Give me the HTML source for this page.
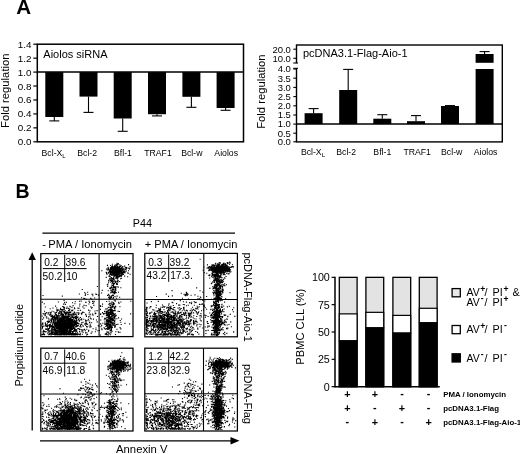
<!DOCTYPE html>
<html><head><meta charset="utf-8"><title>Figure</title>
<style>
html,body{margin:0;padding:0;background:#fff;}
body{width:520px;height:454px;overflow:hidden;}
svg{display:block;font-family:'Liberation Sans', Arial, Helvetica, sans-serif;fill:#000;}
</style></head><body>
<svg width="520" height="454" viewBox="0 0 520 454">
<rect x="0" y="0" width="520" height="454" fill="#fff"/>
<text transform="translate(16.2 13.9) scale(0.98 1)" font-size="21" font-weight="bold">A</text>
<text transform="translate(15.5 197.6) scale(0.93 1)" font-size="21" font-weight="bold">B</text>
<rect x="37.30" y="44.20" width="206.20" height="97.60" fill="none" stroke="#000" stroke-width="1.5"/>
<line x1="33.3" y1="141.8" x2="37.3" y2="141.8" stroke="#000" stroke-width="1.2"/>
<text x="31.6" y="145.3" font-size="9.9" text-anchor="end">0.0</text>
<line x1="33.3" y1="127.86" x2="37.3" y2="127.86" stroke="#000" stroke-width="1.2"/>
<text x="31.6" y="131.36" font-size="9.9" text-anchor="end">0.2</text>
<line x1="33.3" y1="113.91" x2="37.3" y2="113.91" stroke="#000" stroke-width="1.2"/>
<text x="31.6" y="117.41" font-size="9.9" text-anchor="end">0.4</text>
<line x1="33.3" y1="99.97" x2="37.3" y2="99.97" stroke="#000" stroke-width="1.2"/>
<text x="31.6" y="103.47" font-size="9.9" text-anchor="end">0.6</text>
<line x1="33.3" y1="86.03" x2="37.3" y2="86.03" stroke="#000" stroke-width="1.2"/>
<text x="31.6" y="89.53" font-size="9.9" text-anchor="end">0.8</text>
<line x1="33.3" y1="72.09" x2="37.3" y2="72.09" stroke="#000" stroke-width="1.2"/>
<text x="31.6" y="75.59" font-size="9.9" text-anchor="end">1.0</text>
<line x1="33.3" y1="58.14" x2="37.3" y2="58.14" stroke="#000" stroke-width="1.2"/>
<text x="31.6" y="61.64" font-size="9.9" text-anchor="end">1.2</text>
<line x1="33.3" y1="44.2" x2="37.3" y2="44.2" stroke="#000" stroke-width="1.2"/>
<text x="31.6" y="47.7" font-size="9.9" text-anchor="end">1.4</text>
<line x1="37.3" y1="72.09" x2="243.5" y2="72.09" stroke="#000" stroke-width="1.5"/>
<text x="43.3" y="57.5" font-size="11">Aiolos siRNA</text>
<text x="8.8" y="90.7" font-size="11.25" text-anchor="middle" transform="rotate(-90 8.8 90.7)">Fold regulation</text>
<rect x="45.30" y="72.09" width="18.00" height="44.91" fill="#000"/>
<line x1="54.3" y1="117.0" x2="54.3" y2="120.9" stroke="#000" stroke-width="1.1"/>
<line x1="49.3" y1="120.9" x2="59.3" y2="120.9" stroke="#000" stroke-width="1.1"/>
<text x="53.7" y="155.7" font-size="8.7" text-anchor="middle">Bcl-X<tspan font-size="6.2" dy="1.8">L</tspan></text>
<rect x="79.50" y="72.09" width="18.00" height="24.51" fill="#000"/>
<line x1="88.5" y1="96.6" x2="88.5" y2="112.4" stroke="#000" stroke-width="1.1"/>
<line x1="83.5" y1="112.4" x2="93.5" y2="112.4" stroke="#000" stroke-width="1.1"/>
<text x="87.2" y="155.7" font-size="8.7" text-anchor="middle">Bcl-2</text>
<rect x="113.70" y="72.09" width="18.00" height="46.41" fill="#000"/>
<line x1="122.7" y1="118.5" x2="122.7" y2="131.3" stroke="#000" stroke-width="1.1"/>
<line x1="117.7" y1="131.3" x2="127.7" y2="131.3" stroke="#000" stroke-width="1.1"/>
<text x="123.0" y="155.7" font-size="8.7" text-anchor="middle">Bfl-1</text>
<rect x="148.00" y="72.09" width="18.00" height="42.11" fill="#000"/>
<line x1="157.0" y1="114.2" x2="157.0" y2="115.9" stroke="#000" stroke-width="1.1"/>
<line x1="152.0" y1="115.9" x2="162.0" y2="115.9" stroke="#000" stroke-width="1.1"/>
<text x="158.0" y="155.7" font-size="8.7" text-anchor="middle">TRAF1</text>
<rect x="182.40" y="72.09" width="18.00" height="24.71" fill="#000"/>
<line x1="191.4" y1="96.8" x2="191.4" y2="107.3" stroke="#000" stroke-width="1.1"/>
<line x1="186.4" y1="107.3" x2="196.4" y2="107.3" stroke="#000" stroke-width="1.1"/>
<text x="191.8" y="155.7" font-size="8.7" text-anchor="middle">Bcl-w</text>
<rect x="216.60" y="72.09" width="18.00" height="35.91" fill="#000"/>
<line x1="225.6" y1="108.0" x2="225.6" y2="110.3" stroke="#000" stroke-width="1.1"/>
<line x1="220.6" y1="110.3" x2="230.6" y2="110.3" stroke="#000" stroke-width="1.1"/>
<text x="226.2" y="155.7" font-size="8.7" text-anchor="middle">Aiolos</text>
<rect x="296.50" y="45.00" width="205.80" height="96.90" fill="none" stroke="#000" stroke-width="1.4"/>
<rect x="295.00" y="63.20" width="3.00" height="4.80" fill="#fff"/>
<line x1="293.3" y1="141.8" x2="296.5" y2="141.8" stroke="#000" stroke-width="1.1"/>
<text x="290.9" y="145.1" font-size="9.5" text-anchor="end">0.0</text>
<line x1="293.3" y1="133.2" x2="296.5" y2="133.2" stroke="#000" stroke-width="1.1"/>
<text x="290.9" y="136.5" font-size="9.5" text-anchor="end">0.5</text>
<line x1="293.3" y1="124.1" x2="296.5" y2="124.1" stroke="#000" stroke-width="1.1"/>
<text x="290.9" y="127.4" font-size="9.5" text-anchor="end">1.0</text>
<line x1="293.3" y1="115.0" x2="296.5" y2="115.0" stroke="#000" stroke-width="1.1"/>
<text x="290.9" y="118.3" font-size="9.5" text-anchor="end">1.5</text>
<line x1="293.3" y1="105.8" x2="296.5" y2="105.8" stroke="#000" stroke-width="1.1"/>
<text x="290.9" y="109.1" font-size="9.5" text-anchor="end">2.0</text>
<line x1="293.3" y1="96.6" x2="296.5" y2="96.6" stroke="#000" stroke-width="1.1"/>
<text x="290.9" y="99.9" font-size="9.5" text-anchor="end">2.5</text>
<line x1="293.3" y1="87.4" x2="296.5" y2="87.4" stroke="#000" stroke-width="1.1"/>
<text x="290.9" y="90.7" font-size="9.5" text-anchor="end">3.0</text>
<line x1="293.3" y1="78.2" x2="296.5" y2="78.2" stroke="#000" stroke-width="1.1"/>
<text x="290.9" y="81.5" font-size="9.5" text-anchor="end">3.5</text>
<line x1="293.3" y1="69.0" x2="296.5" y2="69.0" stroke="#000" stroke-width="1.1"/>
<text x="290.9" y="72.3" font-size="9.5" text-anchor="end">4.0</text>
<line x1="293.3" y1="49.2" x2="296.5" y2="49.2" stroke="#000" stroke-width="1.1"/>
<text x="290.9" y="52.5" font-size="9.5" text-anchor="end">20.0</text>
<line x1="293.3" y1="58.3" x2="296.5" y2="58.3" stroke="#000" stroke-width="1.1"/>
<text x="290.9" y="61.6" font-size="9.5" text-anchor="end">10.0</text>
<line x1="293.3" y1="63.0" x2="298.0" y2="63.0" stroke="#000" stroke-width="1.1"/>
<line x1="293.3" y1="68.3" x2="298.0" y2="68.3" stroke="#000" stroke-width="1.1"/>
<line x1="296.5" y1="124.0" x2="502.3" y2="124.0" stroke="#000" stroke-width="1.5"/>
<text x="303.0" y="57.0" font-size="11">pcDNA3.1-Flag-Aio-1</text>
<text x="264.9" y="91.6" font-size="11.25" text-anchor="middle" transform="rotate(-90 264.9 91.6)">Fold regulation</text>
<rect x="304.60" y="113.20" width="18.00" height="10.80" fill="#000"/>
<line x1="313.6" y1="113.2" x2="313.6" y2="108.6" stroke="#000" stroke-width="1.1"/>
<line x1="308.6" y1="108.6" x2="318.6" y2="108.6" stroke="#000" stroke-width="1.1"/>
<text x="313.0" y="155.3" font-size="8.7" text-anchor="middle">Bcl-X<tspan font-size="6.2" dy="1.8">L</tspan></text>
<rect x="339.20" y="90.00" width="18.00" height="34.00" fill="#000"/>
<line x1="348.2" y1="90.0" x2="348.2" y2="69.4" stroke="#000" stroke-width="1.1"/>
<line x1="343.2" y1="69.4" x2="353.2" y2="69.4" stroke="#000" stroke-width="1.1"/>
<text x="346.2" y="155.3" font-size="8.7" text-anchor="middle">Bcl-2</text>
<rect x="373.30" y="118.70" width="18.00" height="5.30" fill="#000"/>
<line x1="382.3" y1="118.7" x2="382.3" y2="114.7" stroke="#000" stroke-width="1.1"/>
<line x1="377.3" y1="114.7" x2="387.3" y2="114.7" stroke="#000" stroke-width="1.1"/>
<text x="382.3" y="155.3" font-size="8.7" text-anchor="middle">Bfl-1</text>
<rect x="407.00" y="121.20" width="18.00" height="2.80" fill="#000"/>
<line x1="416.0" y1="121.2" x2="416.0" y2="115.6" stroke="#000" stroke-width="1.1"/>
<line x1="411.0" y1="115.6" x2="421.0" y2="115.6" stroke="#000" stroke-width="1.1"/>
<text x="417.2" y="155.3" font-size="8.7" text-anchor="middle">TRAF1</text>
<rect x="441.00" y="106.00" width="18.00" height="18.00" fill="#000"/>
<line x1="450.0" y1="106.0" x2="450.0" y2="105.6" stroke="#000" stroke-width="1.1"/>
<line x1="445.0" y1="105.6" x2="455.0" y2="105.6" stroke="#000" stroke-width="1.1"/>
<text x="451.7" y="155.3" font-size="8.7" text-anchor="middle">Bcl-w</text>
<rect x="475.60" y="69.00" width="18.00" height="55.00" fill="#000"/>
<text x="485.5" y="155.3" font-size="8.7" text-anchor="middle">Aiolos</text>
<rect x="475.60" y="54.00" width="18.00" height="8.80" fill="#000"/>
<line x1="484.6" y1="54" x2="484.6" y2="51.6" stroke="#000" stroke-width="1.1"/>
<line x1="479.6" y1="51.6" x2="489.6" y2="51.6" stroke="#000" stroke-width="1.1"/>
<text transform="translate(142.3 226.8) scale(1.04 1)" font-size="10.4" text-anchor="middle">P44</text>
<line x1="42.4" y1="233.2" x2="235" y2="233.2" stroke="#000" stroke-width="1.3"/>
<text transform="translate(42.2 248.0) scale(1.04 1)" font-size="10.6">-</text>
<text transform="translate(48.3 248.0) scale(1.055 1)" font-size="10.6">PMA / Ionomycin</text>
<text transform="translate(144.8 247.8) scale(1.045 1)" font-size="10.6">+ PMA / Ionomycin</text>
<line x1="32.2" y1="430.5" x2="32.2" y2="258" stroke="#000" stroke-width="1.3"/>
<polygon points="32.2,252.3 28.5,260 35.9,260" fill="#000"/>
<line x1="40" y1="440.8" x2="232" y2="440.8" stroke="#000" stroke-width="1.2"/>
<polygon points="239.5,440.8 230.5,437 230.5,444.6" fill="#000"/>
<text x="23" y="345.2" font-size="11" text-anchor="middle" transform="rotate(-90 23 345.2)">Propidium Iodide</text>
<text x="141.8" y="452.7" font-size="11.3" text-anchor="middle">Annexin V</text>
<text x="243.5" y="252.5" font-size="11" transform="rotate(90 243.5 252.5)">pcDNA-Flag-Aio-1</text>
<text x="243.5" y="364.0" font-size="11" transform="rotate(90 243.5 364.0)">pcDNA-Flag</text>
<path d="M66.8 323.7h1.1M60.6 323.9h1.1M61.3 319.0h1.1M66.2 333.3h1.1M64.8 332.8h1.1M64.4 328.3h1.1M69.4 313.8h1.1M66.7 329.0h1.1M49.7 313.7h1.1M59.4 319.3h1.1M62.6 327.6h1.1M58.1 329.1h1.1M65.9 327.7h1.1M76.0 320.9h1.1M72.0 329.4h1.1M57.3 321.2h1.1M62.1 323.1h1.1M64.8 329.9h1.1M55.7 322.4h1.1M72.2 321.9h1.1M64.8 319.8h1.1M51.6 328.5h1.1M72.9 325.8h1.1M60.5 311.4h1.1M56.7 324.8h1.1M62.5 329.0h1.1M69.2 315.2h1.1M70.1 330.2h1.1M65.7 334.1h1.1M56.1 312.7h1.1M73.7 321.3h1.1M57.4 317.9h1.1M66.9 312.6h1.1M60.0 333.0h1.1M60.6 324.2h1.1M52.5 322.5h1.1M62.3 334.7h1.1M70.4 317.7h1.1M64.1 333.2h1.1M66.3 327.2h1.1M67.7 334.8h1.1M70.5 325.6h1.1M60.7 327.5h1.1M66.0 317.1h1.1M53.5 334.0h1.1M70.7 324.2h1.1M75.2 316.3h1.1M61.8 329.4h1.1M67.9 327.8h1.1M71.7 326.3h1.1M59.8 320.9h1.1M63.2 332.8h1.1M70.1 319.3h1.1M59.6 334.4h1.1M55.3 317.7h1.1M68.4 334.1h1.1M53.3 334.3h1.1M67.7 320.0h1.1M69.5 333.4h1.1M64.0 327.9h1.1M67.3 326.6h1.1M65.1 324.3h1.1M63.0 329.5h1.1M67.3 330.8h1.1M65.4 334.3h1.1M67.6 328.7h1.1M68.9 321.7h1.1M73.3 333.8h1.1M64.8 317.6h1.1M64.8 328.3h1.1M67.9 322.5h1.1M59.0 327.5h1.1M65.6 334.4h1.1M70.5 330.8h1.1M64.5 334.0h1.1M60.9 334.2h1.1M70.2 325.0h1.1M74.3 331.5h1.1M60.3 313.6h1.1M67.7 323.1h1.1M42.6 333.1h1.1M51.9 333.1h1.1M51.6 330.3h1.1M72.0 326.7h1.1M64.4 324.5h1.1M64.0 331.1h1.1M74.6 324.9h1.1M60.7 332.8h1.1M54.2 333.9h1.1M67.0 322.2h1.1M67.9 326.2h1.1M73.1 328.3h1.1M54.4 334.4h1.1M51.8 318.3h1.1M68.6 334.4h1.1M55.8 334.1h1.1M63.6 321.2h1.1M56.3 327.0h1.1M43.7 331.4h1.1M67.6 319.9h1.1M58.9 334.8h1.1M66.1 328.3h1.1M55.2 334.8h1.1M44.1 334.6h1.1M57.1 321.9h1.1M61.7 322.0h1.1M64.8 334.2h1.1M60.0 309.4h1.1M69.2 312.5h1.1M58.3 327.7h1.1M69.3 325.4h1.1M73.0 326.1h1.1M70.9 325.1h1.1M75.2 334.6h1.1M65.6 316.6h1.1M58.5 331.5h1.1M58.5 332.7h1.1M61.1 317.1h1.1M63.9 333.0h1.1M63.6 325.8h1.1M58.5 326.8h1.1M65.0 314.4h1.1M60.6 319.7h1.1M61.8 316.6h1.1M59.4 326.2h1.1M60.8 320.6h1.1M75.8 323.5h1.1M62.5 316.5h1.1M46.2 326.5h1.1M66.6 316.5h1.1M62.6 317.1h1.1M55.1 322.8h1.1M61.2 317.7h1.1M58.7 333.9h1.1M60.9 330.6h1.1M56.3 309.9h1.1M59.5 327.5h1.1M68.6 331.0h1.1M65.4 330.2h1.1M68.0 334.8h1.1M47.1 328.7h1.1M72.9 331.8h1.1M59.4 323.4h1.1M49.6 334.7h1.1M60.7 332.2h1.1M64.8 304.4h1.1M59.0 327.6h1.1M66.8 317.8h1.1M67.2 323.0h1.1M74.0 320.8h1.1M64.1 334.3h1.1M63.5 324.3h1.1M72.2 320.7h1.1M62.7 323.0h1.1M61.7 333.8h1.1M66.6 329.9h1.1M66.2 334.7h1.1M68.7 330.5h1.1M55.5 334.7h1.1M76.7 334.8h1.1M57.9 315.7h1.1M64.3 327.5h1.1M55.5 322.7h1.1M70.8 334.2h1.1M59.9 326.4h1.1M60.7 327.1h1.1M56.6 330.5h1.1M71.1 320.8h1.1M60.3 330.5h1.1M69.7 331.4h1.1M66.6 325.7h1.1M65.0 326.7h1.1M69.2 327.3h1.1M75.0 321.5h1.1M71.6 323.5h1.1M69.3 328.3h1.1M63.6 330.8h1.1M64.1 334.3h1.1M71.0 328.4h1.1M61.5 328.5h1.1M55.6 328.6h1.1M63.4 312.2h1.1M68.6 319.0h1.1M43.0 317.9h1.1M74.9 318.2h1.1M52.5 322.8h1.1M66.9 320.2h1.1M64.3 329.0h1.1M68.3 334.7h1.1M65.7 327.0h1.1M50.0 333.2h1.1M57.5 322.8h1.1M69.3 325.8h1.1M64.1 321.5h1.1M64.9 320.3h1.1M58.1 334.3h1.1M82.7 326.1h1.1M69.6 323.1h1.1M63.0 332.4h1.1M64.4 317.3h1.1M71.5 328.0h1.1M63.1 331.0h1.1M67.1 331.5h1.1M63.4 326.9h1.1M68.2 323.8h1.1M58.2 318.1h1.1M51.8 325.5h1.1M47.7 322.4h1.1M67.3 320.7h1.1M62.5 329.5h1.1M52.2 323.9h1.1M66.9 333.9h1.1M54.1 317.6h1.1M59.1 327.0h1.1M61.6 317.3h1.1M51.1 331.9h1.1M54.0 329.8h1.1M55.8 333.8h1.1M57.8 323.7h1.1M63.7 329.2h1.1M65.7 323.4h1.1M54.6 330.1h1.1M55.3 318.7h1.1M55.0 322.1h1.1M63.2 334.1h1.1M62.8 316.8h1.1M60.6 324.1h1.1M57.2 325.1h1.1M65.6 330.4h1.1M57.8 324.9h1.1M42.3 324.3h1.1M63.2 318.6h1.1M64.5 315.0h1.1M52.5 326.5h1.1M60.6 323.7h1.1M67.6 328.7h1.1M56.5 325.2h1.1M62.5 324.5h1.1M65.2 330.6h1.1M52.7 320.4h1.1M57.3 322.9h1.1M62.1 317.7h1.1M63.8 322.1h1.1M59.8 329.2h1.1M60.5 335.0h1.1M66.5 313.0h1.1M61.3 333.0h1.1M68.1 324.9h1.1M61.2 330.0h1.1M60.9 322.1h1.1M60.1 308.4h1.1M73.4 334.2h1.1M62.1 310.9h1.1M57.7 324.0h1.1M57.7 332.0h1.1M63.1 326.1h1.1M63.4 317.8h1.1M66.9 324.3h1.1M68.5 322.1h1.1M62.6 325.7h1.1M48.4 325.6h1.1M74.8 334.1h1.1M59.3 330.2h1.1M68.4 320.6h1.1M62.9 334.8h1.1M69.1 320.8h1.1M65.3 325.2h1.1M71.6 334.7h1.1M60.7 330.4h1.1M72.0 324.7h1.1M69.8 328.0h1.1M58.7 334.0h1.1M50.6 315.0h1.1M59.5 333.7h1.1M60.6 325.1h1.1M54.7 324.7h1.1M52.0 325.7h1.1M65.3 325.0h1.1M61.2 328.8h1.1M64.2 319.2h1.1M74.9 322.1h1.1M62.1 330.9h1.1M57.6 322.2h1.1M60.3 318.9h1.1M66.9 327.6h1.1M78.9 329.5h1.1M63.0 320.6h1.1M48.8 334.5h1.1M66.8 328.4h1.1M66.7 330.9h1.1M66.0 329.9h1.1M72.8 325.0h1.1M54.7 334.3h1.1M67.0 319.3h1.1M61.8 318.8h1.1M65.3 324.2h1.1M82.6 322.3h1.1M69.3 331.3h1.1M51.9 315.9h1.1M68.9 326.7h1.1M70.6 325.6h1.1M69.2 309.1h1.1M50.4 333.8h1.1M63.2 327.3h1.1M47.3 321.8h1.1M64.6 316.3h1.1M63.0 332.5h1.1M56.6 334.0h1.1M62.0 330.7h1.1M65.7 328.6h1.1M61.3 315.0h1.1M58.6 334.2h1.1M54.6 326.2h1.1M62.3 323.6h1.1M57.5 326.5h1.1M57.7 334.3h1.1M66.7 324.3h1.1M73.8 325.4h1.1M59.4 324.4h1.1M66.9 333.2h1.1M59.2 319.5h1.1M73.1 327.1h1.1M63.4 331.4h1.1M67.6 308.3h1.1M50.5 316.6h1.1M63.8 320.4h1.1M82.3 325.8h1.1M56.7 323.8h1.1M64.2 333.6h1.1M55.9 322.2h1.1M74.2 325.0h1.1M60.5 330.0h1.1M64.4 331.7h1.1M68.5 316.2h1.1M75.8 329.5h1.1M54.0 324.9h1.1M82.3 330.6h1.1M76.0 320.6h1.1M68.3 326.1h1.1M56.6 325.9h1.1M60.3 333.3h1.1M67.9 327.4h1.1M68.6 316.5h1.1M61.6 329.2h1.1M66.2 321.7h1.1M62.3 329.3h1.1M63.8 327.8h1.1M73.0 313.8h1.1M54.7 334.0h1.1M62.7 334.6h1.1M79.3 332.0h1.1M61.0 325.5h1.1M56.6 322.0h1.1M67.8 321.1h1.1M63.5 325.8h1.1M69.9 324.3h1.1M61.9 329.0h1.1M61.8 330.2h1.1M74.0 317.4h1.1M55.7 328.8h1.1M65.6 333.1h1.1M75.2 314.5h1.1M69.7 327.8h1.1M61.8 326.9h1.1M70.3 314.7h1.1M60.8 325.7h1.1M63.5 328.0h1.1M60.1 330.2h1.1M46.7 325.2h1.1M68.1 322.5h1.1M60.2 334.9h1.1M75.0 324.7h1.1M68.5 323.2h1.1M63.3 333.9h1.1M49.4 314.3h1.1M63.8 330.6h1.1M65.9 308.2h1.1M60.8 332.1h1.1M71.0 325.5h1.1M63.7 309.5h1.1M75.4 330.7h1.1M48.8 324.6h1.1M52.7 326.9h1.1M68.8 322.6h1.1M73.1 317.6h1.1M65.4 329.6h1.1M57.2 325.6h1.1M63.7 327.2h1.1M60.8 319.6h1.1M61.0 333.8h1.1M66.1 325.2h1.1M68.0 332.3h1.1M54.9 323.6h1.1M70.8 326.2h1.1M55.1 317.9h1.1M48.2 325.3h1.1M59.6 323.7h1.1M57.6 328.7h1.1M60.0 319.3h1.1M57.9 325.2h1.1M68.7 325.6h1.1M75.9 333.8h1.1M59.8 320.0h1.1M77.4 308.1h1.1M62.7 320.4h1.1M52.6 329.2h1.1M62.7 328.7h1.1M65.2 312.7h1.1M48.8 333.9h1.1M64.5 331.2h1.1M66.3 328.8h1.1M61.3 334.6h1.1M59.8 331.6h1.1M56.8 330.6h1.1M76.1 324.7h1.1M61.7 328.6h1.1M56.9 317.5h1.1M70.1 326.9h1.1M66.9 328.5h1.1M73.2 325.2h1.1M58.8 322.8h1.1M63.4 331.7h1.1M58.6 323.6h1.1M67.7 323.7h1.1M53.8 328.0h1.1M64.3 328.5h1.1M68.8 318.5h1.1M60.4 323.5h1.1M73.0 331.1h1.1M66.3 320.7h1.1M80.5 319.4h1.1M72.0 322.0h1.1M69.1 321.0h1.1M43.6 334.6h1.1M74.5 329.2h1.1M63.7 325.7h1.1M58.3 331.5h1.1M55.9 328.6h1.1M57.3 331.3h1.1M64.1 326.1h1.1M59.5 316.0h1.1M61.2 328.1h1.1M57.9 320.7h1.1M62.8 321.6h1.1M72.0 323.7h1.1M61.3 328.5h1.1M63.8 312.9h1.1M61.9 330.0h1.1M75.9 333.8h1.1M63.2 323.2h1.1M59.6 331.7h1.1M57.0 333.5h1.1M58.9 327.4h1.1M57.7 326.6h1.1M71.3 314.3h1.1M58.7 327.6h1.1M70.5 326.9h1.1M62.1 318.7h1.1M66.9 329.3h1.1M46.9 323.2h1.1M65.4 334.2h1.1M60.8 325.6h1.1M59.7 327.3h1.1M57.3 318.3h1.1M58.3 321.3h1.1M67.8 317.4h1.1M68.0 316.3h1.1M65.6 318.4h1.1M64.5 334.4h1.1M75.8 326.6h1.1M54.7 327.0h1.1M70.7 328.9h1.1M65.4 328.4h1.1M64.4 322.7h1.1M66.2 317.7h1.1M65.7 334.9h1.1M49.8 324.2h1.1M62.8 323.2h1.1M62.8 318.7h1.1M61.7 329.1h1.1M43.1 334.1h1.1M58.4 327.3h1.1M61.9 333.6h1.1M58.4 334.8h1.1M45.9 329.4h1.1M65.8 331.5h1.1M58.5 325.7h1.1M59.3 330.0h1.1M59.1 327.1h1.1M62.7 309.8h1.1M68.7 326.9h1.1M62.7 319.4h1.1M64.1 329.8h1.1M78.1 334.2h1.1M48.4 319.1h1.1M74.6 331.5h1.1M69.1 332.0h1.1M57.5 321.2h1.1M56.0 331.7h1.1M55.4 312.8h1.1M77.6 334.2h1.1M71.3 315.6h1.1M86.0 323.5h1.1M59.6 319.7h1.1M54.8 326.2h1.1M74.2 330.6h1.1M67.2 334.7h1.1M46.2 312.6h1.1M57.2 316.6h1.1M63.4 325.3h1.1M63.9 329.4h1.1M57.6 319.9h1.1M61.7 310.7h1.1M67.0 328.9h1.1M61.6 324.7h1.1M63.1 332.1h1.1M67.4 330.7h1.1M72.9 327.0h1.1M60.2 321.5h1.1M56.9 319.8h1.1M76.3 334.7h1.1M65.7 327.4h1.1M51.2 316.3h1.1M55.4 326.9h1.1M64.1 325.4h1.1M55.2 320.0h1.1M71.8 319.6h1.1M69.1 310.1h1.1M57.2 325.0h1.1M61.7 327.2h1.1M61.4 318.5h1.1M65.6 325.7h1.1M61.8 325.7h1.1M57.3 309.7h1.1M66.9 328.4h1.1M57.3 319.0h1.1M52.1 317.4h1.1M68.8 328.2h1.1M65.2 324.8h1.1M54.4 334.9h1.1M62.1 325.3h1.1M52.5 332.0h1.1M65.7 314.3h1.1M64.5 320.7h1.1M66.3 329.5h1.1M64.6 331.6h1.1M51.2 325.5h1.1M53.1 331.7h1.1M72.6 324.6h1.1M68.2 314.1h1.1M62.1 320.1h1.1M47.6 314.1h1.1M78.3 328.5h1.1M63.5 330.9h1.1M75.4 326.5h1.1M58.7 334.6h1.1M58.3 330.1h1.1M79.5 326.5h1.1M54.4 318.2h1.1M44.7 315.6h1.1M65.7 312.4h1.1M48.8 321.0h1.1M67.6 315.1h1.1M60.2 320.1h1.1M73.3 327.8h1.1M70.8 334.8h1.1M63.6 328.8h1.1M59.9 331.3h1.1M64.4 326.6h1.1M66.0 334.2h1.1M51.2 321.8h1.1M67.0 334.1h1.1M73.6 317.1h1.1M48.4 331.7h1.1M69.1 333.9h1.1M61.7 328.6h1.1M66.5 326.4h1.1M66.1 334.0h1.1M52.4 316.8h1.1M58.3 321.6h1.1M65.0 328.1h1.1M57.8 325.7h1.1M70.2 322.4h1.1M63.7 330.8h1.1M74.8 323.2h1.1M67.9 321.3h1.1M60.9 333.6h1.1M54.5 331.3h1.1M64.5 332.6h1.1M68.0 314.4h1.1M72.7 319.3h1.1M61.7 320.7h1.1M60.4 327.5h1.1M58.7 327.3h1.1M63.0 330.2h1.1M42.0 327.0h1.1M63.2 333.6h1.1M63.7 313.0h1.1M71.1 328.8h1.1M74.7 317.9h1.1M81.2 324.4h1.1M68.1 324.5h1.1M54.5 322.9h1.1M69.8 333.2h1.1M69.5 334.2h1.1M52.5 327.8h1.1M69.0 321.1h1.1M72.8 313.9h1.1M71.2 335.0h1.1M68.7 327.0h1.1M57.7 332.2h1.1M73.8 315.0h1.1M71.4 326.3h1.1M60.4 314.0h1.1M52.0 325.7h1.1M68.5 321.9h1.1M75.1 333.0h1.1M52.3 319.5h1.1M70.1 329.1h1.1M53.1 326.9h1.1M69.0 331.0h1.1M59.2 329.4h1.1M69.0 327.6h1.1M48.9 321.6h1.1M66.6 327.8h1.1M69.7 325.6h1.1M62.3 321.4h1.1M67.3 323.4h1.1M61.0 334.9h1.1M62.1 328.7h1.1M77.5 310.5h1.1M51.1 328.7h1.1M64.9 321.3h1.1M60.2 323.3h1.1M70.2 327.4h1.1M64.6 332.4h1.1M51.6 328.2h1.1M62.9 315.6h1.1M63.9 321.7h1.1M58.3 319.8h1.1M46.4 324.6h1.1M67.2 317.2h1.1M55.0 325.5h1.1M75.0 327.0h1.1M54.0 334.3h1.1M48.8 321.3h1.1M53.1 321.2h1.1M64.8 319.7h1.1M60.5 323.3h1.1M69.4 314.8h1.1M52.5 323.2h1.1M70.9 325.5h1.1M65.9 316.1h1.1M69.1 316.7h1.1M60.9 329.5h1.1M52.1 318.6h1.1M68.6 319.3h1.1M62.6 327.4h1.1M61.7 321.5h1.1M45.2 328.8h1.1M62.5 322.3h1.1M58.7 317.7h1.1M54.0 323.8h1.1M52.0 317.1h1.1M61.9 318.4h1.1M61.3 330.1h1.1M56.0 322.7h1.1M59.1 325.8h1.1M62.3 332.0h1.1M65.1 330.8h1.1M63.7 324.6h1.1M66.8 319.1h1.1M56.2 323.4h1.1M68.3 325.0h1.1M45.0 324.6h1.1M62.0 320.7h1.1M55.8 327.7h1.1M66.8 326.4h1.1M49.3 327.6h1.1M56.6 320.3h1.1M60.9 320.9h1.1M61.4 331.9h1.1M52.2 317.2h1.1M55.1 328.7h1.1M72.2 323.1h1.1M73.1 334.9h1.1M74.7 317.2h1.1M70.3 324.8h1.1M71.0 325.3h1.1M63.5 325.7h1.1M56.9 324.5h1.1M69.4 325.7h1.1M64.0 318.2h1.1M54.5 318.8h1.1M76.2 315.1h1.1M60.9 327.0h1.1M48.4 332.7h1.1M58.9 326.3h1.1M53.6 330.3h1.1M63.1 326.6h1.1M59.6 334.7h1.1M65.5 328.6h1.1M76.0 326.7h1.1M66.5 323.2h1.1M55.3 334.8h1.1M56.4 332.9h1.1M51.9 327.5h1.1M54.7 334.0h1.1M74.0 329.0h1.1M60.5 314.2h1.1M68.9 312.1h1.1M60.9 320.3h1.1M67.1 325.9h1.1M63.1 323.1h1.1M63.8 321.7h1.1M63.4 317.3h1.1M59.2 312.0h1.1M63.6 334.4h1.1M58.6 315.9h1.1M56.7 329.2h1.1M72.4 310.0h1.1M67.9 334.4h1.1M61.6 324.4h1.1M55.6 317.3h1.1M60.1 331.2h1.1M61.9 333.8h1.1M64.5 310.6h1.1M65.5 334.2h1.1M75.8 318.1h1.1M69.4 320.2h1.1M60.9 313.6h1.1M70.8 327.3h1.1M67.5 317.6h1.1M57.3 328.2h1.1M56.1 328.8h1.1M62.8 319.9h1.1M62.1 306.5h1.1M51.8 318.5h1.1M68.7 322.5h1.1M72.6 322.7h1.1M53.0 317.4h1.1M66.0 333.9h1.1M62.3 323.4h1.1M63.8 325.3h1.1M78.9 331.3h1.1M55.9 317.5h1.1M46.8 329.2h1.1M56.2 318.1h1.1M54.6 317.9h1.1M56.4 316.8h1.1M73.9 327.9h1.1M66.3 314.0h1.1M65.8 329.1h1.1M66.0 333.9h1.1M56.9 321.8h1.1M51.0 330.9h1.1M60.7 320.5h1.1M70.5 323.1h1.1M70.3 322.4h1.1M49.2 315.2h1.1M66.3 334.0h1.1M63.9 328.9h1.1M53.7 328.9h1.1M58.9 332.1h1.1M63.6 332.4h1.1M53.2 311.7h1.1M61.9 333.4h1.1M64.8 322.7h1.1M58.8 322.5h1.1M64.0 326.2h1.1M63.3 334.9h1.1M62.3 328.4h1.1M60.0 328.0h1.1M64.3 334.7h1.1M58.1 325.0h1.1M67.0 334.1h1.1M53.3 332.5h1.1M68.4 334.0h1.1M54.8 323.5h1.1M60.6 330.4h1.1M60.3 335.0h1.1M64.0 334.0h1.1M66.1 330.8h1.1M58.4 325.0h1.1M56.2 330.7h1.1M65.6 331.7h1.1M59.2 318.8h1.1M59.1 323.8h1.1M56.0 327.5h1.1M54.5 319.4h1.1M66.6 319.5h1.1M45.1 329.3h1.1M53.4 327.5h1.1M65.5 324.8h1.1M61.0 334.0h1.1M72.0 320.8h1.1M60.9 334.3h1.1M70.5 322.8h1.1M58.2 330.7h1.1M53.5 321.7h1.1M54.6 334.7h1.1M63.0 331.0h1.1M67.7 317.3h1.1M48.4 331.4h1.1M66.7 334.0h1.1M55.6 331.6h1.1M77.6 323.5h1.1M52.1 329.2h1.1M59.3 331.0h1.1M67.9 333.2h1.1M58.1 326.9h1.1M45.3 325.5h1.1M73.3 326.5h1.1M55.3 322.1h1.1M68.6 326.9h1.1M49.5 325.6h1.1M63.8 322.6h1.1M50.7 329.7h1.1M72.9 326.5h1.1M53.4 334.4h1.1M64.4 316.3h1.1M67.6 327.2h1.1M73.7 330.1h1.1M70.4 319.6h1.1M68.2 318.6h1.1M64.8 326.8h1.1M62.8 332.3h1.1M69.6 333.3h1.1M58.6 326.4h1.1M58.9 320.2h1.1M62.8 324.1h1.1M67.8 334.0h1.1M63.8 316.5h1.1M76.1 324.6h1.1M71.2 310.4h1.1M49.0 326.9h1.1M61.6 330.7h1.1M64.2 330.1h1.1M65.8 326.7h1.1M66.0 334.0h1.1M56.8 330.8h1.1M57.5 334.9h1.1M58.5 319.8h1.1M76.1 334.7h1.1M58.7 316.3h1.1M59.9 334.5h1.1M64.4 321.6h1.1M57.9 334.7h1.1M64.4 330.7h1.1M76.1 316.5h1.1M54.8 334.9h1.1M51.3 328.0h1.1M45.3 313.2h1.1M64.4 329.2h1.1M45.0 326.0h1.1M57.2 322.9h1.1M56.0 315.6h1.1M67.1 330.4h1.1M66.9 325.3h1.1M63.5 321.3h1.1M67.2 325.8h1.1M61.9 325.0h1.1M58.0 324.6h1.1M66.9 334.7h1.1M56.8 333.9h1.1M69.3 330.4h1.1M72.9 334.0h1.1M56.9 320.2h1.1M74.9 318.5h1.1M64.5 315.8h1.1M67.2 328.6h1.1M67.1 334.3h1.1M75.1 334.2h1.1M70.7 324.8h1.1M68.0 328.6h1.1M57.1 328.9h1.1M70.6 329.5h1.1M77.9 319.2h1.1M76.8 334.9h1.1M56.0 333.7h1.1M71.4 327.4h1.1M68.7 324.3h1.1M69.9 327.5h1.1M61.4 333.9h1.1M66.6 330.2h1.1M61.4 327.4h1.1M56.7 324.6h1.1M62.8 326.7h1.1M56.5 327.7h1.1M63.3 325.8h1.1M54.9 329.7h1.1M70.4 328.4h1.1M60.1 329.7h1.1M61.2 322.1h1.1M74.8 330.6h1.1M58.1 324.4h1.1M64.5 328.1h1.1M57.3 319.1h1.1M68.1 324.8h1.1M55.2 317.1h1.1M53.6 329.0h1.1M65.6 326.3h1.1M55.2 324.7h1.1M60.4 325.1h1.1M56.6 327.9h1.1M50.2 333.1h1.1M63.0 324.3h1.1M58.3 332.2h1.1M58.6 329.3h1.1M76.2 330.7h1.1M66.3 322.7h1.1M70.3 319.0h1.1M63.2 334.0h1.1M66.0 317.6h1.1M71.2 333.5h1.1M49.0 331.2h1.1M73.8 320.7h1.1M71.5 316.9h1.1M68.7 333.9h1.1M63.2 317.1h1.1M61.2 317.0h1.1M65.5 334.7h1.1M66.2 326.8h1.1M77.0 325.5h1.1M63.6 328.6h1.1M58.2 324.0h1.1M64.1 334.9h1.1M58.7 317.9h1.1M59.6 324.5h1.1M54.1 333.1h1.1M64.0 328.9h1.1M63.3 317.3h1.1M66.8 324.8h1.1M65.3 322.3h1.1M54.7 313.8h1.1M70.9 331.0h1.1M58.4 325.4h1.1M47.1 333.1h1.1M68.1 319.9h1.1M55.1 330.1h1.1M74.0 312.3h1.1M56.1 326.6h1.1M69.8 325.9h1.1M71.4 307.4h1.1M47.1 330.7h1.1M49.4 330.9h1.1M66.0 333.5h1.1M58.3 334.7h1.1M68.0 316.8h1.1M70.0 319.8h1.1M66.4 332.3h1.1M62.9 324.1h1.1M78.4 334.1h1.1M58.8 334.6h1.1M48.2 330.8h1.1M61.6 326.9h1.1M58.3 322.0h1.1M57.5 323.1h1.1M58.4 310.1h1.1M59.0 321.7h1.1M61.9 318.1h1.1M61.0 331.0h1.1M73.3 322.1h1.1M70.0 332.3h1.1M60.5 333.6h1.1M71.4 324.6h1.1M62.0 321.6h1.1M65.8 328.1h1.1M70.4 323.6h1.1M68.5 324.3h1.1M68.0 333.0h1.1M54.1 330.6h1.1M58.2 316.3h1.1M74.4 328.8h1.1M65.3 316.9h1.1M57.4 319.5h1.1M68.2 323.6h1.1M71.9 327.0h1.1M69.7 318.6h1.1M63.5 332.0h1.1M58.7 328.8h1.1M59.9 317.9h1.1M84.9 321.0h1.1M75.5 322.1h1.1M65.3 326.9h1.1M57.0 330.7h1.1M65.8 331.9h1.1M67.5 314.9h1.1M66.4 329.4h1.1M59.8 334.8h1.1M69.0 322.1h1.1M53.6 321.1h1.1M51.5 333.1h1.1M61.6 314.1h1.1M50.1 325.0h1.1M65.0 313.4h1.1M46.7 321.5h1.1M74.0 335.0h1.1M52.9 326.4h1.1M63.2 307.5h1.1M59.5 318.9h1.1M47.9 328.5h1.1M58.3 320.2h1.1M65.4 318.1h1.1M56.7 324.5h1.1M69.1 318.6h1.1M67.4 320.9h1.1M48.6 328.6h1.1M63.0 317.9h1.1M68.9 327.9h1.1M70.8 331.1h1.1M61.4 322.9h1.1M59.7 330.9h1.1M50.9 332.9h1.1M61.6 330.1h1.1M70.4 311.7h1.1M63.1 327.7h1.1M59.4 318.0h1.1M56.7 334.4h1.1M62.9 333.9h1.1M61.7 314.9h1.1M67.5 320.4h1.1M59.0 320.1h1.1M59.3 334.4h1.1M67.2 331.0h1.1M68.6 318.2h1.1M55.9 312.6h1.1M61.0 333.4h1.1M66.9 316.4h1.1M62.8 331.9h1.1M60.3 312.9h1.1M68.8 328.4h1.1M61.0 334.4h1.1M73.3 334.2h1.1M42.1 334.6h1.1M57.8 331.1h1.1M68.2 328.7h1.1M62.3 317.2h1.1M67.4 327.2h1.1M55.4 319.0h1.1M82.2 312.0h1.1M61.3 324.2h1.1M70.0 315.0h1.1M73.9 321.8h1.1M63.1 331.5h1.1M54.5 330.6h1.1M58.6 323.2h1.1M63.1 316.6h1.1M73.9 324.5h1.1M57.8 302.0h1.1M59.4 319.1h1.1M66.0 328.5h1.1M59.3 325.7h1.1M65.7 329.0h1.1M61.0 312.6h1.1M54.0 315.9h1.1M63.4 326.5h1.1M56.3 326.3h1.1M56.0 324.1h1.1M68.2 328.2h1.1M72.6 334.3h1.1M69.7 321.0h1.1M64.6 323.7h1.1M56.6 332.7h1.1M60.9 332.8h1.1M59.0 321.6h1.1M67.7 334.0h1.1M77.9 319.6h1.1M57.0 327.9h1.1M51.4 311.3h1.1M63.5 308.4h1.1M70.5 325.8h1.1M57.7 324.5h1.1M77.4 320.3h1.1M64.3 313.1h1.1M67.6 325.7h1.1M66.7 322.7h1.1M61.8 331.2h1.1M61.5 322.3h1.1M61.4 318.7h1.1M64.5 323.4h1.1M72.9 334.9h1.1M67.5 322.4h1.1M68.7 327.6h1.1M65.0 325.7h1.1M57.0 322.2h1.1M72.8 331.6h1.1M66.3 330.1h1.1M59.5 327.4h1.1M68.0 313.0h1.1M58.7 326.9h1.1M72.7 318.7h1.1M76.3 312.9h1.1M81.0 330.0h1.1M62.8 320.5h1.1M64.1 322.0h1.1M57.3 324.0h1.1M57.0 333.0h1.1M67.2 321.9h1.1M59.6 321.7h1.1M60.2 328.0h1.1M62.2 316.8h1.1M75.9 324.0h1.1M70.3 317.8h1.1M60.2 320.0h1.1M65.0 323.2h1.1M76.2 331.5h1.1M73.1 321.0h1.1M69.1 332.5h1.1M69.8 320.2h1.1M65.6 324.7h1.1M68.0 323.6h1.1M71.5 333.3h1.1M70.5 324.1h1.1M55.8 333.9h1.1M59.9 327.9h1.1M64.8 325.2h1.1M52.8 321.1h1.1M69.3 321.2h1.1M53.0 319.6h1.1M77.7 325.6h1.1M71.5 319.6h1.1M66.4 326.9h1.1M56.5 334.1h1.1M63.5 327.4h1.1M67.2 327.9h1.1M70.0 323.3h1.1M64.6 331.4h1.1M59.3 322.7h1.1M54.6 330.3h1.1M57.3 324.4h1.1M67.5 315.7h1.1M63.2 325.3h1.1M51.6 331.6h1.1M65.1 325.0h1.1M54.7 331.3h1.1M64.6 330.5h1.1M71.6 335.0h1.1M79.3 329.3h1.1M59.7 325.5h1.1M55.8 323.1h1.1M48.7 325.3h1.1M66.2 324.9h1.1M60.3 332.4h1.1M58.0 334.1h1.1M53.6 330.2h1.1M63.7 323.3h1.1M55.3 323.1h1.1M61.6 309.5h1.1M72.2 333.7h1.1M66.2 334.0h1.1M72.5 324.9h1.1M60.9 334.3h1.1M65.6 325.5h1.1M69.0 321.0h1.1M69.2 327.3h1.1M72.0 332.7h1.1M58.0 323.0h1.1M72.1 325.9h1.1M69.0 310.1h1.1M68.1 322.0h1.1M60.2 328.4h1.1M60.3 319.7h1.1M54.2 329.0h1.1M58.3 325.8h1.1M54.1 320.8h1.1M66.1 313.9h1.1M59.7 327.2h1.1M69.9 323.9h1.1M65.5 326.2h1.1M67.9 324.6h1.1M55.0 323.2h1.1M67.3 330.2h1.1M64.4 319.0h1.1M65.5 326.8h1.1M64.6 334.1h1.1M69.0 333.8h1.1M61.5 322.4h1.1M63.5 318.0h1.1M71.8 328.7h1.1M63.8 334.2h1.1M50.2 314.1h1.1M58.2 322.4h1.1M67.1 325.6h1.1M65.2 334.0h1.1M67.6 324.2h1.1M51.7 316.7h1.1M60.9 329.3h1.1M49.0 328.3h1.1M56.2 325.2h1.1M76.0 330.7h1.1M69.5 322.6h1.1M60.6 319.1h1.1M58.0 328.0h1.1M65.5 334.3h1.1M52.8 316.5h1.1M47.1 321.3h1.1M59.9 333.2h1.1M63.0 321.4h1.1M72.5 322.7h1.1M68.6 334.9h1.1M70.0 329.4h1.1M62.3 328.5h1.1M65.0 332.8h1.1M74.3 329.6h1.1M63.2 334.0h1.1M55.2 327.2h1.1M73.9 323.4h1.1M62.2 318.2h1.1M69.9 321.5h1.1M50.7 318.9h1.1M60.4 329.0h1.1M70.8 323.4h1.1M60.2 319.5h1.1M66.0 326.5h1.1M70.5 322.0h1.1M60.0 334.0h1.1M59.8 334.3h1.1M60.5 326.4h1.1M53.6 321.2h1.1M72.4 322.8h1.1M60.4 333.2h1.1M57.8 322.0h1.1M76.1 317.4h1.1M63.8 330.0h1.1M55.5 322.2h1.1M68.6 334.3h1.1M70.2 319.1h1.1M67.6 318.1h1.1M59.9 319.0h1.1M66.1 328.8h1.1M56.8 332.3h1.1M72.8 334.7h1.1M68.2 332.6h1.1M71.8 325.4h1.1M61.1 320.8h1.1M61.3 322.4h1.1M62.1 316.2h1.1M66.7 331.8h1.1M66.6 332.2h1.1M55.7 331.3h1.1M50.5 322.9h1.1M78.3 334.1h1.1M71.5 334.5h1.1M79.9 333.9h1.1M57.9 314.3h1.1M72.9 333.4h1.1M64.9 330.3h1.1M63.9 324.6h1.1M60.0 321.5h1.1M74.3 322.1h1.1M70.1 312.4h1.1M52.3 315.2h1.1M56.4 311.1h1.1M59.6 328.4h1.1M56.0 325.3h1.1M51.5 326.4h1.1M59.5 327.1h1.1M71.8 317.5h1.1M59.1 334.9h1.1M60.8 323.0h1.1M58.8 313.5h1.1M74.2 334.2h1.1M67.9 325.4h1.1M67.7 312.9h1.1M61.1 322.5h1.1M63.4 328.9h1.1M58.3 326.9h1.1M60.8 320.0h1.1M56.1 322.9h1.1M75.2 334.3h1.1M60.2 315.1h1.1M45.6 331.6h1.1M63.6 331.9h1.1M70.2 330.3h1.1M53.2 334.3h1.1M64.0 329.8h1.1M52.5 329.9h1.1M68.3 319.3h1.1M75.3 332.9h1.1M72.5 314.4h1.1M61.0 323.4h1.1M67.6 323.2h1.1M56.7 332.8h1.1M64.2 329.6h1.1M69.5 320.5h1.1M59.4 319.4h1.1M63.6 325.0h1.1M59.7 320.0h1.1M64.0 333.2h1.1M62.8 327.6h1.1M71.9 331.9h1.1M69.0 324.7h1.1M62.9 320.0h1.1M59.0 317.7h1.1M56.6 335.0h1.1M58.1 314.3h1.1M53.5 333.9h1.1M54.9 318.8h1.1M67.6 321.8h1.1M48.1 329.5h1.1M58.6 334.6h1.1M50.5 326.5h1.1M62.3 315.6h1.1M70.7 320.3h1.1M64.4 323.4h1.1M68.7 322.3h1.1M62.3 333.5h1.1M67.2 322.0h1.1M70.0 326.1h1.1M63.6 326.1h1.1M56.9 330.8h1.1M66.3 316.9h1.1M67.3 324.1h1.1M65.6 330.9h1.1M74.4 321.4h1.1M57.3 309.9h1.1M77.4 317.0h1.1M61.4 323.0h1.1M72.0 329.5h1.1M62.4 332.1h1.1M55.0 326.6h1.1M60.9 327.3h1.1M64.5 310.6h1.1M68.7 324.6h1.1M63.6 329.7h1.1M74.7 324.3h1.1M70.5 326.9h1.1M72.8 328.4h1.1M54.7 332.1h1.1M74.6 329.2h1.1M60.6 334.7h1.1M69.6 333.9h1.1M66.4 323.4h1.1M71.7 328.8h1.1M55.3 332.6h1.1M60.5 329.8h1.1M74.2 320.1h1.1M56.7 321.3h1.1M56.7 322.8h1.1M65.7 332.3h1.1M66.0 334.9h1.1M70.6 321.4h1.1M59.6 321.1h1.1M63.2 324.4h1.1M58.5 333.5h1.1M62.7 327.9h1.1M54.9 317.0h1.1M65.9 324.0h1.1M66.5 327.7h1.1M57.8 323.4h1.1M50.9 326.7h1.1M59.3 311.4h1.1M57.0 310.6h1.1M56.5 316.5h1.1M53.4 322.6h1.1M42.0 319.3h1.1M52.4 324.3h1.1M41.9 326.5h1.1M79.0 321.1h1.1M60.9 327.5h1.1M64.3 333.2h1.1M44.9 314.3h1.1M93.3 305.4h1.1M85.1 325.1h1.1M65.1 324.8h1.1M66.9 325.1h1.1M63.3 311.5h1.1M91.5 331.9h1.1M69.0 319.6h1.1M82.5 329.5h1.1M59.8 327.7h1.1M67.5 334.7h1.1M61.8 333.5h1.1M54.4 317.6h1.1M49.7 326.1h1.1M88.6 314.3h1.1M76.7 334.4h1.1M70.9 334.9h1.1M78.5 308.3h1.1M69.6 333.8h1.1M79.1 306.0h1.1M57.3 334.9h1.1M73.2 324.1h1.1M77.3 322.3h1.1M72.2 323.7h1.1M44.8 323.7h1.1M103.3 314.3h1.1M80.0 325.4h1.1M85.0 332.9h1.1M55.9 327.8h1.1M41.7 323.2h1.1M76.5 317.9h1.1M58.6 327.1h1.1M47.5 318.0h1.1M68.4 311.7h1.1M57.5 327.6h1.1M55.2 329.3h1.1M41.5 326.3h1.1M41.3 334.6h1.1M86.1 335.0h1.1M59.5 327.4h1.1M57.6 322.6h1.1M80.6 329.7h1.1M69.8 329.9h1.1M53.3 333.9h1.1M63.0 325.3h1.1M86.4 324.5h1.1M60.1 322.1h1.1M63.2 316.5h1.1M66.0 319.2h1.1M68.4 334.6h1.1M58.9 326.3h1.1M64.0 318.2h1.1M67.0 317.9h1.1M56.7 321.0h1.1M48.2 322.2h1.1M71.3 329.4h1.1M64.1 302.8h1.1M70.8 319.3h1.1M58.0 334.1h1.1M71.5 322.2h1.1M68.3 322.7h1.1M67.6 333.3h1.1M72.5 313.4h1.1M64.9 322.1h1.1M45.9 318.0h1.1M59.0 312.1h1.1M42.6 313.6h1.1M50.6 321.2h1.1M75.8 319.1h1.1M61.3 331.8h1.1M72.3 316.0h1.1M99.9 335.0h1.1M44.8 307.0h1.1M81.3 322.6h1.1M70.2 318.2h1.1M69.6 324.4h1.1M44.5 331.7h1.1M61.2 325.4h1.1M52.6 320.3h1.1M50.4 316.1h1.1M95.2 313.4h1.1M63.6 334.0h1.1M62.3 311.0h1.1M63.1 329.6h1.1M47.9 312.8h1.1M77.6 312.7h1.1M73.3 314.4h1.1M50.7 312.7h1.1M79.9 317.5h1.1M61.0 316.8h1.1M56.8 317.6h1.1M55.5 331.6h1.1M47.9 321.1h1.1M64.8 316.7h1.1M86.6 334.4h1.1M61.1 312.1h1.1M54.6 325.6h1.1M84.8 330.8h1.1M68.0 310.5h1.1M42.6 331.9h1.1M66.9 331.5h1.1M42.6 331.2h1.1M68.7 326.7h1.1M69.5 323.0h1.1M81.8 312.9h1.1M61.5 313.2h1.1M70.3 330.7h1.1M63.1 334.5h1.1M66.6 307.0h1.1M56.1 323.3h1.1M52.2 319.3h1.1M62.2 316.4h1.1M72.1 317.4h1.1M65.1 321.7h1.1M79.6 326.6h1.1M66.3 328.3h1.1M53.2 321.6h1.1M72.1 320.0h1.1M58.5 325.0h1.1M44.0 311.3h1.1M76.5 325.8h1.1M46.1 326.3h1.1M66.3 321.1h1.1M67.8 314.9h1.1M52.9 321.2h1.1M73.7 312.1h1.1M52.2 326.1h1.1M74.7 314.1h1.1M59.6 328.2h1.1M59.8 334.6h1.1M53.4 318.9h1.1M72.8 334.5h1.1M61.0 312.6h1.1M50.7 335.0h1.1M55.5 314.6h1.1M69.3 306.3h1.1M71.0 314.2h1.1M54.6 330.5h1.1M64.3 312.2h1.1M46.2 329.1h1.1M50.3 322.5h1.1M68.4 334.3h1.1M41.3 324.9h1.1M69.7 327.7h1.1M74.6 334.9h1.1M74.9 334.3h1.1M70.1 334.1h1.1M63.9 320.0h1.1M50.8 319.6h1.1M42.5 295.5h1.1M58.2 326.5h1.1M77.0 317.5h1.1M64.9 334.7h1.1M74.7 322.4h1.1M89.2 322.4h1.1M58.1 312.9h1.1M65.5 320.4h1.1M88.0 316.9h1.1M41.6 328.7h1.1M67.5 323.9h1.1M60.6 314.5h1.1M66.8 312.8h1.1M57.2 315.6h1.1M55.2 324.9h1.1M55.4 333.0h1.1M67.0 330.4h1.1M60.7 314.0h1.1M58.9 315.7h1.1M86.4 320.6h1.1M83.2 319.3h1.1M47.0 326.9h1.1M72.0 302.8h1.1M72.5 305.6h1.1M68.4 332.0h1.1M60.3 321.2h1.1M59.6 325.3h1.1M58.8 318.3h1.1M55.6 333.2h1.1M49.0 326.3h1.1M46.1 316.8h1.1M72.0 321.3h1.1M57.2 325.7h1.1M59.1 328.3h1.1M66.9 326.2h1.1M41.9 327.7h1.1M55.0 319.2h1.1M52.4 334.4h1.1M67.1 324.7h1.1M59.9 322.1h1.1M54.2 326.9h1.1M80.5 324.3h1.1M78.6 318.2h1.1M87.0 334.3h1.1M85.7 315.2h1.1M82.5 332.3h1.1M61.8 331.9h1.1M66.1 331.6h1.1M56.3 318.9h1.1M61.8 319.2h1.1M68.1 308.8h1.1M71.8 310.7h1.1M79.5 334.9h1.1M43.4 333.9h1.1M61.7 315.6h1.1M81.1 314.3h1.1M64.1 302.3h1.1M71.7 331.6h1.1M50.2 331.0h1.1M62.0 319.3h1.1M71.4 327.6h1.1M47.8 334.7h1.1M61.9 325.1h1.1M43.7 303.8h1.1M89.4 310.9h1.1M60.0 321.4h1.1M75.8 318.1h1.1M84.9 323.2h1.1M84.1 329.8h1.1M68.2 322.0h1.1M61.3 319.2h1.1M56.2 308.0h1.1M55.3 314.7h1.1M66.7 333.6h1.1M74.2 333.6h1.1M76.0 331.0h1.1M73.5 317.7h1.1M56.8 320.2h1.1M90.6 333.4h1.1M85.2 314.5h1.1M52.8 330.2h1.1M68.1 325.4h1.1M59.0 326.3h1.1M63.8 311.9h1.1M73.3 330.5h1.1M77.3 328.7h1.1M62.9 314.4h1.1M76.0 326.0h1.1M69.9 324.4h1.1M89.7 324.2h1.1M63.1 304.1h1.1M66.4 334.4h1.1M47.1 326.0h1.1M54.7 320.6h1.1M55.9 323.0h1.1M66.7 322.8h1.1M73.2 314.5h1.1M89.8 318.1h1.1M72.1 333.2h1.1M80.8 324.2h1.1M43.4 326.0h1.1M67.2 329.3h1.1M41.8 302.1h1.1M68.1 334.2h1.1M52.5 326.3h1.1M50.0 326.7h1.1M62.5 324.2h1.1M58.5 331.6h1.1M66.5 319.8h1.1M84.6 323.5h1.1M56.7 320.8h1.1M69.4 320.2h1.1M72.1 325.0h1.1M94.4 311.0h1.1M63.1 334.4h1.1M63.8 307.4h1.1M51.6 334.2h1.1M80.7 327.0h1.1M44.6 332.0h1.1M74.8 335.0h1.1M69.7 319.9h1.1M59.3 334.1h1.1M81.8 334.2h1.1M52.6 334.1h1.1M43.1 331.0h1.1M56.0 314.9h1.1M43.2 330.2h1.1M55.5 328.2h1.1M59.6 333.8h1.1M61.3 327.2h1.1M58.9 334.7h1.1M55.4 326.4h1.1M77.1 326.2h1.1M78.5 323.9h1.1M52.7 334.5h1.1M50.9 320.8h1.1M42.3 326.4h1.1M54.7 334.5h1.1M73.3 334.2h1.1M53.3 327.2h1.1M49.6 308.8h1.1M62.3 323.2h1.1M63.6 321.4h1.1M78.7 334.5h1.1M54.7 315.1h1.1M71.2 319.8h1.1M83.4 312.5h1.1M56.1 317.5h1.1M68.9 329.1h1.1M50.1 320.1h1.1M43.5 314.3h1.1M77.0 332.9h1.1M69.7 334.8h1.1M95.9 320.0h1.1M70.5 318.8h1.1M52.1 332.5h1.1M55.4 330.1h1.1M63.5 300.5h1.1M61.8 296.1h1.1M86.2 329.3h1.1M77.0 328.8h1.1M63.5 328.6h1.1M58.6 332.3h1.1M54.3 325.5h1.1M68.2 320.5h1.1M55.0 306.1h1.1M62.4 314.3h1.1M51.5 334.2h1.1M71.8 334.2h1.1M74.7 301.7h1.1M78.0 314.4h1.1M54.1 317.1h1.1M60.7 309.6h1.1M55.0 331.8h1.1M90.3 306.9h1.1M72.1 334.2h1.1M58.4 313.8h1.1M42.3 323.1h1.1M60.0 323.0h1.1M69.7 320.8h1.1M55.5 334.8h1.1M54.5 312.9h1.1M67.2 331.6h1.1M44.8 322.8h1.1M85.1 320.1h1.1M79.2 320.1h1.1M80.6 301.1h1.1M44.5 313.3h1.1M52.1 319.1h1.1M58.7 334.2h1.1M71.1 322.1h1.1M52.4 308.0h1.1M51.9 325.3h1.1M75.5 329.9h1.1M58.1 326.8h1.1M55.5 322.6h1.1M67.4 321.9h1.1M75.7 320.4h1.1M56.6 334.8h1.1M92.5 315.1h1.1M74.3 325.6h1.1M65.8 319.0h1.1M76.4 322.4h1.1M85.5 305.6h1.1M72.2 322.4h1.1M55.7 331.3h1.1M47.6 329.7h1.1M52.3 324.4h1.1M81.3 331.7h1.1M66.5 311.7h1.1M44.4 315.8h1.1M75.6 321.6h1.1M55.5 332.6h1.1M81.3 320.0h1.1M85.7 322.1h1.1M69.7 334.3h1.1M88.0 310.1h1.1M73.1 322.3h1.1M70.4 333.3h1.1M70.9 320.4h1.1M93.0 303.0h1.1M89.4 327.2h1.1M65.9 302.3h1.1M74.2 308.7h1.1M75.5 321.7h1.1M92.0 314.0h1.1M76.6 323.5h1.1M101.2 328.8h1.1M82.3 306.9h1.1M67.5 308.5h1.1M90.5 326.7h1.1M88.2 330.4h1.1M84.2 298.5h1.1M74.2 312.9h1.1M91.1 308.2h1.1M101.6 316.8h1.1M67.8 325.0h1.1M95.4 329.6h1.1M73.8 320.3h1.1M67.8 319.1h1.1M69.6 306.6h1.1M94.8 331.7h1.1M72.6 315.7h1.1M87.8 319.4h1.1M74.3 303.7h1.1M90.6 318.9h1.1M88.4 320.8h1.1M62.6 306.6h1.1M76.4 323.3h1.1M81.1 318.7h1.1M77.7 325.2h1.1M90.0 325.7h1.1M88.0 331.1h1.1M78.9 301.2h1.1M88.6 326.0h1.1M78.5 313.1h1.1M94.6 313.0h1.1M100.1 323.9h1.1M101.1 325.4h1.1M74.0 324.9h1.1M86.3 332.8h1.1M85.9 316.5h1.1M73.9 307.9h1.1M79.8 310.4h1.1M83.5 305.4h1.1M102.3 323.3h1.1M82.5 329.5h1.1M84.2 324.2h1.1M85.1 314.2h1.1M88.3 304.0h1.1M74.9 316.9h1.1M89.3 316.1h1.1M88.7 312.7h1.1M98.2 326.2h1.1M83.5 308.2h1.1M97.7 325.5h1.1M91.1 322.8h1.1M79.3 304.1h1.1M70.3 317.0h1.1M86.8 326.9h1.1M72.0 317.3h1.1M92.9 319.1h1.1M95.4 328.0h1.1M84.0 329.4h1.1M86.0 326.6h1.1M99.7 305.5h1.1M75.1 324.1h1.1M87.0 324.2h1.1M97.3 330.8h1.1M117.8 263.6h1.1M112.8 274.0h1.1M116.9 266.3h1.1M117.1 271.3h1.1M114.4 268.0h1.1M118.5 270.9h1.1M116.9 275.5h1.1M108.0 269.1h1.1M115.5 272.9h1.1M112.6 270.3h1.1M109.9 272.2h1.1M116.4 270.7h1.1M120.3 271.2h1.1M116.3 270.3h1.1M110.7 272.5h1.1M116.2 269.8h1.1M113.3 272.7h1.1M117.2 272.3h1.1M111.0 267.1h1.1M116.4 267.2h1.1M118.4 271.0h1.1M114.1 272.4h1.1M118.7 272.9h1.1M117.6 271.6h1.1M117.2 267.6h1.1M111.9 268.1h1.1M116.4 269.7h1.1M114.8 270.4h1.1M116.6 268.2h1.1M111.2 268.8h1.1M120.9 270.7h1.1M112.4 269.6h1.1M121.7 273.7h1.1M115.2 269.8h1.1M125.9 271.0h1.1M119.3 270.8h1.1M109.8 271.5h1.1M111.8 268.0h1.1M116.3 271.5h1.1M115.0 274.6h1.1M116.2 271.2h1.1M123.8 270.8h1.1M120.9 271.2h1.1M113.9 273.5h1.1M114.7 272.1h1.1M116.5 270.8h1.1M114.4 270.5h1.1M115.1 274.1h1.1M121.6 272.1h1.1M119.4 271.9h1.1M119.6 273.7h1.1M111.1 274.4h1.1M116.0 275.0h1.1M113.8 266.5h1.1M115.9 267.3h1.1M112.5 267.1h1.1M116.5 271.2h1.1M115.2 268.7h1.1M116.2 270.3h1.1M115.2 270.5h1.1M110.5 272.5h1.1M116.4 269.4h1.1M114.1 269.6h1.1M116.7 269.5h1.1M115.3 273.4h1.1M117.2 269.9h1.1M109.4 269.9h1.1M114.7 271.1h1.1M118.1 269.2h1.1M114.0 270.6h1.1M110.1 265.5h1.1M115.6 270.5h1.1M116.7 271.5h1.1M111.7 269.4h1.1M115.5 268.0h1.1M118.5 267.9h1.1M109.9 267.5h1.1M109.9 270.1h1.1M112.6 274.2h1.1M115.1 270.4h1.1M109.9 268.6h1.1M118.9 266.2h1.1M123.3 272.8h1.1M117.9 267.1h1.1M118.8 270.5h1.1M118.4 269.3h1.1M118.0 272.6h1.1M115.4 273.8h1.1M113.6 274.1h1.1M106.6 274.3h1.1M113.2 270.5h1.1M119.5 270.5h1.1M116.3 272.2h1.1M110.9 274.4h1.1M121.1 268.6h1.1M108.9 271.3h1.1M111.9 271.3h1.1M119.8 273.9h1.1M120.3 269.2h1.1M119.1 268.6h1.1M115.5 271.8h1.1M115.0 267.2h1.1M114.0 265.2h1.1M120.1 266.2h1.1M107.7 268.3h1.1M117.2 271.8h1.1M123.1 269.3h1.1M116.2 272.3h1.1M105.9 269.0h1.1M119.2 271.6h1.1M111.1 269.1h1.1M110.3 270.4h1.1M118.6 270.5h1.1M116.9 274.0h1.1M118.5 271.0h1.1M114.9 273.7h1.1M113.3 267.7h1.1M112.9 267.6h1.1M117.1 270.2h1.1M116.2 270.9h1.1M117.4 269.7h1.1M118.5 272.5h1.1M115.0 273.9h1.1M121.7 269.9h1.1M117.4 271.0h1.1M119.2 269.7h1.1M112.5 269.6h1.1M114.4 270.4h1.1M114.7 272.4h1.1M115.2 270.8h1.1M113.8 271.3h1.1M111.1 273.0h1.1M113.5 269.6h1.1M116.1 272.0h1.1M114.8 271.6h1.1M112.1 268.8h1.1M114.1 269.7h1.1M117.2 271.1h1.1M115.6 272.7h1.1M112.3 268.8h1.1M117.2 270.6h1.1M116.6 275.0h1.1M122.3 274.5h1.1M120.1 268.1h1.1M120.5 273.1h1.1M119.2 270.5h1.1M115.7 269.4h1.1M122.0 270.5h1.1M119.2 270.0h1.1M113.5 270.7h1.1M118.2 271.1h1.1M118.1 268.9h1.1M113.0 268.9h1.1M115.1 271.0h1.1M110.4 268.2h1.1M116.8 270.6h1.1M116.6 269.4h1.1M117.3 267.0h1.1M116.9 271.5h1.1M116.2 269.1h1.1M119.6 270.8h1.1M116.8 271.1h1.1M118.9 268.8h1.1M114.3 273.2h1.1M117.0 272.0h1.1M111.6 270.4h1.1M109.6 274.5h1.1M114.7 271.2h1.1M114.5 273.1h1.1M118.0 270.6h1.1M114.2 271.5h1.1M117.3 272.1h1.1M114.2 272.8h1.1M114.6 270.4h1.1M116.8 268.6h1.1M120.8 271.4h1.1M117.3 269.8h1.1M115.6 273.1h1.1M116.4 270.6h1.1M112.6 268.9h1.1M116.5 273.1h1.1M111.7 270.3h1.1M119.9 270.8h1.1M112.9 267.9h1.1M120.8 273.0h1.1M114.1 274.1h1.1M113.4 271.9h1.1M114.7 271.7h1.1M120.5 270.9h1.1M115.1 271.3h1.1M116.8 270.6h1.1M116.6 269.3h1.1M121.2 271.9h1.1M111.9 265.8h1.1M118.9 267.7h1.1M116.6 276.1h1.1M119.8 270.8h1.1M115.3 264.9h1.1M116.5 263.4h1.1M114.3 269.3h1.1M114.0 271.3h1.1M115.9 273.0h1.1M124.5 271.4h1.1M119.1 269.5h1.1M120.2 268.6h1.1M116.4 272.7h1.1M121.4 272.8h1.1M116.0 273.6h1.1M119.7 270.4h1.1M113.9 267.1h1.1M117.9 271.6h1.1M121.9 274.7h1.1M117.4 271.2h1.1M115.3 267.5h1.1M115.2 271.1h1.1M118.0 270.6h1.1M114.0 268.3h1.1M119.8 266.5h1.1M110.2 268.1h1.1M115.2 272.3h1.1M114.7 272.7h1.1M118.4 275.3h1.1M116.3 270.8h1.1M118.7 270.0h1.1M114.5 275.0h1.1M118.0 268.0h1.1M110.9 272.9h1.1M112.6 268.9h1.1M117.6 271.8h1.1M112.2 268.8h1.1M109.0 272.1h1.1M115.4 272.0h1.1M119.3 274.9h1.1M115.0 269.2h1.1M113.5 269.9h1.1M119.2 270.7h1.1M115.2 267.1h1.1M118.4 273.9h1.1M113.2 268.7h1.1M110.6 268.6h1.1M116.2 273.1h1.1M111.1 268.9h1.1M114.2 269.6h1.1M114.4 274.4h1.1M119.5 270.8h1.1M115.3 272.0h1.1M120.6 265.6h1.1M114.5 271.9h1.1M112.8 270.3h1.1M111.0 268.5h1.1M117.7 271.6h1.1M118.6 270.9h1.1M116.4 271.7h1.1M117.9 268.5h1.1M118.1 273.2h1.1M114.4 273.3h1.1M120.1 268.3h1.1M116.8 269.2h1.1M116.0 270.1h1.1M114.1 269.9h1.1M122.3 266.5h1.1M109.5 271.0h1.1M112.2 268.5h1.1M107.4 268.8h1.1M121.4 271.8h1.1M118.4 269.9h1.1M111.8 271.9h1.1M110.3 273.2h1.1M114.8 269.2h1.1M116.3 273.3h1.1M113.3 270.2h1.1M116.1 270.7h1.1M120.6 272.1h1.1M116.0 272.2h1.1M121.3 270.2h1.1M115.9 271.0h1.1M121.2 274.5h1.1M115.6 271.8h1.1M119.5 269.1h1.1M119.1 269.5h1.1M116.3 268.7h1.1M116.4 271.4h1.1M117.2 271.0h1.1M112.3 268.0h1.1M122.0 270.2h1.1M112.9 270.2h1.1M116.1 269.0h1.1M114.1 273.2h1.1M116.6 271.8h1.1M112.8 269.7h1.1M113.5 270.2h1.1M110.1 271.7h1.1M118.5 273.0h1.1M120.9 271.8h1.1M110.3 271.9h1.1M117.4 270.6h1.1M112.2 269.0h1.1M117.6 271.5h1.1M115.1 269.5h1.1M114.1 269.4h1.1M119.5 270.4h1.1M114.8 266.9h1.1M117.0 274.1h1.1M118.7 270.8h1.1M111.9 268.2h1.1M111.1 266.8h1.1M118.8 271.1h1.1M113.7 269.6h1.1M118.0 271.4h1.1M109.6 271.1h1.1M107.6 269.3h1.1M113.1 271.0h1.1M120.9 269.0h1.1M117.5 273.5h1.1M116.5 271.1h1.1M115.8 269.2h1.1M113.1 274.8h1.1M116.5 269.0h1.1M118.7 272.5h1.1M115.5 268.3h1.1M111.9 269.9h1.1M114.4 270.7h1.1M117.4 272.6h1.1M116.2 268.8h1.1M113.9 269.7h1.1M119.5 269.4h1.1M110.3 269.6h1.1M118.6 268.8h1.1M112.5 275.3h1.1M114.9 269.7h1.1M117.3 267.4h1.1M116.9 270.4h1.1M115.1 275.5h1.1M118.7 272.3h1.1M114.0 269.1h1.1M118.3 274.0h1.1M112.3 270.8h1.1M117.7 272.5h1.1M120.8 275.4h1.1M116.8 272.3h1.1M114.1 270.6h1.1M116.8 271.2h1.1M119.5 272.0h1.1M114.2 271.2h1.1M121.1 272.3h1.1M117.3 268.6h1.1M117.7 271.7h1.1M115.7 271.6h1.1M121.5 270.3h1.1M111.3 274.4h1.1M117.4 264.8h1.1M114.2 269.0h1.1M117.1 266.9h1.1M114.2 270.4h1.1M124.0 272.5h1.1M119.8 273.8h1.1M118.1 269.6h1.1M119.8 270.4h1.1M115.8 271.8h1.1M113.6 271.7h1.1M120.9 272.3h1.1M117.8 269.7h1.1M119.0 266.8h1.1M112.6 272.5h1.1M116.3 274.4h1.1M111.4 266.6h1.1M115.1 272.5h1.1M110.8 273.0h1.1M119.2 270.3h1.1M118.2 269.0h1.1M117.1 269.7h1.1M123.3 271.2h1.1M118.5 267.7h1.1M112.2 273.4h1.1M123.6 270.7h1.1M106.2 272.8h1.1M110.3 270.0h1.1M113.6 271.2h1.1M113.2 269.2h1.1M114.4 271.2h1.1M115.2 268.5h1.1M113.1 271.4h1.1M110.5 273.0h1.1M114.7 271.4h1.1M113.8 274.0h1.1M111.5 269.0h1.1M118.0 274.9h1.1M114.8 268.1h1.1M121.0 268.4h1.1M109.2 271.4h1.1M119.0 271.0h1.1M117.5 270.5h1.1M116.6 270.3h1.1M113.6 271.0h1.1M116.5 271.3h1.1M113.7 270.4h1.1M116.8 268.2h1.1M108.0 272.3h1.1M120.4 269.3h1.1M113.6 272.5h1.1M112.7 273.5h1.1M122.4 268.7h1.1M115.2 269.5h1.1M112.6 266.8h1.1M115.5 267.9h1.1M119.5 266.4h1.1M113.9 269.7h1.1M118.4 269.1h1.1M114.6 273.9h1.1M121.3 274.1h1.1M116.9 273.5h1.1M118.2 267.2h1.1M116.6 269.6h1.1M115.0 266.3h1.1M112.9 271.0h1.1M121.5 271.2h1.1M113.7 271.0h1.1M108.8 275.8h1.1M117.3 268.4h1.1M108.4 269.2h1.1M118.7 271.1h1.1M120.8 268.7h1.1M119.9 271.6h1.1M115.9 267.1h1.1M122.6 274.1h1.1M115.9 273.5h1.1M113.9 270.9h1.1M113.6 273.0h1.1M109.1 270.8h1.1M121.8 267.1h1.1M116.7 270.6h1.1M115.8 265.6h1.1M111.0 275.1h1.1M115.4 265.2h1.1M115.3 269.3h1.1M111.5 267.7h1.1M118.1 267.7h1.1M118.7 270.4h1.1M117.9 268.1h1.1M116.2 269.5h1.1M116.1 272.6h1.1M110.4 269.7h1.1M118.6 270.6h1.1M115.7 269.1h1.1M111.5 266.5h1.1M120.3 271.4h1.1M110.4 269.8h1.1M110.7 269.6h1.1M122.4 269.9h1.1M115.4 271.2h1.1M114.7 272.8h1.1M116.6 271.2h1.1M111.1 271.5h1.1M118.9 272.1h1.1M106.9 265.4h1.1M120.9 268.5h1.1M118.2 270.5h1.1M118.9 271.8h1.1M114.0 269.1h1.1M118.0 271.3h1.1M117.1 271.8h1.1M119.6 269.4h1.1M119.5 271.6h1.1M119.3 264.8h1.1M116.7 265.0h1.1M116.4 269.0h1.1M114.9 269.4h1.1M117.1 270.9h1.1M107.5 268.7h1.1M117.8 268.7h1.1M117.4 268.6h1.1M112.8 269.7h1.1M121.5 273.1h1.1M115.8 270.3h1.1M111.5 272.7h1.1M119.7 268.5h1.1M114.3 272.5h1.1M117.1 268.7h1.1M114.3 267.3h1.1M107.7 270.0h1.1M124.6 272.8h1.1M112.6 274.2h1.1M116.0 267.2h1.1M118.7 268.1h1.1M122.9 271.6h1.1M114.5 275.3h1.1M121.3 273.6h1.1M121.3 267.5h1.1M129.3 266.8h1.1M125.9 268.8h1.1M117.1 274.9h1.1M121.2 268.3h1.1M125.4 267.9h1.1M116.3 271.5h1.1M124.4 269.0h1.1M129.7 266.7h1.1M119.4 268.7h1.1M129.3 268.2h1.1M127.6 273.5h1.1M120.9 272.9h1.1M124.1 276.1h1.1M123.6 272.3h1.1M122.0 273.2h1.1M111.7 270.5h1.1M113.3 277.1h1.1M116.5 264.6h1.1M127.1 276.8h1.1M121.9 269.2h1.1M109.6 270.9h1.1M122.0 270.0h1.1M113.9 274.5h1.1M111.8 264.3h1.1M120.9 272.0h1.1M121.3 271.4h1.1M113.0 269.9h1.1M122.6 272.4h1.1M127.3 272.7h1.1M107.6 267.3h1.1M122.6 268.3h1.1M124.5 271.0h1.1M117.6 280.6h1.1M117.2 270.5h1.1M123.3 271.7h1.1M127.7 268.1h1.1M122.9 274.4h1.1M119.1 270.7h1.1M124.1 266.1h1.1M117.7 268.1h1.1M115.4 274.0h1.1M125.2 269.4h1.1M116.7 276.6h1.1M116.9 274.3h1.1M123.1 272.2h1.1M126.1 267.6h1.1M120.7 276.4h1.1M114.0 271.8h1.1M120.8 276.4h1.1M124.7 267.2h1.1M116.7 266.6h1.1M128.0 264.6h1.1M117.0 277.6h1.1M117.3 269.0h1.1M123.5 269.3h1.1M114.9 275.4h1.1M110.5 272.3h1.1M120.0 275.6h1.1M128.9 268.9h1.1M128.0 270.7h1.1M129.6 274.2h1.1M120.8 268.6h1.1M116.5 296.1h1.1M115.4 290.3h1.1M114.1 273.9h1.1M108.7 295.6h1.1M106.7 284.8h1.1M117.4 272.9h1.1M113.9 291.0h1.1M115.5 273.3h1.1M108.2 294.3h1.1M115.5 276.0h1.1M111.7 289.4h1.1M111.9 282.1h1.1M113.3 289.1h1.1M118.2 276.5h1.1M120.0 278.7h1.1M108.9 298.9h1.1M108.1 280.2h1.1M110.2 290.3h1.1M115.2 281.0h1.1M109.9 297.1h1.1M116.8 281.5h1.1M117.6 273.8h1.1M120.3 287.7h1.1M115.8 283.4h1.1M114.9 289.7h1.1M116.7 278.9h1.1M113.9 275.9h1.1M112.4 281.6h1.1M118.2 272.9h1.1M108.0 272.2h1.1M108.3 281.2h1.1M113.2 289.3h1.1M115.3 278.0h1.1M112.9 273.7h1.1M113.3 292.3h1.1M114.4 282.2h1.1M117.3 277.9h1.1M119.1 281.5h1.1M112.2 291.3h1.1M121.0 275.3h1.1M107.0 295.5h1.1M107.7 290.8h1.1M107.2 286.2h1.1M111.9 280.7h1.1M119.2 273.0h1.1M109.9 287.8h1.1M112.7 289.9h1.1M114.9 292.6h1.1M112.9 297.6h1.1M111.8 287.9h1.1M111.4 283.8h1.1M115.0 273.7h1.1M110.7 281.4h1.1M113.5 278.7h1.1M113.2 283.8h1.1M109.2 274.1h1.1M107.7 294.8h1.1M115.9 298.3h1.1M106.0 273.7h1.1M109.2 279.1h1.1M112.6 283.6h1.1M114.4 274.9h1.1M112.8 273.5h1.1M116.9 284.1h1.1M110.8 297.1h1.1M109.7 297.1h1.1M107.2 286.3h1.1M111.1 287.4h1.1M111.2 278.5h1.1M110.4 297.8h1.1M114.8 275.8h1.1M113.7 272.0h1.1M113.9 283.8h1.1M117.8 273.4h1.1M110.2 293.0h1.1M108.6 296.3h1.1M110.0 298.7h1.1M109.0 272.0h1.1M105.7 272.4h1.1M117.3 277.3h1.1M115.9 284.2h1.1M112.0 295.4h1.1M113.0 284.9h1.1M113.2 274.9h1.1M114.5 274.4h1.1M110.8 296.5h1.1M116.5 276.3h1.1M110.8 277.6h1.1M108.7 297.7h1.1M116.9 272.6h1.1M113.3 292.8h1.1M112.2 289.9h1.1M115.4 276.3h1.1M114.7 287.1h1.1M119.1 297.3h1.1M112.4 285.9h1.1M115.0 286.9h1.1M116.9 283.7h1.1M115.4 278.4h1.1M112.3 273.8h1.1M116.4 274.0h1.1M114.9 291.8h1.1M109.3 274.1h1.1M112.8 284.0h1.1M112.7 279.8h1.1M113.7 272.5h1.1M113.7 280.1h1.1M119.2 275.7h1.1M112.2 292.6h1.1M114.4 281.6h1.1M110.5 279.2h1.1M118.5 275.3h1.1M114.1 287.4h1.1M110.2 282.3h1.1M110.6 296.2h1.1M112.6 272.6h1.1M113.1 272.8h1.1M113.7 286.7h1.1M111.9 280.1h1.1M114.4 296.6h1.1M115.2 275.8h1.1M115.7 277.6h1.1M111.1 295.7h1.1M110.3 274.2h1.1M118.8 272.4h1.1M116.4 286.7h1.1M112.9 274.0h1.1M112.3 282.4h1.1M117.7 277.8h1.1M115.1 288.9h1.1M115.2 282.5h1.1M117.2 280.4h1.1M117.7 287.1h1.1M118.1 272.0h1.1M111.9 275.3h1.1M115.2 272.9h1.1M115.0 288.0h1.1M113.5 276.2h1.1M113.0 287.4h1.1M115.3 288.0h1.1M113.9 280.3h1.1M113.9 283.5h1.1M112.5 298.6h1.1M112.4 282.3h1.1M114.6 281.9h1.1M117.3 282.1h1.1M110.6 292.1h1.1M117.9 292.3h1.1M115.3 281.5h1.1M116.9 273.5h1.1M111.3 287.9h1.1M108.8 298.1h1.1M112.6 272.4h1.1M107.8 273.3h1.1M117.5 277.5h1.1M113.6 289.1h1.1M112.4 278.2h1.1M110.0 288.8h1.1M117.0 276.5h1.1M113.4 272.0h1.1M112.8 272.9h1.1M107.1 286.4h1.1M117.5 274.0h1.1M109.9 273.3h1.1M113.2 279.0h1.1M113.7 272.3h1.1M121.0 278.3h1.1M105.7 277.4h1.1M112.9 295.6h1.1M107.1 284.8h1.1M108.2 297.8h1.1M107.2 284.2h1.1M109.9 274.8h1.1M113.0 277.9h1.1M109.1 278.8h1.1M113.4 275.3h1.1M109.6 276.5h1.1M113.2 280.0h1.1M113.9 287.2h1.1M117.3 276.4h1.1M110.9 290.7h1.1M108.0 282.7h1.1M117.1 275.9h1.1M111.6 278.8h1.1M109.3 276.8h1.1M114.4 292.4h1.1M112.8 281.7h1.1M111.0 280.9h1.1M112.3 278.4h1.1M114.7 290.2h1.1M112.9 289.5h1.1M114.1 291.2h1.1M110.8 286.9h1.1M109.0 288.2h1.1M116.4 276.4h1.1M115.2 272.2h1.1M108.2 297.6h1.1M111.1 297.7h1.1M112.5 291.9h1.1M116.9 273.2h1.1M111.9 291.6h1.1M109.7 278.7h1.1M108.4 276.3h1.1M112.2 295.1h1.1M113.8 293.5h1.1M110.7 280.0h1.1M115.5 277.3h1.1M113.4 274.0h1.1M119.2 276.6h1.1M110.5 277.8h1.1M114.1 293.6h1.1M111.4 274.7h1.1M111.3 290.8h1.1M112.7 295.4h1.1M109.8 280.5h1.1M116.3 276.0h1.1M111.3 272.1h1.1M116.1 272.0h1.1M113.5 278.8h1.1M110.0 287.7h1.1M112.9 286.0h1.1M113.1 287.6h1.1M112.2 285.5h1.1M113.6 293.7h1.1M112.2 295.6h1.1M116.7 284.4h1.1M116.3 277.5h1.1M113.2 286.6h1.1M111.3 285.3h1.1M113.6 275.1h1.1M112.4 315.5h1.1M115.2 306.3h1.1M114.4 320.1h1.1M112.8 319.5h1.1M110.2 317.2h1.1M104.3 323.7h1.1M114.1 317.1h1.1M113.6 292.7h1.1M109.3 327.3h1.1M112.8 320.8h1.1M104.2 322.0h1.1M109.7 310.5h1.1M108.1 320.3h1.1M113.9 318.1h1.1M115.6 292.6h1.1M110.0 327.4h1.1M109.6 319.1h1.1M109.7 322.3h1.1M112.3 312.5h1.1M110.2 311.6h1.1M106.8 315.8h1.1M108.6 324.4h1.1M110.5 308.5h1.1M114.7 306.6h1.1M114.1 323.6h1.1M111.9 313.9h1.1M108.3 310.3h1.1M110.6 318.2h1.1M107.8 327.3h1.1M110.8 328.9h1.1M109.9 311.1h1.1M114.9 310.8h1.1M112.3 314.1h1.1M107.8 327.2h1.1M110.9 314.6h1.1M107.0 312.0h1.1M111.4 310.3h1.1M113.8 320.7h1.1M112.7 302.6h1.1M113.7 308.7h1.1M109.0 325.2h1.1M106.9 332.2h1.1M107.3 314.3h1.1M110.5 313.1h1.1M112.0 325.0h1.1M107.9 316.6h1.1M108.7 316.0h1.1M108.9 314.8h1.1M110.3 311.2h1.1M109.6 314.4h1.1M111.3 306.6h1.1M110.5 324.1h1.1M107.1 314.1h1.1M107.8 307.4h1.1M109.3 313.3h1.1M113.1 303.1h1.1M109.3 305.2h1.1M112.4 312.6h1.1M108.7 316.6h1.1M109.2 317.2h1.1M107.5 318.0h1.1M107.7 322.2h1.1M106.1 324.1h1.1M113.1 303.2h1.1M107.0 314.8h1.1M107.6 322.9h1.1M107.3 325.6h1.1M108.9 327.0h1.1M109.5 322.2h1.1M108.9 315.8h1.1M110.8 323.0h1.1M115.6 315.4h1.1M104.7 334.1h1.1M108.1 328.7h1.1M107.2 321.1h1.1M105.6 333.7h1.1M107.7 318.3h1.1M109.7 307.3h1.1M108.0 322.2h1.1M107.1 315.9h1.1M106.4 321.2h1.1M114.7 326.4h1.1M114.0 316.1h1.1M107.3 322.3h1.1M107.4 315.9h1.1M111.1 320.0h1.1M107.7 327.3h1.1M110.5 308.4h1.1M108.4 333.9h1.1M104.2 318.4h1.1M111.3 315.2h1.1M113.9 310.6h1.1M107.8 314.0h1.1M109.8 313.9h1.1M106.9 327.9h1.1M111.2 303.2h1.1M112.8 323.6h1.1M114.4 309.0h1.1M109.9 325.0h1.1M108.0 312.2h1.1M112.9 310.5h1.1M111.9 320.9h1.1M107.6 335.1h1.1M114.4 318.6h1.1M109.7 307.4h1.1M108.9 315.7h1.1M107.2 320.3h1.1M104.7 329.3h1.1M106.0 311.8h1.1M112.4 306.6h1.1M108.3 324.6h1.1M110.1 326.5h1.1M110.0 313.9h1.1M114.2 322.3h1.1M110.9 315.1h1.1M112.0 323.8h1.1M111.7 322.8h1.1M109.9 309.6h1.1M111.4 301.9h1.1M110.0 319.8h1.1M105.9 320.3h1.1M109.8 312.9h1.1M107.1 320.5h1.1M107.7 318.1h1.1M109.2 307.3h1.1M112.5 311.9h1.1M109.5 330.9h1.1M108.3 317.1h1.1M109.8 305.1h1.1M110.7 332.8h1.1M108.6 321.0h1.1M110.5 319.0h1.1M110.6 318.9h1.1M110.4 312.2h1.1M112.6 315.9h1.1M114.1 308.0h1.1M108.3 318.2h1.1M109.8 319.2h1.1M110.8 316.9h1.1M105.8 313.9h1.1M108.7 325.2h1.1M108.7 333.7h1.1M114.7 301.3h1.1M111.6 312.9h1.1M110.4 309.3h1.1M112.9 304.8h1.1M106.3 324.0h1.1M111.4 323.0h1.1M106.9 326.1h1.1M107.4 312.9h1.1M111.6 307.6h1.1M112.7 319.4h1.1M108.4 321.4h1.1M114.9 306.4h1.1M109.2 320.5h1.1M107.9 310.1h1.1M106.3 324.6h1.1M110.4 324.2h1.1M105.8 315.6h1.1M112.6 322.6h1.1M107.2 311.7h1.1M108.7 328.6h1.1M113.2 313.5h1.1M110.9 316.6h1.1M108.0 315.4h1.1M107.1 320.9h1.1M110.0 303.3h1.1M110.9 329.9h1.1M108.4 333.3h1.1M111.1 315.2h1.1M112.3 310.6h1.1M110.6 315.0h1.1M110.0 311.5h1.1M107.9 327.7h1.1M110.9 313.1h1.1M108.1 326.8h1.1M106.8 308.7h1.1M113.6 307.2h1.1M110.8 318.2h1.1M109.1 328.5h1.1M107.7 323.3h1.1M112.8 304.8h1.1M111.0 318.2h1.1M110.2 309.6h1.1M112.7 319.9h1.1M110.0 317.0h1.1M113.7 300.2h1.1M113.2 315.1h1.1M108.6 318.2h1.1M108.4 322.8h1.1M113.9 314.5h1.1M108.7 327.7h1.1M110.7 326.1h1.1M109.0 324.1h1.1M110.4 319.6h1.1M109.8 324.0h1.1M109.9 314.1h1.1M106.5 323.0h1.1M111.4 318.9h1.1M108.6 320.5h1.1M108.3 318.8h1.1M107.5 327.7h1.1M108.2 304.3h1.1M109.7 321.6h1.1M106.7 314.8h1.1M107.5 317.7h1.1M110.2 313.2h1.1M111.1 312.2h1.1M109.1 312.5h1.1M113.4 317.0h1.1M110.2 332.9h1.1M110.3 312.5h1.1M110.5 327.1h1.1M111.1 304.7h1.1M112.1 312.5h1.1M107.5 324.6h1.1M114.3 318.3h1.1M108.9 314.4h1.1M107.8 332.0h1.1M105.9 323.2h1.1M110.0 334.8h1.1M110.9 322.1h1.1M108.8 314.6h1.1M112.1 305.2h1.1M110.3 329.9h1.1M110.3 327.1h1.1M107.2 310.9h1.1M109.2 324.6h1.1M107.8 327.7h1.1M111.5 311.2h1.1M106.0 314.1h1.1M108.0 313.6h1.1M109.3 309.2h1.1M114.3 327.4h1.1M106.6 334.2h1.1M108.1 329.1h1.1M107.4 322.5h1.1M105.4 318.3h1.1M105.7 334.8h1.1M107.4 324.2h1.1M106.3 321.4h1.1M112.1 315.7h1.1M104.1 324.2h1.1M105.3 326.5h1.1M110.5 321.5h1.1M109.4 313.3h1.1M110.7 316.8h1.1M111.9 327.1h1.1M114.1 321.9h1.1M114.9 310.7h1.1M111.7 316.7h1.1M109.8 317.9h1.1M111.4 310.9h1.1M109.5 318.8h1.1M108.2 325.3h1.1M110.0 319.0h1.1M110.5 330.5h1.1M109.0 309.7h1.1M111.6 319.2h1.1M108.0 327.5h1.1M111.5 331.4h1.1M108.3 333.1h1.1M105.1 324.1h1.1M109.9 303.3h1.1M111.4 325.3h1.1M112.2 318.1h1.1M112.6 324.1h1.1M109.1 305.0h1.1M107.9 310.6h1.1M105.5 333.5h1.1M109.4 311.7h1.1M107.4 326.8h1.1M110.1 325.5h1.1M104.3 313.4h1.1M107.4 310.9h1.1M106.0 333.4h1.1M111.6 309.6h1.1M107.1 319.5h1.1M110.6 328.7h1.1M107.3 321.5h1.1M105.4 311.3h1.1M110.1 322.4h1.1M110.5 310.9h1.1M112.8 303.9h1.1M108.7 315.2h1.1M108.5 324.5h1.1M109.7 327.8h1.1M108.6 329.2h1.1M115.1 300.0h1.1M113.9 304.0h1.1M105.8 321.2h1.1M111.6 319.6h1.1M110.7 310.0h1.1M107.8 312.5h1.1M113.3 313.6h1.1M108.7 325.1h1.1M109.9 318.3h1.1M109.6 321.5h1.1M113.6 303.8h1.1M104.0 311.4h1.1M105.8 325.2h1.1M109.4 317.7h1.1M111.4 313.8h1.1M109.1 316.6h1.1M109.8 310.6h1.1M110.7 309.8h1.1M110.6 330.7h1.1M105.7 322.8h1.1M110.7 328.1h1.1M108.6 319.1h1.1M105.6 328.6h1.1M115.6 315.6h1.1M103.5 327.8h1.1M112.8 319.2h1.1M111.6 313.5h1.1M105.8 319.9h1.1M112.9 313.5h1.1M106.7 329.5h1.1M106.5 329.0h1.1M109.2 321.2h1.1M112.3 304.5h1.1M94.8 313.8h1.1M105.7 309.0h1.1M104.9 309.0h1.1M96.5 310.6h1.1M110.9 327.6h1.1M109.0 320.8h1.1M109.0 318.7h1.1M101.8 306.2h1.1M116.3 318.8h1.1M119.7 320.5h1.1M109.0 303.2h1.1M117.5 311.3h1.1M109.1 325.9h1.1M109.9 307.2h1.1M119.4 306.7h1.1M117.3 324.4h1.1M96.6 321.9h1.1M111.0 326.7h1.1M111.1 292.2h1.1M120.3 328.9h1.1M115.0 306.9h1.1M109.5 321.6h1.1M113.5 314.9h1.1M114.3 324.2h1.1M102.9 313.6h1.1M117.9 332.3h1.1M110.3 311.9h1.1M100.4 326.7h1.1M124.4 323.4h1.1M106.4 320.9h1.1M108.0 320.3h1.1M100.2 320.0h1.1M102.0 304.1h1.1M109.9 327.8h1.1M98.8 330.5h1.1M118.8 311.5h1.1M99.8 309.4h1.1M108.5 309.9h1.1M118.0 317.9h1.1M119.4 332.4h1.1M107.6 324.3h1.1M102.0 312.6h1.1M117.7 331.8h1.1M105.3 319.0h1.1M113.3 325.3h1.1M103.8 319.7h1.1M107.2 320.6h1.1M113.9 326.0h1.1M108.0 322.8h1.1M114.9 334.5h1.1M115.3 331.7h1.1M112.7 325.2h1.1M100.0 306.4h1.1M114.0 307.9h1.1M111.5 327.8h1.1M121.0 319.0h1.1M100.2 313.7h1.1M108.6 301.3h1.1M114.7 325.6h1.1M115.2 315.6h1.1M106.3 317.5h1.1M114.8 313.9h1.1M104.0 328.3h1.1M111.2 307.3h1.1M112.9 304.5h1.1M106.9 323.5h1.1M113.2 317.7h1.1M110.3 299.2h1.1M115.8 324.5h1.1M110.0 330.6h1.1M118.2 302.4h1.1M106.8 326.3h1.1M116.4 329.2h1.1M96.9 316.5h1.1M106.1 312.9h1.1M110.0 309.0h1.1M112.7 306.3h1.1M107.4 329.2h1.1M109.7 323.9h1.1M106.4 331.8h1.1M106.0 325.9h1.1M110.4 320.5h1.1M101.4 329.7h1.1M118.5 303.5h1.1M120.2 322.2h1.1M111.7 306.9h1.1M120.6 324.5h1.1M107.9 317.4h1.1M109.9 325.7h1.1M95.3 294.1h1.1M81.7 289.5h1.1M85.6 302.3h1.1M92.3 295.7h1.1M93.5 301.4h1.1M85.1 293.2h1.1M88.5 301.1h1.1M96.2 294.5h1.1M106.1 301.5h1.1M84.0 292.8h1.1M92.2 294.3h1.1M98.0 295.1h1.1M96.8 286.5h1.1M87.3 294.5h1.1M91.0 299.2h1.1M101.0 293.0h1.1M85.7 299.3h1.1M81.0 297.8h1.1M87.1 292.2h1.1M90.2 298.4h1.1M78.8 294.0h1.1M101.7 290.4h1.1M83.3 298.4h1.1M93.6 301.6h1.1M84.7 295.4h1.1M92.0 301.4h1.1M92.2 303.4h1.1M84.9 294.7h1.1M91.4 294.3h1.1M94.1 298.0h1.1M114.7 316.4h1.1M105.6 312.8h1.1M113.9 321.3h1.1M100.0 314.4h1.1M91.6 307.5h1.1M129.1 323.9h1.1M88.9 322.7h1.1M49.6 312.4h1.1M61.4 329.7h1.1M41.6 316.1h1.1M119.5 327.6h1.1M105.9 311.3h1.1M61.6 324.9h1.1M67.6 325.6h1.1M72.3 326.9h1.1M92.6 328.7h1.1M130.1 313.9h1.1M130.2 301.3h1.1M120.3 302.0h1.1M90.1 314.2h1.1M110.5 311.7h1.1M59.4 327.7h1.1M90.5 326.7h1.1M85.0 302.2h1.1M110.6 308.4h1.1M64.0 307.9h1.1M110.0 305.6h1.1M80.8 313.4h1.1M101.3 270.7h1.1M89.1 302.4h1.1M106.8 270.0h1.1" stroke="#000" stroke-width="1.1" fill="none"/>
<rect x="40.80" y="253.60" width="92.20" height="83.00" fill="none" stroke="#000" stroke-width="1.25"/>
<line x1="99.1" y1="253.6" x2="99.1" y2="336.6" stroke="#000" stroke-width="1.1"/>
<line x1="40.8" y1="299.3" x2="133.0" y2="299.3" stroke="#000" stroke-width="1.1"/>
<text x="44.2" y="265.7" font-size="10.2">0.2</text>
<text x="65.5" y="265.7" font-size="10.2">39.6</text>
<text x="42.6" y="279.5" font-size="10.2">50.2</text>
<text x="66.2" y="279.5" font-size="10.2">10</text>
<line x1="42.8" y1="268.6" x2="86.6" y2="268.6" stroke="#000" stroke-width="1.0"/>
<line x1="64.7" y1="254.8" x2="64.7" y2="282.0" stroke="#000" stroke-width="1.0"/>
<path d="M171.2 328.5h1.1M151.1 322.4h1.1M181.2 328.4h1.1M177.7 331.6h1.1M169.4 325.3h1.1M178.7 323.4h1.1M188.1 321.8h1.1M162.1 328.4h1.1M148.5 323.5h1.1M162.3 318.9h1.1M156.9 335.2h1.1M173.9 320.7h1.1M176.5 325.7h1.1M164.0 324.6h1.1M157.3 326.4h1.1M167.5 334.9h1.1M170.8 324.3h1.1M169.6 321.3h1.1M173.0 325.6h1.1M159.8 317.3h1.1M178.1 320.8h1.1M148.0 325.1h1.1M185.9 315.4h1.1M151.8 325.6h1.1M167.0 317.8h1.1M182.5 332.5h1.1M162.3 321.2h1.1M155.1 335.2h1.1M157.7 322.0h1.1M160.8 311.5h1.1M175.9 319.0h1.1M159.3 321.3h1.1M157.2 318.7h1.1M164.7 327.7h1.1M162.4 323.0h1.1M170.9 323.0h1.1M176.3 328.2h1.1M182.9 328.8h1.1M174.2 331.0h1.1M161.1 325.7h1.1M183.8 325.7h1.1M170.2 308.7h1.1M174.9 320.1h1.1M162.8 329.3h1.1M160.6 335.0h1.1M158.0 308.7h1.1M179.8 332.9h1.1M147.4 325.1h1.1M162.5 321.1h1.1M164.1 326.4h1.1M148.2 325.7h1.1M180.7 319.4h1.1M175.2 314.3h1.1M172.3 334.7h1.1M153.7 325.9h1.1M156.8 325.6h1.1M164.8 322.1h1.1M165.8 320.9h1.1M152.7 329.7h1.1M179.0 307.8h1.1M156.4 335.1h1.1M148.4 320.5h1.1M164.2 322.6h1.1M160.0 329.7h1.1M154.1 313.6h1.1M168.1 323.3h1.1M161.4 328.1h1.1M167.0 326.9h1.1M164.9 334.2h1.1M171.4 324.4h1.1M155.7 331.2h1.1M162.5 320.5h1.1M179.2 310.0h1.1M165.7 330.3h1.1M178.9 335.1h1.1M159.4 334.3h1.1M169.9 333.2h1.1M166.0 316.0h1.1M175.9 328.3h1.1M159.9 324.6h1.1M157.4 328.3h1.1M173.5 323.0h1.1M169.4 314.4h1.1M155.6 311.1h1.1M164.5 315.7h1.1M164.9 328.0h1.1M166.5 329.3h1.1M170.7 322.2h1.1M166.9 322.0h1.1M159.4 330.1h1.1M153.7 330.8h1.1M147.1 322.1h1.1M182.3 320.2h1.1M178.9 325.8h1.1M154.7 314.2h1.1M174.2 326.4h1.1M147.7 328.8h1.1M164.7 326.7h1.1M170.5 324.3h1.1M147.5 321.7h1.1M150.1 316.7h1.1M164.0 315.2h1.1M157.9 331.8h1.1M153.3 318.7h1.1M166.2 312.6h1.1M162.9 320.4h1.1M170.6 317.4h1.1M171.3 315.9h1.1M173.8 319.3h1.1M170.2 317.9h1.1M164.6 326.3h1.1M167.3 333.8h1.1M172.8 317.9h1.1M159.7 318.3h1.1M167.4 323.6h1.1M146.9 334.3h1.1M177.4 321.9h1.1M168.9 322.5h1.1M152.4 333.2h1.1M173.9 323.8h1.1M146.8 319.8h1.1M167.5 317.2h1.1M185.0 324.7h1.1M149.0 331.9h1.1M175.2 330.1h1.1M163.8 333.8h1.1M167.0 320.0h1.1M172.1 333.3h1.1M173.8 334.2h1.1M154.7 319.8h1.1M149.4 334.5h1.1M174.0 330.5h1.1M169.4 319.2h1.1M157.7 333.0h1.1M170.9 326.9h1.1M177.4 318.8h1.1M176.0 320.3h1.1M159.0 325.1h1.1M155.8 322.4h1.1M156.2 334.8h1.1M162.2 321.0h1.1M173.7 315.8h1.1M157.8 319.7h1.1M166.6 326.8h1.1M163.0 319.8h1.1M179.8 320.4h1.1M157.7 329.8h1.1M180.1 323.2h1.1M184.4 321.7h1.1M172.6 326.3h1.1M174.5 310.3h1.1M171.6 325.7h1.1M171.1 326.6h1.1M175.0 320.3h1.1M154.3 323.9h1.1M167.2 317.0h1.1M145.9 325.6h1.1M161.5 327.8h1.1M163.6 331.4h1.1M155.6 320.9h1.1M171.3 323.0h1.1M158.6 328.1h1.1M153.9 321.2h1.1M164.2 319.1h1.1M174.4 326.1h1.1M152.9 320.1h1.1M165.7 333.7h1.1M167.1 321.3h1.1M173.0 323.2h1.1M153.0 327.1h1.1M172.8 321.2h1.1M174.1 322.2h1.1M181.4 317.0h1.1M148.9 325.9h1.1M154.8 330.6h1.1M167.6 325.0h1.1M172.7 326.1h1.1M161.8 311.6h1.1M159.5 317.6h1.1M196.5 324.4h1.1M155.4 323.6h1.1M174.3 334.9h1.1M161.0 325.4h1.1M157.0 320.0h1.1M159.5 327.7h1.1M169.8 327.0h1.1M146.2 329.7h1.1M157.3 321.3h1.1M170.1 323.1h1.1M165.1 325.4h1.1M158.8 318.9h1.1M176.3 326.2h1.1M162.0 327.9h1.1M178.8 328.2h1.1M154.5 319.2h1.1M185.7 329.2h1.1M169.8 326.6h1.1M178.6 323.9h1.1M167.5 315.3h1.1M146.0 321.5h1.1M170.9 335.2h1.1M171.0 322.0h1.1M153.9 314.4h1.1M172.1 327.2h1.1M151.9 329.4h1.1M176.0 331.2h1.1M154.6 325.3h1.1M178.8 328.8h1.1M170.8 322.0h1.1M175.0 326.9h1.1M173.2 328.0h1.1M161.0 315.7h1.1M176.7 313.9h1.1M170.6 328.5h1.1M156.5 334.1h1.1M151.9 324.3h1.1M151.5 325.5h1.1M171.1 327.2h1.1M178.3 334.4h1.1M175.6 320.6h1.1M164.2 320.6h1.1M146.6 320.3h1.1M145.7 327.3h1.1M180.2 330.2h1.1M155.5 321.3h1.1M170.7 321.4h1.1M154.8 327.1h1.1M156.2 325.8h1.1M177.4 320.1h1.1M145.8 323.1h1.1M155.0 321.2h1.1M151.2 330.6h1.1M161.9 317.7h1.1M188.1 321.5h1.1M156.5 325.2h1.1M169.1 327.2h1.1M164.8 325.3h1.1M152.9 326.4h1.1M160.9 315.9h1.1M173.0 316.5h1.1M178.7 335.1h1.1M178.0 329.7h1.1M150.0 316.0h1.1M145.3 318.2h1.1M166.0 328.3h1.1M159.2 324.2h1.1M161.8 312.6h1.1M176.6 327.9h1.1M154.8 332.3h1.1M173.0 317.6h1.1M193.0 320.6h1.1M149.2 325.5h1.1M182.3 320.0h1.1M167.1 311.9h1.1M182.6 314.7h1.1M154.4 320.7h1.1M157.8 312.7h1.1M160.4 307.3h1.1M166.5 334.3h1.1M166.9 310.9h1.1M173.5 327.0h1.1M145.5 320.8h1.1M190.7 309.0h1.1M162.8 322.3h1.1M168.5 325.4h1.1M161.3 318.3h1.1M177.4 323.0h1.1M176.8 334.2h1.1M161.2 316.9h1.1M179.4 320.3h1.1M190.0 313.4h1.1M160.6 333.6h1.1M161.6 324.7h1.1M172.6 327.8h1.1M173.7 328.3h1.1M163.6 334.0h1.1M173.1 324.3h1.1M166.7 328.6h1.1M170.1 331.0h1.1M181.1 320.5h1.1M159.9 315.4h1.1M182.5 320.2h1.1M149.3 319.7h1.1M167.7 316.4h1.1M168.5 323.1h1.1M168.7 314.7h1.1M185.5 328.5h1.1M150.6 332.7h1.1M153.8 326.5h1.1M173.3 325.8h1.1M145.4 322.0h1.1M165.9 329.6h1.1M177.5 318.4h1.1M179.2 333.0h1.1M185.9 316.0h1.1M173.7 320.8h1.1M191.0 331.1h1.1M154.5 313.2h1.1M170.8 331.0h1.1M146.7 321.5h1.1M171.9 328.5h1.1M165.3 331.5h1.1M163.2 328.3h1.1M169.7 334.9h1.1M161.6 317.8h1.1M153.4 310.1h1.1M158.1 334.9h1.1M163.5 324.0h1.1M178.7 310.0h1.1M176.0 323.3h1.1M161.5 319.3h1.1M150.0 321.1h1.1M179.4 335.1h1.1M155.8 321.5h1.1M168.9 325.1h1.1M165.2 335.2h1.1M170.5 312.3h1.1M160.7 334.6h1.1M178.6 322.3h1.1M163.4 333.9h1.1M146.9 317.5h1.1M173.1 316.5h1.1M159.5 326.0h1.1M163.5 324.4h1.1M162.1 315.2h1.1M185.2 332.4h1.1M168.1 319.6h1.1M173.2 316.1h1.1M165.8 323.1h1.1M175.0 332.1h1.1M171.7 326.9h1.1M146.6 328.1h1.1M166.4 323.8h1.1M150.6 323.7h1.1M167.0 322.7h1.1M168.8 319.2h1.1M149.2 308.0h1.1M169.7 324.1h1.1M160.5 322.4h1.1M177.1 324.7h1.1M164.6 329.2h1.1M176.9 320.5h1.1M175.0 327.0h1.1M156.2 321.7h1.1M158.7 324.7h1.1M174.7 330.8h1.1M172.6 309.6h1.1M176.6 332.0h1.1M156.2 320.5h1.1M176.4 329.7h1.1M153.0 323.9h1.1M168.3 313.8h1.1M158.1 318.2h1.1M176.8 326.3h1.1M158.2 310.3h1.1M165.0 331.8h1.1M172.3 321.3h1.1M152.3 316.2h1.1M182.3 323.6h1.1M165.4 330.0h1.1M161.0 330.0h1.1M147.4 316.0h1.1M175.1 325.2h1.1M165.0 325.9h1.1M177.2 320.9h1.1M149.9 323.2h1.1M158.5 332.2h1.1M165.5 326.0h1.1M168.1 330.2h1.1M167.7 331.3h1.1M160.0 320.6h1.1M156.5 327.7h1.1M162.9 329.4h1.1M156.0 317.6h1.1M184.5 322.6h1.1M165.7 328.4h1.1M186.0 317.7h1.1M165.4 321.7h1.1M179.8 320.8h1.1M160.5 324.6h1.1M154.7 324.7h1.1M163.7 316.8h1.1M178.1 305.1h1.1M153.5 334.3h1.1M159.7 322.4h1.1M170.0 334.4h1.1M158.5 319.7h1.1M190.1 321.9h1.1M165.0 322.2h1.1M174.0 320.3h1.1M178.0 334.1h1.1M164.5 323.7h1.1M168.1 320.8h1.1M145.7 321.7h1.1M146.6 326.3h1.1M166.7 324.3h1.1M177.1 333.9h1.1M153.8 327.2h1.1M187.0 324.7h1.1M172.1 327.7h1.1M165.8 334.7h1.1M145.8 325.0h1.1M149.7 306.8h1.1M146.7 325.8h1.1M174.5 332.9h1.1M175.1 324.4h1.1M193.0 312.9h1.1M169.8 330.0h1.1M192.8 334.6h1.1M152.7 321.2h1.1M155.5 324.1h1.1M174.9 314.3h1.1M145.7 319.5h1.1M150.8 329.7h1.1M160.4 317.5h1.1M163.7 321.1h1.1M170.9 328.1h1.1M167.9 325.0h1.1M148.0 321.3h1.1M160.5 320.2h1.1M146.2 321.4h1.1M179.5 324.7h1.1M170.8 319.4h1.1M183.1 331.2h1.1M146.6 313.3h1.1M173.1 325.9h1.1M165.2 321.2h1.1M178.4 320.9h1.1M168.2 309.3h1.1M158.1 315.3h1.1M155.6 313.7h1.1M165.7 323.3h1.1M163.1 334.9h1.1M169.3 325.7h1.1M181.3 325.2h1.1M167.1 324.4h1.1M165.5 322.8h1.1M176.2 323.1h1.1M166.2 323.6h1.1M173.7 323.2h1.1M175.6 320.5h1.1M173.0 319.8h1.1M168.0 334.3h1.1M165.5 323.0h1.1M189.0 325.0h1.1M167.4 319.3h1.1M145.4 329.3h1.1M165.4 315.2h1.1M171.9 327.7h1.1M154.3 316.3h1.1M154.4 317.2h1.1M168.3 321.7h1.1M167.6 334.2h1.1M163.0 325.6h1.1M158.7 324.0h1.1M171.5 321.0h1.1M149.8 331.2h1.1M156.1 326.7h1.1M162.1 328.1h1.1M158.1 314.8h1.1M176.2 324.2h1.1M177.0 332.9h1.1M170.9 324.9h1.1M180.9 321.9h1.1M155.3 318.3h1.1M150.8 330.1h1.1M178.6 325.5h1.1M172.6 325.8h1.1M169.0 325.1h1.1M184.0 315.5h1.1M161.5 322.0h1.1M179.9 325.2h1.1M165.0 322.0h1.1M173.4 330.5h1.1M162.8 321.4h1.1M157.4 324.2h1.1M158.3 316.7h1.1M187.9 315.1h1.1M172.5 318.1h1.1M160.2 311.5h1.1M164.0 334.6h1.1M161.2 313.5h1.1M146.7 312.9h1.1M157.8 323.8h1.1M160.5 317.1h1.1M184.5 324.8h1.1M182.5 325.3h1.1M166.2 316.7h1.1M148.4 320.7h1.1M162.8 334.2h1.1M181.7 322.7h1.1M166.2 308.1h1.1M168.8 317.7h1.1M167.5 330.7h1.1M163.5 318.0h1.1M173.2 329.4h1.1M168.3 327.1h1.1M169.0 317.9h1.1M165.4 315.5h1.1M169.2 320.8h1.1M167.1 331.8h1.1M163.8 328.7h1.1M173.2 320.1h1.1M152.6 323.1h1.1M164.4 323.7h1.1M171.0 326.5h1.1M173.6 319.0h1.1M184.3 310.8h1.1M170.8 315.6h1.1M161.9 332.6h1.1M153.9 313.4h1.1M168.0 322.6h1.1M161.9 331.3h1.1M163.4 321.4h1.1M154.8 323.3h1.1M158.4 320.2h1.1M160.3 328.9h1.1M188.4 321.3h1.1M174.1 324.4h1.1M168.0 305.3h1.1M170.5 326.8h1.1M161.3 324.2h1.1M175.3 313.7h1.1M146.5 320.8h1.1M181.0 333.6h1.1M181.2 316.1h1.1M169.6 310.0h1.1M166.6 318.5h1.1M175.9 327.9h1.1M167.5 327.2h1.1M155.3 329.5h1.1M160.7 325.9h1.1M167.0 316.2h1.1M170.8 327.5h1.1M157.1 332.7h1.1M164.6 314.6h1.1M146.1 333.8h1.1M172.4 335.0h1.1M171.4 323.7h1.1M164.3 314.9h1.1M168.5 316.4h1.1M179.0 330.0h1.1M163.2 318.1h1.1M146.6 331.2h1.1M165.1 325.9h1.1M173.2 318.1h1.1M183.6 323.1h1.1M162.1 326.4h1.1M164.3 306.5h1.1M157.7 328.9h1.1M172.9 329.2h1.1M163.3 312.2h1.1M173.6 325.6h1.1M165.3 324.5h1.1M162.3 321.3h1.1M153.9 323.5h1.1M161.9 327.6h1.1M159.9 326.9h1.1M166.8 326.1h1.1M170.5 329.2h1.1M163.6 329.5h1.1M162.6 323.1h1.1M164.1 315.4h1.1M173.8 330.5h1.1M168.7 318.0h1.1M150.7 328.3h1.1M169.0 325.7h1.1M168.2 328.3h1.1M146.7 312.3h1.1M161.2 325.7h1.1M147.4 326.4h1.1M171.6 302.4h1.1M162.2 320.8h1.1M171.1 324.2h1.1M155.6 316.5h1.1M164.2 324.1h1.1M167.3 334.9h1.1M187.4 322.3h1.1M178.0 332.3h1.1M156.9 330.2h1.1M164.7 323.0h1.1M156.0 316.5h1.1M152.3 324.5h1.1M170.6 327.0h1.1M161.8 322.0h1.1M170.7 327.4h1.1M152.2 325.8h1.1M187.6 313.1h1.1M161.5 319.3h1.1M156.8 311.8h1.1M174.1 318.8h1.1M150.3 306.5h1.1M160.1 320.9h1.1M160.7 318.5h1.1M168.3 313.4h1.1M167.1 331.2h1.1M179.1 320.1h1.1M154.3 326.6h1.1M158.8 319.8h1.1M178.6 323.2h1.1M163.9 319.0h1.1M152.6 324.2h1.1M172.1 320.4h1.1M146.7 330.8h1.1M169.7 323.5h1.1M163.6 322.5h1.1M152.4 329.6h1.1M175.6 319.9h1.1M159.5 321.9h1.1M180.0 315.9h1.1M152.2 319.9h1.1M170.1 327.1h1.1M168.2 323.4h1.1M154.4 318.1h1.1M159.0 330.8h1.1M159.4 329.9h1.1M164.5 318.2h1.1M171.2 308.6h1.1M165.5 323.1h1.1M171.3 320.9h1.1M156.3 318.0h1.1M169.3 308.8h1.1M160.8 323.7h1.1M168.7 333.4h1.1M156.3 315.7h1.1M165.4 321.7h1.1M171.7 311.7h1.1M163.5 321.9h1.1M182.3 333.5h1.1M163.6 319.8h1.1M146.5 319.5h1.1M149.7 316.3h1.1M171.9 329.7h1.1M156.1 325.7h1.1M182.8 331.6h1.1M164.2 323.3h1.1M170.9 331.1h1.1M161.1 332.1h1.1M161.8 325.7h1.1M162.2 319.8h1.1M170.9 321.7h1.1M166.2 321.6h1.1M152.2 318.3h1.1M154.9 332.7h1.1M175.6 335.2h1.1M158.6 308.8h1.1M165.7 320.8h1.1M158.9 322.4h1.1M164.1 331.6h1.1M158.1 329.7h1.1M179.8 319.1h1.1M153.6 321.7h1.1M176.8 322.4h1.1M157.7 322.5h1.1M176.0 327.6h1.1M162.0 322.2h1.1M194.5 321.2h1.1M184.3 322.3h1.1M169.8 322.6h1.1M167.4 310.4h1.1M162.0 323.8h1.1M150.8 320.9h1.1M167.3 313.9h1.1M164.5 319.4h1.1M160.0 322.4h1.1M185.4 318.8h1.1M160.0 316.4h1.1M153.0 321.6h1.1M174.7 317.4h1.1M166.9 329.5h1.1M174.4 334.1h1.1M160.1 321.3h1.1M158.4 326.8h1.1M150.4 326.7h1.1M154.4 315.1h1.1M186.2 322.2h1.1M160.6 313.0h1.1M158.3 326.2h1.1M171.0 318.3h1.1M175.9 334.4h1.1M166.3 315.4h1.1M162.6 325.3h1.1M178.5 317.3h1.1M162.7 316.1h1.1M173.3 323.2h1.1M156.6 320.6h1.1M156.4 334.0h1.1M178.5 322.2h1.1M171.8 328.4h1.1M171.3 330.3h1.1M160.5 334.1h1.1M172.1 320.1h1.1M163.9 325.4h1.1M147.5 330.7h1.1M176.8 334.4h1.1M172.9 318.3h1.1M157.0 317.3h1.1M148.2 332.8h1.1M166.7 323.1h1.1M149.8 325.2h1.1M161.9 322.1h1.1M176.2 334.8h1.1M170.5 306.3h1.1M180.1 326.6h1.1M170.8 331.2h1.1M159.0 323.2h1.1M146.5 324.5h1.1M146.3 327.5h1.1M159.4 311.9h1.1M150.9 326.7h1.1M159.4 321.5h1.1M173.7 320.5h1.1M150.6 330.7h1.1M199.4 318.3h1.1M166.9 325.7h1.1M169.3 322.3h1.1M162.2 329.3h1.1M179.4 313.7h1.1M162.3 314.5h1.1M170.0 316.8h1.1M163.1 328.5h1.1M163.5 316.2h1.1M170.2 325.8h1.1M164.6 311.9h1.1M167.0 321.4h1.1M163.1 326.7h1.1M163.2 325.0h1.1M160.5 321.3h1.1M176.9 323.1h1.1M153.7 323.7h1.1M170.9 317.8h1.1M164.3 318.3h1.1M163.4 327.5h1.1M175.7 329.0h1.1M179.6 317.3h1.1M169.5 333.0h1.1M184.4 313.7h1.1M176.6 321.4h1.1M177.8 320.2h1.1M181.5 321.6h1.1M174.6 314.8h1.1M177.2 321.6h1.1M159.3 313.8h1.1M155.9 319.5h1.1M168.2 326.2h1.1M171.0 326.0h1.1M180.3 327.4h1.1M185.7 315.8h1.1M173.7 324.0h1.1M171.1 325.0h1.1M152.3 320.0h1.1M185.5 323.4h1.1M155.1 320.4h1.1M155.4 316.1h1.1M167.2 320.8h1.1M185.4 313.1h1.1M176.7 317.0h1.1M175.5 333.0h1.1M157.4 327.6h1.1M175.0 318.1h1.1M173.0 323.4h1.1M177.6 330.3h1.1M163.8 307.3h1.1M160.2 334.1h1.1M163.4 324.3h1.1M187.3 334.2h1.1M155.3 316.8h1.1M170.0 317.2h1.1M176.4 328.5h1.1M171.0 323.0h1.1M155.0 329.3h1.1M159.0 327.4h1.1M161.3 318.9h1.1M158.9 325.7h1.1M154.2 318.5h1.1M169.4 322.3h1.1M166.6 315.6h1.1M158.7 325.3h1.1M174.1 325.7h1.1M157.9 325.0h1.1M163.4 322.4h1.1M174.0 332.4h1.1M165.6 320.3h1.1M169.9 308.3h1.1M174.3 317.1h1.1M171.7 316.7h1.1M171.6 334.5h1.1M172.8 320.5h1.1M189.1 329.3h1.1M156.4 326.9h1.1M157.0 316.9h1.1M168.2 324.0h1.1M158.9 323.1h1.1M164.6 322.4h1.1M166.4 327.4h1.1M153.0 318.4h1.1M164.5 333.0h1.1M165.2 322.5h1.1M162.1 330.8h1.1M162.9 324.7h1.1M152.9 326.9h1.1M190.4 323.8h1.1M182.8 332.0h1.1M200.4 324.6h1.1M197.2 328.0h1.1M151.3 312.1h1.1M166.6 328.8h1.1M154.0 318.5h1.1M149.5 334.5h1.1M145.8 323.0h1.1M212.8 320.7h1.1M162.4 334.8h1.1M145.7 327.6h1.1M145.9 330.2h1.1M192.2 310.0h1.1M151.9 316.0h1.1M168.0 323.5h1.1M173.2 331.5h1.1M192.4 335.1h1.1M162.3 326.5h1.1M195.2 331.5h1.1M153.9 318.2h1.1M157.7 313.1h1.1M164.3 331.6h1.1M166.2 312.8h1.1M186.8 310.9h1.1M190.3 332.0h1.1M157.5 335.0h1.1M166.7 314.3h1.1M176.3 325.1h1.1M161.9 305.0h1.1M162.4 325.6h1.1M146.0 321.9h1.1M162.0 325.4h1.1M191.1 316.8h1.1M150.9 320.6h1.1M207.6 316.5h1.1M183.9 315.1h1.1M193.0 323.6h1.1M154.1 319.8h1.1M152.6 316.8h1.1M175.1 334.9h1.1M157.8 301.4h1.1M178.1 322.8h1.1M182.0 323.4h1.1M153.0 328.1h1.1M175.4 328.5h1.1M170.6 316.8h1.1M210.1 315.6h1.1M176.2 316.2h1.1M166.1 318.6h1.1M168.0 309.8h1.1M184.1 331.1h1.1M200.7 316.9h1.1M146.2 308.1h1.1M182.6 324.2h1.1M145.3 317.6h1.1M179.2 316.0h1.1M179.3 305.1h1.1M160.0 308.9h1.1M156.2 322.6h1.1M158.9 315.9h1.1M175.2 311.7h1.1M161.4 319.4h1.1M161.9 324.7h1.1M205.5 315.6h1.1M169.8 330.1h1.1M169.9 324.2h1.1M167.9 327.5h1.1M178.5 335.0h1.1M169.2 322.0h1.1M184.0 327.7h1.1M182.3 330.3h1.1M197.1 314.1h1.1M173.6 300.0h1.1M161.8 324.9h1.1M151.4 334.5h1.1M169.5 316.9h1.1M183.5 319.4h1.1M196.2 325.9h1.1M200.4 315.5h1.1M155.6 307.7h1.1M190.7 334.6h1.1M161.1 317.8h1.1M153.2 319.1h1.1M146.7 320.0h1.1M183.8 326.6h1.1M168.0 322.0h1.1M153.9 314.8h1.1M154.9 320.3h1.1M174.6 312.4h1.1M164.1 322.0h1.1M170.5 315.4h1.1M163.6 316.4h1.1M184.7 323.7h1.1M160.4 328.4h1.1M150.3 332.1h1.1M195.4 320.7h1.1M173.9 334.4h1.1M186.4 329.8h1.1M172.3 309.3h1.1M211.9 317.4h1.1M166.3 319.6h1.1M145.7 329.4h1.1M146.6 317.9h1.1M186.9 334.9h1.1M145.9 326.1h1.1M151.6 334.5h1.1M169.7 334.5h1.1M145.9 320.8h1.1M171.6 311.9h1.1M185.9 323.4h1.1M146.3 331.2h1.1M150.4 318.2h1.1M159.0 310.7h1.1M172.4 331.2h1.1M169.0 327.7h1.1M173.0 318.7h1.1M206.9 321.5h1.1M178.4 334.2h1.1M160.7 326.4h1.1M163.8 329.4h1.1M185.8 302.1h1.1M163.5 309.7h1.1M172.6 322.6h1.1M180.4 321.6h1.1M158.6 324.9h1.1M163.9 334.4h1.1M199.4 326.8h1.1M192.6 317.7h1.1M187.9 334.3h1.1M157.3 310.6h1.1M179.8 319.6h1.1M199.2 315.7h1.1M167.5 317.8h1.1M193.0 322.6h1.1M172.0 324.6h1.1M174.6 317.7h1.1M165.0 325.4h1.1M145.7 321.9h1.1M156.0 296.5h1.1M158.8 315.8h1.1M169.2 328.5h1.1M166.9 329.0h1.1M179.3 315.5h1.1M146.3 311.8h1.1M224.1 332.7h1.1M149.2 320.3h1.1M164.1 324.4h1.1M152.2 309.8h1.1M145.3 324.1h1.1M173.5 315.3h1.1M159.5 315.3h1.1M177.9 311.8h1.1M150.4 306.8h1.1M186.4 320.6h1.1M180.0 323.7h1.1M145.4 333.2h1.1M203.1 310.2h1.1M145.7 334.0h1.1M177.3 327.9h1.1M171.4 320.5h1.1M192.9 321.8h1.1M161.4 319.9h1.1M183.3 327.4h1.1M176.7 325.7h1.1M192.0 334.2h1.1M167.6 323.8h1.1M146.2 327.5h1.1M204.9 317.2h1.1M174.3 324.3h1.1M167.7 327.8h1.1M155.3 334.3h1.1M173.9 325.6h1.1M163.0 319.1h1.1M146.9 315.6h1.1M192.9 323.1h1.1M208.8 326.1h1.1M150.1 313.1h1.1M166.8 319.8h1.1M149.8 333.2h1.1M169.1 310.7h1.1M173.0 307.8h1.1M168.3 315.3h1.1M170.1 316.1h1.1M172.2 332.3h1.1M149.4 331.3h1.1M193.3 324.6h1.1M158.9 312.3h1.1M177.1 312.2h1.1M146.0 315.4h1.1M145.4 324.7h1.1M187.9 321.6h1.1M189.0 316.0h1.1M153.2 321.2h1.1M145.5 316.0h1.1M145.8 307.2h1.1M147.6 333.0h1.1M181.1 320.0h1.1M153.0 325.1h1.1M188.6 316.4h1.1M146.6 319.5h1.1M159.7 322.5h1.1M173.1 321.3h1.1M188.0 324.4h1.1M190.8 326.3h1.1M191.8 330.4h1.1M179.0 316.6h1.1M155.9 319.0h1.1M176.9 334.3h1.1M160.5 327.1h1.1M200.7 320.9h1.1M210.9 334.4h1.1M169.6 319.4h1.1M191.0 320.1h1.1M170.2 326.7h1.1M167.3 319.1h1.1M165.8 334.2h1.1M159.5 322.0h1.1M176.8 322.1h1.1M169.0 318.7h1.1M182.3 324.0h1.1M155.3 335.2h1.1M220.7 317.0h1.1M180.3 324.5h1.1M194.8 310.7h1.1M190.9 334.2h1.1M162.2 307.4h1.1M176.2 320.7h1.1M189.2 333.1h1.1M170.0 307.6h1.1M186.0 324.2h1.1M207.4 326.0h1.1M160.9 320.6h1.1M166.2 321.6h1.1M174.5 315.6h1.1M146.3 323.2h1.1M176.8 322.8h1.1M148.9 313.7h1.1M173.6 334.1h1.1M189.0 315.4h1.1M146.2 310.7h1.1M168.3 307.5h1.1M171.8 319.8h1.1M165.7 313.6h1.1M187.8 317.7h1.1M187.6 323.3h1.1M145.9 321.7h1.1M163.3 324.5h1.1M168.3 308.0h1.1M153.0 323.6h1.1M213.5 332.7h1.1M153.9 312.4h1.1M179.1 319.6h1.1M163.2 314.2h1.1M153.6 331.7h1.1M146.8 322.4h1.1M161.3 322.1h1.1M170.9 333.2h1.1M164.4 317.5h1.1M187.5 333.2h1.1M145.6 320.1h1.1M174.1 307.5h1.1M145.4 310.2h1.1M168.4 322.2h1.1M154.8 314.6h1.1M180.3 329.9h1.1M145.4 313.6h1.1M169.4 306.9h1.1M198.3 334.1h1.1M182.3 318.8h1.1M182.0 325.7h1.1M186.0 310.4h1.1M162.1 332.0h1.1M165.6 330.6h1.1M171.2 321.9h1.1M173.4 320.4h1.1M197.0 332.4h1.1M182.0 327.4h1.1M167.7 311.8h1.1M173.2 326.0h1.1M154.1 318.1h1.1M183.3 330.1h1.1M225.0 298.8h1.1M175.0 327.1h1.1M182.3 331.6h1.1M163.4 335.1h1.1M167.0 314.2h1.1M167.2 335.2h1.1M162.5 316.8h1.1M180.5 312.4h1.1M188.4 314.1h1.1M182.1 329.5h1.1M169.9 330.6h1.1M170.3 307.8h1.1M145.8 327.3h1.1M159.1 320.7h1.1M169.2 320.9h1.1M182.5 323.9h1.1M196.4 313.7h1.1M176.5 335.1h1.1M157.2 334.5h1.1M145.9 332.9h1.1M167.5 323.4h1.1M146.4 324.4h1.1M177.8 324.1h1.1M167.7 310.5h1.1M160.4 320.0h1.1M150.8 301.6h1.1M206.6 321.7h1.1M164.5 334.3h1.1M178.7 313.8h1.1M173.4 317.7h1.1M178.4 328.1h1.1M207.6 330.4h1.1M201.0 310.8h1.1M155.8 305.2h1.1M153.3 332.7h1.1M176.0 316.0h1.1M165.0 315.2h1.1M166.5 323.2h1.1M158.4 316.9h1.1M182.9 312.7h1.1M164.8 334.8h1.1M158.9 334.6h1.1M166.5 316.8h1.1M150.2 324.4h1.1M146.2 323.5h1.1M148.9 318.4h1.1M186.9 328.4h1.1M176.0 327.0h1.1M169.2 330.3h1.1M186.7 328.0h1.1M181.0 332.8h1.1M184.6 322.8h1.1M145.3 309.4h1.1M147.0 319.6h1.1M173.1 313.1h1.1M172.7 329.9h1.1M168.9 314.4h1.1M170.8 329.7h1.1M146.4 330.8h1.1M172.6 312.0h1.1M163.5 324.4h1.1M174.5 322.2h1.1M172.6 312.7h1.1M159.4 334.7h1.1M171.7 318.0h1.1M148.5 322.2h1.1M205.3 330.6h1.1M174.7 327.4h1.1M180.7 293.3h1.1M182.9 326.3h1.1M154.8 324.0h1.1M169.9 323.5h1.1M187.8 322.6h1.1M164.3 324.3h1.1M146.7 313.8h1.1M165.7 322.9h1.1M172.9 316.1h1.1M181.3 326.6h1.1M146.7 321.0h1.1M182.8 326.8h1.1M188.9 334.3h1.1M179.8 300.6h1.1M169.7 327.7h1.1M183.8 321.8h1.1M153.0 314.1h1.1M167.7 307.4h1.1M168.4 314.7h1.1M145.3 311.8h1.1M172.4 317.4h1.1M151.3 321.8h1.1M147.5 328.7h1.1M165.1 332.8h1.1M146.5 303.0h1.1M179.0 319.9h1.1M168.2 324.7h1.1M151.0 334.4h1.1M163.2 333.0h1.1M145.9 321.7h1.1M179.0 322.6h1.1M150.6 321.6h1.1M188.6 329.7h1.1M186.2 321.4h1.1M152.9 330.4h1.1M145.9 321.8h1.1M177.5 313.4h1.1M197.2 312.8h1.1M160.8 327.3h1.1M158.6 320.6h1.1M172.9 334.9h1.1M154.7 323.3h1.1M170.5 334.8h1.1M145.5 323.0h1.1M160.8 329.7h1.1M189.7 320.7h1.1M167.3 311.8h1.1M177.9 321.2h1.1M149.3 312.8h1.1M153.5 319.1h1.1M168.7 323.0h1.1M174.1 323.1h1.1M163.7 312.3h1.1M194.4 323.5h1.1M171.6 324.3h1.1M162.2 335.1h1.1M152.7 316.3h1.1M162.7 306.2h1.1M146.3 309.2h1.1M166.6 325.6h1.1M156.5 325.3h1.1M155.4 334.0h1.1M152.5 322.3h1.1M166.5 307.3h1.1M179.9 331.9h1.1M158.9 309.7h1.1M193.2 315.7h1.1M152.9 321.3h1.1M145.8 314.3h1.1M167.9 312.4h1.1M158.7 325.6h1.1M189.9 320.1h1.1M162.5 319.2h1.1M168.4 332.0h1.1M152.0 320.9h1.1M174.6 330.3h1.1M167.9 318.7h1.1M168.3 333.2h1.1M172.6 320.0h1.1M188.7 322.2h1.1M162.0 318.9h1.1M172.9 315.3h1.1M160.0 310.1h1.1M167.9 307.9h1.1M165.9 319.5h1.1M153.2 316.6h1.1M145.8 323.1h1.1M160.3 325.6h1.1M169.8 321.5h1.1M153.0 326.2h1.1M177.7 312.4h1.1M181.3 317.7h1.1M146.5 317.8h1.1M176.5 328.4h1.1M165.0 328.3h1.1M195.5 319.0h1.1M204.6 307.6h1.1M170.4 326.4h1.1M182.9 322.8h1.1M192.0 307.3h1.1M172.8 305.5h1.1M190.3 317.1h1.1M194.5 321.6h1.1M196.6 322.1h1.1M200.4 304.5h1.1M195.6 302.4h1.1M198.6 324.3h1.1M176.9 330.5h1.1M193.6 318.8h1.1M181.4 327.6h1.1M186.1 315.3h1.1M188.1 313.4h1.1M173.5 313.5h1.1M190.1 314.7h1.1M157.4 311.2h1.1M183.5 308.1h1.1M203.9 306.3h1.1M187.8 324.3h1.1M219.2 321.1h1.1M193.7 305.3h1.1M202.9 309.0h1.1M188.3 326.2h1.1M182.3 321.2h1.1M197.1 299.1h1.1M186.7 331.5h1.1M173.3 309.7h1.1M187.7 305.3h1.1M189.9 327.2h1.1M189.6 314.8h1.1M189.1 323.6h1.1M188.8 316.6h1.1M201.6 303.9h1.1M177.5 308.1h1.1M189.7 310.6h1.1M176.2 323.3h1.1M191.1 302.3h1.1M179.5 318.9h1.1M191.0 303.6h1.1M174.8 313.6h1.1M202.9 306.2h1.1M198.9 304.4h1.1M202.9 299.6h1.1M183.7 331.1h1.1M195.1 308.2h1.1M194.4 302.6h1.1M191.8 327.3h1.1M188.0 318.3h1.1M182.0 325.1h1.1M189.2 331.0h1.1M174.7 311.7h1.1M191.6 310.6h1.1M174.9 327.5h1.1M183.2 313.7h1.1M189.5 303.0h1.1M197.3 307.4h1.1M196.1 287.9h1.1M171.8 295.9h1.1M186.4 320.2h1.1M180.7 316.3h1.1M182.8 304.5h1.1M181.9 314.5h1.1M181.7 310.8h1.1M179.2 317.4h1.1M165.7 294.1h1.1M190.3 314.8h1.1M182.8 324.7h1.1M176.0 303.6h1.1M183.8 322.6h1.1M188.7 324.9h1.1M172.6 312.2h1.1M196.6 308.2h1.1M195.6 308.9h1.1M198.6 298.5h1.1M178.3 318.2h1.1M183.5 309.7h1.1M171.2 316.9h1.1M196.6 306.3h1.1M196.2 316.5h1.1M179.1 323.6h1.1M193.6 301.5h1.1M190.2 315.3h1.1M198.7 306.8h1.1M199.8 320.0h1.1M195.7 311.5h1.1M181.0 314.4h1.1M174.5 314.2h1.1M191.1 313.2h1.1M179.9 322.0h1.1M182.9 301.7h1.1M183.5 294.2h1.1M183.3 307.4h1.1M178.9 332.7h1.1M188.7 313.9h1.1M183.0 307.6h1.1M181.9 298.2h1.1M202.2 328.0h1.1M195.8 312.2h1.1M190.4 319.6h1.1M200.4 313.6h1.1M187.4 320.7h1.1M197.9 312.7h1.1M183.0 309.0h1.1M185.0 312.2h1.1M192.7 327.7h1.1M184.7 314.1h1.1M193.4 329.2h1.1M184.5 312.8h1.1M191.1 312.1h1.1M193.8 322.9h1.1M175.7 330.8h1.1M176.6 315.3h1.1M184.0 304.7h1.1M180.7 308.5h1.1M199.7 299.8h1.1M198.2 311.8h1.1M168.5 303.9h1.1M197.4 309.0h1.1M193.0 309.4h1.1M202.0 304.2h1.1M225.7 269.3h1.1M227.0 267.7h1.1M217.3 268.5h1.1M220.3 266.9h1.1M213.4 266.3h1.1M223.9 268.6h1.1M224.6 267.7h1.1M213.0 271.8h1.1M214.6 268.9h1.1M220.9 266.9h1.1M223.3 263.1h1.1M222.9 270.2h1.1M230.0 269.7h1.1M226.0 267.5h1.1M222.7 271.5h1.1M219.1 264.4h1.1M211.0 267.7h1.1M224.1 268.2h1.1M218.9 267.7h1.1M216.6 271.5h1.1M220.2 266.2h1.1M223.2 270.8h1.1M217.2 268.5h1.1M224.8 271.0h1.1M221.8 264.5h1.1M228.2 263.0h1.1M216.5 269.6h1.1M218.3 265.5h1.1M223.1 264.4h1.1M210.2 267.2h1.1M226.5 268.3h1.1M218.0 265.5h1.1M221.0 272.3h1.1M221.0 267.1h1.1M214.4 270.0h1.1M210.9 268.1h1.1M211.5 264.8h1.1M221.7 270.2h1.1M226.7 269.9h1.1M221.2 268.4h1.1M222.5 269.2h1.1M218.4 266.0h1.1M220.1 268.0h1.1M219.2 266.6h1.1M221.0 268.9h1.1M224.5 269.6h1.1M225.3 269.5h1.1M227.6 270.2h1.1M216.5 269.7h1.1M226.2 273.4h1.1M224.0 271.1h1.1M213.6 268.4h1.1M218.0 269.3h1.1M208.2 267.4h1.1M213.5 271.7h1.1M222.5 265.9h1.1M215.6 269.5h1.1M221.3 268.3h1.1M222.9 268.6h1.1M217.9 270.0h1.1M231.9 264.7h1.1M214.5 267.4h1.1M223.2 270.0h1.1M232.9 266.9h1.1M227.0 263.1h1.1M221.7 268.2h1.1M218.7 269.0h1.1M212.8 269.0h1.1M230.1 267.4h1.1M226.7 262.6h1.1M215.2 263.4h1.1M217.7 270.2h1.1M211.7 267.0h1.1M219.0 268.0h1.1M211.3 266.9h1.1M222.3 268.6h1.1M222.8 270.8h1.1M226.6 271.7h1.1M229.1 262.1h1.1M214.2 268.1h1.1M225.2 269.3h1.1M213.1 264.9h1.1M216.9 269.8h1.1M221.1 271.5h1.1M212.6 267.1h1.1M210.4 269.6h1.1M212.7 265.4h1.1M229.4 272.1h1.1M217.8 267.8h1.1M226.8 269.8h1.1M232.1 266.5h1.1M226.2 267.8h1.1M219.7 263.1h1.1M230.9 266.8h1.1M212.9 267.8h1.1M216.2 272.6h1.1M213.0 268.3h1.1M221.0 269.8h1.1M217.7 267.7h1.1M216.0 267.0h1.1M226.6 265.2h1.1M212.3 270.3h1.1M222.2 265.7h1.1M218.8 273.3h1.1M218.6 267.6h1.1M219.0 268.8h1.1M225.4 270.7h1.1M228.6 269.5h1.1M216.9 267.8h1.1M209.3 274.9h1.1M206.9 264.9h1.1M214.0 269.1h1.1M208.4 270.6h1.1M217.8 268.0h1.1M226.1 265.9h1.1M222.4 267.4h1.1M220.8 267.1h1.1M220.4 267.3h1.1M216.2 268.1h1.1M218.9 269.3h1.1M214.1 266.2h1.1M227.3 269.3h1.1M217.6 265.4h1.1M225.7 269.3h1.1M213.4 269.9h1.1M224.9 268.4h1.1M218.7 268.8h1.1M220.9 265.7h1.1M220.1 268.2h1.1M226.5 271.6h1.1M221.2 266.5h1.1M220.5 267.6h1.1M225.0 271.9h1.1M216.3 268.4h1.1M222.0 267.9h1.1M226.0 267.2h1.1M213.4 268.3h1.1M203.9 272.8h1.1M219.3 267.7h1.1M226.1 270.5h1.1M228.6 271.5h1.1M220.6 269.0h1.1M219.8 270.5h1.1M217.4 265.5h1.1M223.3 269.8h1.1M226.6 265.9h1.1M211.7 269.0h1.1M225.5 269.3h1.1M218.2 269.5h1.1M226.1 266.5h1.1M219.9 268.8h1.1M214.2 267.4h1.1M218.0 264.2h1.1M224.2 270.7h1.1M228.4 266.8h1.1M214.4 267.8h1.1M227.6 270.5h1.1M213.2 267.4h1.1M206.5 268.2h1.1M228.4 268.4h1.1M215.9 268.9h1.1M217.2 269.9h1.1M218.0 271.1h1.1M218.0 272.8h1.1M214.8 268.7h1.1M221.8 265.5h1.1M214.6 269.1h1.1M217.7 269.5h1.1M219.5 267.1h1.1M224.0 269.2h1.1M222.1 271.0h1.1M216.2 266.7h1.1M213.3 269.1h1.1M217.8 267.9h1.1M220.9 268.1h1.1M229.0 270.6h1.1M225.5 270.3h1.1M225.7 265.9h1.1M212.5 271.2h1.1M216.8 273.9h1.1M229.7 263.0h1.1M215.5 268.4h1.1M225.9 267.0h1.1M217.9 268.9h1.1M214.8 270.8h1.1M216.8 266.4h1.1M223.8 266.6h1.1M214.1 267.8h1.1M209.0 267.3h1.1M220.5 268.7h1.1M218.6 269.6h1.1M214.8 269.2h1.1M220.8 268.4h1.1M223.2 265.6h1.1M220.2 268.6h1.1M231.0 267.2h1.1M215.7 268.3h1.1M223.2 266.4h1.1M215.6 267.8h1.1M225.1 266.7h1.1M225.8 268.5h1.1M213.4 268.3h1.1M221.7 270.2h1.1M218.2 266.9h1.1M224.5 266.2h1.1M222.6 267.4h1.1M218.5 268.9h1.1M218.6 269.1h1.1M217.7 265.7h1.1M224.1 265.7h1.1M216.7 269.7h1.1M221.3 269.7h1.1M214.8 270.4h1.1M214.5 268.4h1.1M227.5 266.8h1.1M214.9 263.9h1.1M224.2 269.4h1.1M208.8 266.6h1.1M222.0 264.5h1.1M224.9 270.7h1.1M227.4 266.7h1.1M223.3 267.9h1.1M228.7 267.9h1.1M208.1 267.2h1.1M221.0 267.6h1.1M216.0 268.9h1.1M213.7 267.8h1.1M220.4 267.8h1.1M229.0 268.8h1.1M222.8 263.9h1.1M213.6 269.3h1.1M219.9 268.5h1.1M223.9 266.1h1.1M223.6 272.5h1.1M225.8 270.0h1.1M225.3 268.0h1.1M220.9 266.5h1.1M227.1 269.8h1.1M218.3 267.7h1.1M219.5 269.3h1.1M224.4 268.6h1.1M224.8 266.6h1.1M218.5 269.1h1.1M216.5 265.6h1.1M225.1 268.2h1.1M223.8 264.0h1.1M213.8 268.7h1.1M222.1 270.2h1.1M214.6 269.3h1.1M224.9 265.9h1.1M221.9 271.4h1.1M217.5 267.9h1.1M225.3 264.5h1.1M226.7 268.1h1.1M225.7 266.7h1.1M223.1 266.7h1.1M216.1 271.3h1.1M219.9 270.3h1.1M221.0 266.2h1.1M216.0 269.7h1.1M216.8 267.7h1.1M218.8 266.6h1.1M217.2 270.1h1.1M217.9 271.0h1.1M225.8 266.8h1.1M216.4 271.4h1.1M213.6 269.6h1.1M217.9 267.4h1.1M213.1 269.8h1.1M216.2 267.2h1.1M213.2 268.5h1.1M211.7 268.8h1.1M212.8 270.1h1.1M229.0 264.2h1.1M215.4 271.0h1.1M222.5 265.9h1.1M223.2 272.7h1.1M213.5 269.7h1.1M222.1 264.4h1.1M220.7 270.5h1.1M227.5 268.3h1.1M225.9 266.5h1.1M216.6 270.1h1.1M220.5 268.6h1.1M214.6 269.6h1.1M220.4 267.8h1.1M220.1 268.4h1.1M218.9 268.8h1.1M225.6 267.2h1.1M218.2 266.9h1.1M213.7 266.4h1.1M219.7 269.3h1.1M222.4 268.0h1.1M223.6 267.9h1.1M221.8 272.2h1.1M228.9 267.7h1.1M210.9 269.8h1.1M221.1 271.2h1.1M213.7 270.1h1.1M216.4 266.5h1.1M213.9 269.5h1.1M225.1 266.8h1.1M220.6 266.9h1.1M210.7 266.4h1.1M219.3 268.1h1.1M225.2 265.2h1.1M224.7 270.1h1.1M213.7 267.2h1.1M220.8 268.1h1.1M216.8 267.9h1.1M216.0 266.1h1.1M217.3 268.1h1.1M218.5 271.9h1.1M217.4 269.3h1.1M214.7 267.9h1.1M211.8 267.3h1.1M227.2 263.8h1.1M222.3 266.0h1.1M216.9 268.0h1.1M216.9 269.9h1.1M218.0 269.2h1.1M225.1 270.4h1.1M225.9 268.4h1.1M228.3 269.4h1.1M211.6 268.0h1.1M221.2 268.8h1.1M218.8 267.5h1.1M213.2 267.7h1.1M215.8 272.0h1.1M211.4 266.0h1.1M219.7 266.5h1.1M223.2 271.5h1.1M213.2 266.7h1.1M219.5 265.9h1.1M217.4 270.2h1.1M230.4 271.8h1.1M208.3 268.6h1.1M219.4 270.6h1.1M225.3 269.7h1.1M220.3 266.1h1.1M215.9 268.7h1.1M219.2 269.8h1.1M230.1 267.4h1.1M228.7 268.7h1.1M225.5 268.0h1.1M220.7 266.7h1.1M208.2 270.6h1.1M218.5 269.5h1.1M220.9 270.6h1.1M213.0 268.1h1.1M216.0 274.6h1.1M216.0 267.6h1.1M221.1 267.6h1.1M225.6 265.4h1.1M223.2 267.7h1.1M217.1 263.8h1.1M217.8 267.7h1.1M221.6 266.9h1.1M214.7 269.2h1.1M223.9 264.1h1.1M225.7 267.6h1.1M219.4 270.2h1.1M218.0 265.2h1.1M226.6 266.7h1.1M224.9 264.6h1.1M216.9 265.0h1.1M216.2 265.3h1.1M221.9 267.3h1.1M223.6 267.0h1.1M220.8 272.1h1.1M219.0 265.8h1.1M218.0 268.1h1.1M226.2 270.8h1.1M222.8 272.6h1.1M219.2 262.6h1.1M215.6 269.7h1.1M224.8 267.0h1.1M213.9 268.6h1.1M203.3 267.0h1.1M213.3 268.3h1.1M213.5 268.2h1.1M217.2 266.3h1.1M213.5 274.3h1.1M217.0 265.7h1.1M224.2 270.6h1.1M218.2 269.8h1.1M215.8 268.6h1.1M215.6 267.9h1.1M214.6 265.2h1.1M222.1 272.4h1.1M219.3 266.7h1.1M226.5 267.3h1.1M216.5 268.2h1.1M221.7 269.7h1.1M215.8 266.8h1.1M211.1 268.6h1.1M225.4 266.3h1.1M225.9 270.1h1.1M216.7 267.3h1.1M217.3 267.7h1.1M218.7 271.0h1.1M216.1 271.2h1.1M228.7 269.1h1.1M216.4 266.7h1.1M211.2 267.0h1.1M216.5 267.6h1.1M217.4 273.0h1.1M225.0 263.7h1.1M219.7 270.3h1.1M223.8 268.9h1.1M220.1 267.1h1.1M228.8 268.6h1.1M220.8 271.3h1.1M224.7 265.4h1.1M226.2 268.2h1.1M220.9 268.4h1.1M216.0 269.7h1.1M232.3 266.9h1.1M225.0 266.4h1.1M224.3 269.7h1.1M212.7 271.2h1.1M208.8 270.3h1.1M221.7 268.4h1.1M225.8 270.5h1.1M218.5 266.3h1.1M216.2 267.9h1.1M216.4 266.5h1.1M227.3 270.7h1.1M229.0 269.9h1.1M214.1 268.5h1.1M221.0 266.9h1.1M226.5 270.5h1.1M225.1 266.4h1.1M223.1 267.1h1.1M227.9 270.2h1.1M221.2 267.1h1.1M217.7 269.2h1.1M223.1 268.5h1.1M216.5 264.7h1.1M222.4 273.2h1.1M210.0 267.1h1.1M222.7 266.2h1.1M222.3 269.7h1.1M216.7 269.5h1.1M213.9 271.7h1.1M218.5 269.4h1.1M224.8 264.6h1.1M223.8 267.7h1.1M220.8 271.0h1.1M218.8 266.9h1.1M227.7 268.1h1.1M228.5 270.1h1.1M215.8 269.9h1.1M225.2 270.3h1.1M222.4 268.0h1.1M213.1 267.6h1.1M224.1 268.1h1.1M207.9 267.5h1.1M225.8 266.6h1.1M226.0 268.8h1.1M217.7 266.7h1.1M215.7 266.1h1.1M220.7 269.4h1.1M221.5 267.2h1.1M217.8 265.5h1.1M211.8 265.1h1.1M214.0 265.4h1.1M227.4 271.6h1.1M216.8 271.0h1.1M213.8 269.6h1.1M221.3 267.1h1.1M221.0 264.8h1.1M208.8 269.6h1.1M218.4 263.0h1.1M220.7 268.0h1.1M223.0 265.8h1.1M216.0 268.5h1.1M221.3 271.8h1.1M230.0 269.9h1.1M218.8 267.2h1.1M217.8 280.2h1.1M216.2 298.0h1.1M221.2 267.6h1.1M220.6 286.1h1.1M219.4 283.2h1.1M216.0 267.4h1.1M215.4 280.8h1.1M220.6 276.0h1.1M216.7 294.7h1.1M222.4 281.9h1.1M220.2 272.7h1.1M215.8 273.1h1.1M215.4 270.3h1.1M211.6 275.1h1.1M214.0 268.6h1.1M215.7 281.3h1.1M218.4 285.3h1.1M217.5 291.9h1.1M218.8 294.1h1.1M218.9 277.0h1.1M215.4 292.5h1.1M228.3 268.1h1.1M220.0 295.7h1.1M218.3 298.7h1.1M219.6 287.9h1.1M216.6 297.9h1.1M216.9 295.6h1.1M220.8 296.3h1.1M211.6 270.8h1.1M221.0 282.2h1.1M215.5 296.3h1.1M219.4 269.7h1.1M219.8 272.4h1.1M216.3 295.3h1.1M215.6 291.3h1.1M215.7 267.0h1.1M222.9 268.7h1.1M213.5 298.3h1.1M221.6 272.6h1.1M215.8 275.1h1.1M218.7 295.9h1.1M211.7 272.7h1.1M218.9 268.4h1.1M220.6 270.3h1.1M216.5 282.1h1.1M218.8 294.5h1.1M218.0 275.2h1.1M217.5 281.3h1.1M216.4 267.2h1.1M217.2 278.4h1.1M215.3 283.9h1.1M217.1 292.8h1.1M219.0 298.7h1.1M213.8 298.7h1.1M213.5 275.1h1.1M216.8 290.6h1.1M218.2 269.7h1.1M221.1 281.1h1.1M217.4 299.6h1.1M217.7 275.8h1.1M219.6 294.5h1.1M219.6 283.1h1.1M216.0 292.8h1.1M219.6 297.8h1.1M216.0 298.7h1.1M216.4 285.1h1.1M215.7 288.3h1.1M212.1 275.7h1.1M216.2 287.7h1.1M220.2 268.3h1.1M218.8 281.4h1.1M220.4 273.0h1.1M208.2 275.3h1.1M222.2 280.4h1.1M214.0 281.3h1.1M219.2 291.7h1.1M214.2 280.3h1.1M217.1 270.1h1.1M220.5 270.8h1.1M219.5 267.4h1.1M215.8 276.7h1.1M216.9 289.3h1.1M214.6 277.8h1.1M215.6 290.9h1.1M220.1 286.2h1.1M221.2 272.1h1.1M216.1 288.9h1.1M219.9 267.3h1.1M218.4 299.4h1.1M218.4 296.9h1.1M213.2 267.5h1.1M219.1 286.2h1.1M219.6 290.4h1.1M216.8 268.0h1.1M220.9 270.8h1.1M217.5 283.9h1.1M218.8 295.2h1.1M218.4 295.0h1.1M216.4 282.7h1.1M218.5 267.6h1.1M216.3 270.9h1.1M216.6 279.6h1.1M219.4 291.9h1.1M217.5 276.6h1.1M217.0 283.5h1.1M211.8 277.3h1.1M214.3 274.2h1.1M215.9 296.8h1.1M213.1 280.5h1.1M214.7 278.9h1.1M214.9 279.2h1.1M215.6 299.9h1.1M206.2 273.3h1.1M217.7 291.8h1.1M216.7 281.4h1.1M219.7 276.7h1.1M214.8 277.0h1.1M218.6 278.8h1.1M221.3 282.2h1.1M219.9 287.4h1.1M217.5 270.4h1.1M218.5 278.5h1.1M214.1 286.0h1.1M219.7 283.3h1.1M222.7 267.4h1.1M218.2 296.6h1.1M215.4 287.3h1.1M218.6 268.9h1.1M217.7 284.9h1.1M212.8 268.1h1.1M215.5 272.5h1.1M211.0 276.2h1.1M217.1 294.9h1.1M218.1 270.6h1.1M217.2 295.0h1.1M215.7 272.7h1.1M216.6 276.0h1.1M217.5 296.4h1.1M217.4 280.6h1.1M218.3 282.1h1.1M216.7 296.9h1.1M213.3 294.3h1.1M219.9 285.6h1.1M218.4 282.5h1.1M217.7 276.7h1.1M218.2 294.0h1.1M216.4 285.7h1.1M219.8 294.3h1.1M215.2 269.2h1.1M216.4 295.7h1.1M219.7 291.2h1.1M216.3 279.8h1.1M211.4 273.7h1.1M220.9 298.6h1.1M219.0 299.7h1.1M215.6 285.5h1.1M213.4 295.8h1.1M219.8 291.0h1.1M213.4 272.7h1.1M222.8 269.6h1.1M218.2 271.9h1.1M218.3 295.8h1.1M218.3 299.9h1.1M214.6 288.9h1.1M214.2 286.5h1.1M219.4 268.8h1.1M215.2 271.5h1.1M219.8 285.4h1.1M218.1 271.5h1.1M222.6 290.4h1.1M217.7 296.9h1.1M215.1 279.1h1.1M218.0 292.6h1.1M215.0 278.9h1.1M219.9 282.7h1.1M217.6 288.7h1.1M213.8 285.7h1.1M218.9 280.5h1.1M223.2 274.5h1.1M219.6 290.0h1.1M218.3 277.3h1.1M212.1 286.7h1.1M218.1 291.5h1.1M217.3 297.4h1.1M218.5 277.9h1.1M210.0 268.3h1.1M221.9 282.6h1.1M220.9 274.3h1.1M216.4 275.4h1.1M223.0 284.7h1.1M217.3 273.1h1.1M215.9 291.2h1.1M217.9 283.3h1.1M215.2 299.3h1.1M213.7 286.8h1.1M218.5 281.9h1.1M214.8 272.7h1.1M221.4 291.9h1.1M216.6 298.4h1.1M213.2 276.0h1.1M213.5 287.2h1.1M212.3 289.0h1.1M217.2 275.6h1.1M218.2 290.3h1.1M216.5 277.1h1.1M218.2 279.3h1.1M216.9 295.4h1.1M221.7 289.4h1.1M215.6 285.5h1.1M216.2 286.0h1.1M221.3 282.6h1.1M216.5 274.7h1.1M216.1 295.7h1.1M215.5 285.0h1.1M221.0 269.4h1.1M224.5 278.2h1.1M218.1 291.2h1.1M222.2 271.4h1.1M215.5 291.2h1.1M215.2 275.7h1.1M219.1 270.7h1.1M223.6 273.5h1.1M213.6 268.4h1.1M218.6 299.5h1.1M208.8 275.7h1.1M221.7 287.9h1.1M215.3 278.1h1.1M219.4 269.4h1.1M216.4 278.5h1.1M216.1 278.7h1.1M214.1 269.8h1.1M215.8 285.7h1.1M215.4 290.4h1.1M220.0 267.9h1.1M211.7 270.8h1.1M211.7 269.1h1.1M218.8 298.9h1.1M215.8 280.9h1.1M216.1 285.9h1.1M219.8 287.9h1.1M213.2 279.0h1.1M219.7 268.6h1.1M216.8 278.5h1.1M219.5 280.4h1.1M214.2 287.1h1.1M216.9 285.8h1.1M220.1 276.8h1.1M217.1 267.0h1.1M216.4 282.0h1.1M213.9 276.1h1.1M217.8 274.4h1.1M221.3 293.9h1.1M213.1 272.5h1.1M215.5 268.9h1.1M209.3 288.4h1.1M216.2 295.9h1.1M217.4 295.6h1.1M218.6 291.6h1.1M216.4 268.5h1.1M215.8 287.2h1.1M225.5 267.6h1.1M221.1 280.0h1.1M223.9 277.8h1.1M216.1 271.1h1.1M215.1 287.3h1.1M220.5 273.5h1.1M216.3 271.1h1.1M220.8 270.2h1.1M215.5 294.3h1.1M219.6 291.6h1.1M221.4 286.2h1.1M221.4 296.9h1.1M215.4 292.8h1.1M222.5 284.7h1.1M212.2 267.3h1.1M221.1 281.1h1.1M218.3 297.6h1.1M214.3 299.1h1.1M217.7 274.4h1.1M217.4 291.1h1.1M212.4 268.1h1.1M217.5 267.8h1.1M218.0 284.5h1.1M214.5 271.6h1.1M217.0 289.9h1.1M217.3 273.3h1.1M217.2 297.4h1.1M220.5 277.8h1.1M218.2 294.9h1.1M214.7 285.7h1.1M221.6 267.2h1.1M218.6 284.4h1.1M226.0 269.1h1.1M219.8 270.1h1.1M219.1 267.6h1.1M218.3 272.7h1.1M216.0 282.3h1.1M215.1 280.0h1.1M215.7 274.1h1.1M216.7 284.1h1.1M220.3 267.0h1.1M216.4 281.4h1.1M214.2 270.2h1.1M218.3 284.7h1.1M221.3 290.3h1.1M209.2 278.0h1.1M215.8 281.3h1.1M219.8 279.8h1.1M220.1 298.8h1.1M219.8 273.8h1.1M216.9 283.1h1.1M223.1 279.4h1.1M217.1 273.4h1.1M217.6 268.3h1.1M219.2 295.8h1.1M218.9 285.8h1.1M220.4 267.3h1.1M216.9 298.3h1.1M213.1 277.2h1.1M214.2 268.1h1.1M217.4 279.7h1.1M212.7 288.4h1.1M219.5 286.2h1.1M220.1 279.8h1.1M217.7 267.4h1.1M215.9 281.8h1.1M222.9 272.2h1.1M224.1 283.9h1.1M214.7 288.3h1.1M215.7 294.3h1.1M215.1 267.7h1.1M219.0 283.0h1.1M219.9 276.0h1.1M216.0 272.3h1.1M217.1 296.2h1.1M213.3 275.3h1.1M220.0 288.4h1.1M223.1 271.1h1.1M222.2 291.4h1.1M219.6 293.8h1.1M223.1 267.2h1.1M221.9 292.0h1.1M219.2 272.9h1.1M212.1 271.7h1.1M216.1 286.5h1.1M218.1 293.3h1.1M217.6 287.7h1.1M220.5 286.3h1.1M217.2 275.2h1.1M219.7 297.7h1.1M217.4 268.2h1.1M219.4 299.3h1.1M219.8 299.7h1.1M217.8 269.1h1.1M220.9 270.6h1.1M218.9 299.7h1.1M214.9 298.4h1.1M222.0 286.6h1.1M220.5 267.9h1.1M216.7 299.0h1.1M221.9 268.9h1.1M215.0 280.0h1.1M209.9 270.1h1.1M217.9 281.5h1.1M213.9 299.1h1.1M215.3 269.0h1.1M212.9 288.5h1.1M212.5 274.2h1.1M218.5 278.2h1.1M214.6 275.3h1.1M215.9 293.1h1.1M213.0 267.1h1.1M215.8 289.6h1.1M218.9 275.7h1.1M221.8 269.0h1.1M214.8 298.4h1.1M219.1 286.0h1.1M218.9 299.8h1.1M216.0 267.0h1.1M219.6 269.8h1.1M216.3 272.4h1.1M216.9 294.0h1.1M218.3 277.1h1.1M218.9 280.4h1.1M215.5 274.6h1.1M217.4 274.7h1.1M221.1 279.7h1.1M218.8 292.9h1.1M220.6 282.8h1.1M222.2 268.0h1.1M223.0 269.1h1.1M217.8 269.9h1.1M224.0 272.5h1.1M224.1 269.2h1.1M218.6 286.0h1.1M214.1 282.5h1.1M220.0 274.1h1.1M211.0 267.9h1.1M219.5 287.2h1.1M221.4 270.1h1.1M214.2 279.0h1.1M211.9 273.9h1.1M207.5 267.6h1.1M219.8 281.4h1.1M217.9 283.9h1.1M214.9 297.7h1.1M217.2 297.9h1.1M209.2 269.1h1.1M216.1 272.1h1.1M214.6 293.8h1.1M216.7 290.1h1.1M219.1 285.4h1.1M213.8 268.5h1.1M217.5 276.2h1.1M214.7 285.2h1.1M212.6 267.7h1.1M216.2 295.2h1.1M210.8 283.6h1.1M221.3 284.9h1.1M214.2 284.5h1.1M224.9 267.4h1.1M218.0 293.2h1.1M218.5 275.7h1.1M219.8 292.9h1.1M218.7 289.3h1.1M219.6 270.7h1.1M217.4 288.9h1.1M225.5 276.5h1.1M215.4 270.3h1.1M218.0 294.6h1.1M213.5 267.2h1.1M219.8 267.3h1.1M226.1 271.0h1.1M216.9 276.8h1.1M221.0 294.3h1.1M214.5 288.1h1.1M212.2 281.9h1.1M217.1 283.2h1.1M219.0 298.8h1.1M222.5 289.3h1.1M219.2 277.5h1.1M214.8 275.9h1.1M219.9 282.3h1.1M217.1 293.2h1.1M219.7 285.3h1.1M216.2 285.6h1.1M219.9 295.0h1.1M215.1 292.8h1.1M215.5 284.4h1.1M216.7 280.2h1.1M217.9 298.9h1.1M217.0 273.2h1.1M218.9 271.5h1.1M216.1 289.7h1.1M211.1 270.4h1.1M227.8 268.8h1.1M216.6 282.5h1.1M225.2 267.8h1.1M217.1 286.1h1.1M227.7 274.0h1.1M224.3 285.8h1.1M218.8 284.4h1.1M217.4 296.1h1.1M216.5 288.8h1.1M220.0 275.5h1.1M223.4 285.6h1.1M222.7 274.6h1.1M220.4 267.6h1.1M220.0 271.5h1.1M217.9 289.0h1.1M220.9 272.2h1.1M217.3 291.1h1.1M215.2 288.5h1.1M212.6 269.1h1.1M220.0 292.4h1.1M214.9 270.2h1.1M217.0 268.1h1.1M228.5 273.6h1.1M216.3 272.6h1.1M217.3 290.7h1.1M217.2 290.3h1.1M217.9 295.5h1.1M217.6 291.6h1.1M216.2 297.9h1.1M225.9 284.7h1.1M219.0 287.0h1.1M222.1 270.1h1.1M214.8 284.5h1.1M219.4 267.2h1.1M225.6 267.1h1.1M222.8 270.3h1.1M220.0 269.1h1.1M213.3 290.5h1.1M218.5 296.1h1.1M218.0 298.7h1.1M219.6 290.9h1.1M220.9 274.1h1.1M216.4 284.2h1.1M216.9 271.9h1.1M214.4 276.9h1.1M218.2 288.0h1.1M215.3 269.8h1.1M218.2 270.8h1.1M213.3 287.7h1.1M217.7 291.5h1.1M223.0 267.0h1.1M214.9 274.7h1.1M216.3 290.9h1.1M211.2 270.8h1.1M219.8 271.0h1.1M216.7 285.6h1.1M218.3 268.4h1.1M219.5 285.1h1.1M214.5 293.8h1.1M218.5 285.7h1.1M211.4 283.0h1.1M218.8 280.6h1.1M220.3 268.1h1.1M214.5 268.5h1.1M219.2 281.8h1.1M216.9 292.3h1.1M222.3 292.6h1.1M215.0 270.3h1.1M215.8 267.7h1.1M217.6 271.0h1.1M218.0 267.2h1.1M220.6 291.5h1.1M210.5 267.9h1.1M220.3 267.2h1.1M214.4 274.4h1.1M215.0 287.1h1.1M216.7 269.3h1.1M215.1 268.6h1.1M207.5 267.3h1.1M214.1 271.0h1.1M217.0 279.1h1.1M217.3 279.6h1.1M219.3 276.8h1.1M219.4 291.6h1.1M219.7 291.6h1.1M213.1 282.0h1.1M222.2 290.4h1.1M216.9 299.9h1.1M221.5 277.8h1.1M215.3 292.9h1.1M214.4 280.0h1.1M216.8 295.1h1.1M219.3 269.9h1.1M227.2 271.6h1.1M222.7 281.5h1.1M214.6 291.1h1.1M219.0 271.1h1.1M215.6 295.1h1.1M218.8 288.7h1.1M219.9 294.1h1.1M217.4 276.9h1.1M216.0 292.3h1.1M218.6 278.7h1.1M217.1 273.3h1.1M224.4 274.6h1.1M214.8 314.0h1.1M219.0 333.1h1.1M212.5 322.4h1.1M215.3 315.2h1.1M216.2 301.1h1.1M213.1 322.9h1.1M215.2 315.8h1.1M216.5 327.6h1.1M218.4 307.5h1.1M211.7 313.4h1.1M215.4 327.2h1.1M217.5 320.0h1.1M217.2 317.8h1.1M215.5 332.7h1.1M216.3 316.6h1.1M215.3 326.4h1.1M214.6 320.8h1.1M217.5 319.3h1.1M215.8 312.0h1.1M214.6 305.7h1.1M217.5 320.8h1.1M216.0 309.9h1.1M217.0 310.9h1.1M217.3 322.6h1.1M212.9 318.0h1.1M213.1 314.6h1.1M216.1 313.4h1.1M214.7 330.6h1.1M216.7 312.5h1.1M221.0 299.9h1.1M218.7 305.0h1.1M218.5 329.6h1.1M218.0 319.0h1.1M218.5 316.7h1.1M214.3 313.7h1.1M215.2 323.7h1.1M214.2 326.6h1.1M213.9 322.6h1.1M221.3 319.0h1.1M213.3 309.5h1.1M215.7 304.4h1.1M215.8 329.1h1.1M221.0 313.9h1.1M211.9 330.5h1.1M217.2 310.5h1.1M215.7 326.4h1.1M217.5 323.1h1.1M218.6 316.6h1.1M218.0 311.8h1.1M216.7 328.9h1.1M216.2 316.7h1.1M216.9 298.4h1.1M211.5 306.2h1.1M214.1 327.4h1.1M216.4 323.5h1.1M214.1 302.9h1.1M217.4 317.4h1.1M213.3 320.7h1.1M216.5 314.9h1.1M215.2 307.7h1.1M211.2 314.7h1.1M218.5 315.5h1.1M219.9 309.9h1.1M216.6 316.4h1.1M216.5 314.4h1.1M216.3 323.2h1.1M218.0 312.0h1.1M216.3 325.4h1.1M214.5 330.2h1.1M215.9 332.4h1.1M215.2 334.7h1.1M216.8 317.6h1.1M219.7 330.6h1.1M214.5 315.6h1.1M219.2 327.4h1.1M215.5 326.8h1.1M216.2 332.4h1.1M217.7 321.7h1.1M210.9 314.5h1.1M217.9 322.1h1.1M217.5 324.3h1.1M218.7 321.6h1.1M219.8 321.1h1.1M218.1 320.5h1.1M217.0 314.7h1.1M216.6 324.1h1.1M216.4 335.0h1.1M217.1 330.9h1.1M214.1 330.6h1.1M218.5 316.5h1.1M217.2 312.1h1.1M216.7 325.5h1.1M217.5 324.2h1.1M217.2 317.7h1.1M215.2 315.0h1.1M216.0 304.7h1.1M216.3 303.6h1.1M213.7 322.1h1.1M216.9 320.7h1.1M214.1 316.6h1.1M217.2 318.9h1.1M220.8 329.0h1.1M217.1 300.9h1.1M214.7 324.2h1.1M221.2 323.1h1.1M219.5 321.1h1.1M215.2 330.3h1.1M219.0 297.6h1.1M212.1 334.9h1.1M214.6 318.1h1.1M216.4 322.0h1.1M214.9 331.1h1.1M222.6 322.1h1.1M217.7 319.1h1.1M224.1 315.4h1.1M215.4 328.7h1.1M216.8 301.5h1.1M211.4 327.1h1.1M217.6 315.3h1.1M215.8 296.8h1.1M213.1 304.6h1.1M218.9 323.9h1.1M214.7 331.3h1.1M212.1 324.9h1.1M217.5 305.7h1.1M213.8 316.2h1.1M215.7 301.9h1.1M218.9 309.9h1.1M214.8 301.4h1.1M218.9 320.7h1.1M220.6 319.3h1.1M216.0 319.7h1.1M217.1 324.3h1.1M214.0 305.5h1.1M217.1 317.7h1.1M214.6 308.1h1.1M217.1 312.8h1.1M217.7 315.8h1.1M214.1 323.8h1.1M213.3 317.1h1.1M218.2 321.1h1.1M212.0 310.4h1.1M215.6 325.0h1.1M217.3 319.7h1.1M218.5 323.7h1.1M211.0 315.6h1.1M215.5 315.3h1.1M217.2 316.0h1.1M219.3 317.6h1.1M216.2 313.9h1.1M221.3 316.5h1.1M213.9 310.7h1.1M218.1 316.3h1.1M215.8 320.1h1.1M211.3 305.8h1.1M215.7 317.9h1.1M218.6 324.1h1.1M213.3 311.3h1.1M219.8 316.4h1.1M214.9 329.6h1.1M218.5 307.9h1.1M213.6 330.7h1.1M215.8 327.3h1.1M214.8 316.8h1.1M217.7 326.8h1.1M215.6 327.9h1.1M221.4 311.7h1.1M219.8 308.8h1.1M216.4 321.3h1.1M217.1 328.3h1.1M221.0 321.1h1.1M217.8 301.6h1.1M216.4 310.4h1.1M216.9 318.3h1.1M217.9 296.4h1.1M217.7 328.8h1.1M215.1 322.9h1.1M216.9 326.2h1.1M218.2 334.2h1.1M209.3 313.0h1.1M217.4 334.8h1.1M214.8 321.7h1.1M215.4 321.0h1.1M219.5 325.6h1.1M218.5 325.1h1.1M217.1 322.6h1.1M216.5 307.6h1.1M216.1 320.5h1.1M217.0 317.6h1.1M215.8 314.3h1.1M221.8 307.1h1.1M213.4 311.2h1.1M215.3 314.7h1.1M210.4 309.4h1.1M217.6 316.3h1.1M212.4 309.0h1.1M217.6 323.3h1.1M216.2 313.2h1.1M215.9 289.7h1.1M216.7 330.4h1.1M217.6 321.8h1.1M213.2 299.4h1.1M216.8 307.4h1.1M211.7 313.8h1.1M215.8 328.8h1.1M221.1 329.8h1.1M213.2 303.7h1.1M219.6 330.7h1.1M217.1 323.9h1.1M217.8 326.9h1.1M218.0 307.4h1.1M215.3 329.8h1.1M215.1 310.9h1.1M217.5 314.2h1.1M216.3 327.7h1.1M212.0 317.0h1.1M213.9 315.8h1.1M217.1 314.5h1.1M224.6 321.6h1.1M215.0 311.3h1.1M215.6 308.6h1.1M218.7 317.2h1.1M218.4 300.6h1.1M215.0 326.4h1.1M216.7 313.2h1.1M215.9 325.2h1.1M216.3 318.4h1.1M216.9 309.2h1.1M216.4 325.7h1.1M216.3 308.7h1.1M217.0 318.9h1.1M218.2 315.8h1.1M218.2 330.8h1.1M219.2 322.3h1.1M215.9 319.6h1.1M216.3 305.8h1.1M214.0 332.0h1.1M213.2 327.7h1.1M220.6 322.9h1.1M213.5 320.4h1.1M215.9 322.8h1.1M215.0 327.9h1.1M215.1 302.8h1.1M218.7 325.8h1.1M216.3 322.7h1.1M215.8 326.8h1.1M216.8 315.5h1.1M215.1 330.8h1.1M214.7 324.9h1.1M216.7 312.7h1.1M214.2 306.7h1.1M214.8 308.1h1.1M221.8 310.9h1.1M216.4 326.0h1.1M210.7 306.7h1.1M214.8 324.3h1.1M215.3 330.4h1.1M214.8 307.0h1.1M212.9 304.8h1.1M215.0 327.0h1.1M214.9 326.8h1.1M215.0 317.6h1.1M214.7 314.5h1.1M216.1 334.8h1.1M220.2 300.6h1.1M218.9 332.4h1.1M215.9 318.9h1.1M216.5 315.2h1.1M216.2 324.6h1.1M214.0 311.8h1.1M214.8 307.6h1.1M217.6 319.5h1.1M216.8 318.8h1.1M218.9 323.5h1.1M218.8 306.9h1.1M217.5 324.3h1.1M215.7 304.9h1.1M217.8 317.3h1.1M217.9 326.7h1.1M219.2 307.0h1.1M218.4 320.6h1.1M214.6 319.8h1.1M215.2 327.5h1.1M218.9 317.7h1.1M220.3 324.3h1.1M213.7 331.8h1.1M219.0 304.6h1.1M215.7 325.9h1.1M215.0 317.0h1.1M218.4 306.1h1.1M217.1 319.0h1.1M216.2 316.1h1.1M217.5 301.1h1.1M215.4 313.0h1.1M219.2 323.0h1.1M215.9 298.4h1.1M218.6 325.3h1.1M217.0 310.8h1.1M218.4 323.8h1.1M215.8 313.7h1.1M218.9 314.8h1.1M215.2 330.7h1.1M216.8 318.5h1.1M216.0 310.9h1.1M218.1 328.5h1.1M214.8 313.1h1.1M212.9 318.7h1.1M216.5 322.9h1.1M215.7 306.5h1.1M215.6 313.2h1.1M219.4 311.1h1.1M218.0 310.2h1.1M219.6 321.9h1.1M216.3 319.3h1.1M211.9 320.5h1.1M213.7 316.7h1.1M220.0 318.5h1.1M217.3 312.3h1.1M218.4 330.1h1.1M212.3 315.8h1.1M217.6 323.9h1.1M215.3 316.6h1.1M214.9 314.7h1.1M214.7 304.2h1.1M219.1 311.9h1.1M213.1 302.4h1.1M212.7 322.4h1.1M214.8 299.8h1.1M214.0 307.8h1.1M217.3 318.2h1.1M215.6 313.4h1.1M215.9 326.9h1.1M214.9 327.1h1.1M219.2 324.7h1.1M223.1 306.0h1.1M215.5 316.6h1.1M217.3 318.2h1.1M216.4 307.8h1.1M219.5 314.0h1.1M217.8 302.6h1.1M214.6 316.7h1.1M215.7 321.2h1.1M216.8 320.2h1.1M215.4 331.8h1.1M216.7 335.4h1.1M214.0 322.6h1.1M213.6 333.2h1.1M216.3 311.9h1.1M217.1 322.1h1.1M215.5 308.2h1.1M219.0 324.7h1.1M217.2 327.4h1.1M215.0 317.2h1.1M216.1 314.7h1.1M215.1 325.1h1.1M215.8 327.9h1.1M215.4 318.4h1.1M215.6 335.1h1.1M216.6 325.3h1.1M217.6 327.3h1.1M220.1 311.6h1.1M216.4 332.5h1.1M216.9 317.0h1.1M214.5 332.8h1.1M216.2 334.3h1.1M215.4 316.2h1.1M217.0 298.9h1.1M215.0 306.7h1.1M216.8 310.9h1.1M216.4 327.0h1.1M217.2 321.7h1.1M216.1 335.5h1.1M214.8 323.3h1.1M214.3 325.7h1.1M214.9 324.5h1.1M219.0 316.3h1.1M218.1 321.3h1.1M212.1 317.4h1.1M215.9 334.5h1.1M218.4 313.4h1.1M214.6 308.5h1.1M214.7 331.2h1.1M215.6 331.1h1.1M216.4 317.7h1.1M218.7 314.8h1.1M216.4 330.7h1.1M217.5 325.9h1.1M218.4 330.0h1.1M216.3 316.7h1.1M219.1 316.4h1.1M217.7 308.4h1.1M217.6 332.6h1.1M215.2 315.0h1.1M214.0 298.7h1.1M214.1 330.7h1.1M215.7 303.5h1.1M217.3 305.0h1.1M218.4 311.1h1.1M213.1 318.7h1.1M214.8 312.1h1.1M219.1 311.4h1.1M217.1 309.8h1.1M217.6 314.0h1.1M212.7 305.6h1.1M219.5 324.9h1.1M215.6 306.0h1.1M214.2 314.8h1.1M216.4 329.5h1.1M215.8 306.0h1.1M214.7 333.1h1.1M214.4 314.7h1.1M215.0 321.4h1.1M214.4 328.7h1.1M217.3 305.3h1.1M214.1 288.2h1.1M216.8 322.6h1.1M215.3 314.1h1.1M224.7 325.0h1.1M215.9 311.8h1.1M217.5 315.3h1.1M217.5 319.9h1.1M217.1 316.9h1.1M214.0 292.5h1.1M217.2 310.0h1.1M216.4 333.1h1.1M221.2 321.5h1.1M221.2 323.4h1.1M220.0 310.9h1.1M210.8 314.8h1.1M215.2 311.6h1.1M218.0 319.4h1.1M217.5 326.7h1.1M220.3 312.4h1.1M216.4 331.8h1.1M216.2 314.1h1.1M214.7 317.6h1.1M214.8 319.7h1.1M214.8 326.3h1.1M217.0 324.7h1.1M217.5 321.5h1.1M222.1 309.6h1.1M218.0 312.9h1.1M215.3 320.1h1.1M217.6 317.1h1.1M219.9 326.7h1.1M215.9 330.0h1.1M213.7 317.3h1.1M218.2 322.5h1.1M217.8 316.0h1.1M215.2 321.2h1.1M218.8 307.7h1.1M213.9 309.1h1.1M217.8 322.4h1.1M210.8 335.0h1.1M217.2 321.2h1.1M215.6 316.3h1.1M212.4 330.4h1.1M217.6 318.7h1.1M215.9 303.4h1.1M217.1 335.2h1.1M217.9 327.0h1.1M217.1 322.1h1.1M215.8 311.8h1.1M213.4 318.2h1.1M214.5 314.6h1.1M216.8 307.6h1.1M217.5 310.5h1.1M211.5 318.2h1.1M217.1 318.7h1.1M219.0 322.0h1.1M212.4 321.5h1.1M214.1 335.0h1.1M217.0 319.0h1.1M216.5 311.1h1.1M212.4 334.9h1.1M215.3 303.3h1.1M213.4 318.2h1.1M218.4 296.9h1.1M213.3 323.8h1.1M216.1 325.7h1.1M213.2 321.5h1.1M217.4 317.7h1.1M213.9 302.4h1.1M220.8 329.6h1.1M216.1 326.5h1.1M215.4 309.1h1.1M217.3 317.4h1.1M221.9 317.4h1.1M211.3 333.2h1.1M216.3 308.2h1.1M217.2 329.8h1.1M212.5 292.4h1.1M217.6 333.4h1.1M219.8 324.6h1.1M215.0 315.5h1.1M216.8 309.8h1.1M218.4 324.3h1.1M217.7 334.5h1.1M215.7 332.3h1.1M218.0 310.3h1.1M219.3 330.1h1.1M215.2 318.3h1.1M217.1 316.3h1.1M215.9 319.5h1.1M215.6 322.5h1.1M214.9 323.3h1.1M215.6 304.5h1.1M219.4 329.1h1.1M216.9 314.5h1.1M217.6 297.1h1.1M216.7 335.4h1.1M214.9 300.0h1.1M216.5 312.5h1.1M215.3 322.8h1.1M214.4 316.9h1.1M216.7 325.7h1.1M215.1 323.4h1.1M215.6 324.9h1.1M215.9 323.0h1.1M213.8 313.3h1.1M213.1 301.3h1.1M223.8 324.6h1.1M214.4 303.5h1.1M224.5 319.9h1.1M213.6 317.9h1.1M221.1 324.2h1.1M213.6 292.0h1.1M213.6 332.4h1.1M214.8 318.9h1.1M212.9 327.6h1.1M216.8 323.1h1.1M217.3 325.6h1.1M212.2 321.5h1.1M214.1 316.7h1.1M215.7 325.3h1.1M218.8 321.5h1.1M220.2 318.9h1.1M212.8 328.4h1.1M219.1 314.1h1.1M219.0 315.0h1.1M216.0 314.4h1.1M212.6 330.3h1.1M215.2 320.8h1.1M220.2 321.7h1.1M213.1 324.9h1.1M215.2 329.6h1.1M218.9 321.6h1.1M218.5 316.9h1.1M214.2 321.8h1.1M213.1 316.9h1.1M216.6 331.8h1.1M213.7 329.7h1.1M213.5 328.5h1.1M216.2 322.8h1.1M217.0 314.1h1.1M214.2 320.3h1.1M213.2 312.6h1.1M216.6 333.7h1.1M217.9 316.4h1.1M213.6 311.4h1.1M230.2 321.9h1.1M220.5 321.3h1.1M210.4 317.2h1.1M217.8 304.6h1.1M221.3 311.2h1.1M217.7 306.8h1.1M204.7 327.0h1.1M217.5 314.7h1.1M218.7 312.4h1.1M216.5 298.2h1.1M212.5 312.3h1.1M233.0 331.9h1.1M213.6 326.8h1.1M222.8 333.6h1.1M223.6 309.0h1.1M223.3 311.6h1.1M227.3 328.1h1.1M218.6 306.4h1.1M211.2 318.0h1.1M224.2 322.6h1.1M215.7 302.8h1.1M210.8 305.8h1.1M228.8 306.3h1.1M216.8 310.7h1.1M226.4 328.9h1.1M205.4 333.5h1.1M207.5 326.3h1.1M216.6 311.0h1.1M232.8 311.7h1.1M227.4 316.2h1.1M219.0 316.0h1.1M222.5 323.6h1.1M207.7 323.5h1.1M221.6 323.6h1.1M219.1 324.6h1.1M210.6 322.5h1.1M211.2 330.5h1.1M226.3 333.4h1.1M217.5 317.3h1.1M217.4 326.6h1.1M221.3 304.9h1.1M216.4 304.6h1.1M219.0 313.0h1.1M219.4 310.9h1.1M224.1 302.1h1.1M215.3 318.2h1.1M216.2 313.1h1.1M216.1 311.6h1.1M224.1 332.4h1.1M221.9 322.6h1.1M203.0 305.5h1.1M224.3 334.6h1.1M221.4 320.4h1.1M219.6 320.2h1.1M204.3 315.1h1.1M219.8 324.3h1.1M221.5 328.8h1.1M223.6 314.9h1.1M216.4 320.1h1.1M216.6 313.9h1.1M216.4 314.7h1.1M227.1 316.8h1.1M197.4 296.3h1.1M218.4 312.8h1.1M210.2 309.8h1.1M216.0 308.6h1.1M217.2 319.7h1.1M216.9 304.8h1.1M213.5 334.6h1.1M226.3 318.7h1.1M215.6 309.1h1.1M220.5 312.2h1.1M220.5 319.1h1.1M217.4 323.1h1.1M212.9 293.6h1.1M210.1 319.7h1.1M229.7 314.4h1.1M215.0 320.6h1.1M226.6 319.5h1.1M210.9 299.2h1.1M216.5 310.7h1.1M215.5 317.0h1.1M220.1 319.2h1.1M215.2 305.2h1.1M221.4 304.4h1.1M223.9 320.9h1.1M215.8 308.4h1.1M219.5 293.6h1.1M221.8 300.2h1.1M222.5 329.9h1.1M221.0 324.9h1.1M225.8 322.1h1.1M233.2 331.9h1.1M225.1 315.1h1.1M222.4 327.5h1.1M210.9 320.9h1.1M213.4 330.0h1.1M213.6 310.8h1.1M212.9 324.1h1.1M223.3 323.0h1.1M217.1 319.1h1.1M228.4 324.5h1.1M212.3 312.9h1.1M213.5 311.4h1.1M218.4 315.4h1.1M229.4 292.7h1.1M216.5 309.1h1.1M206.1 296.5h1.1M221.0 306.9h1.1M207.2 327.3h1.1M187.5 294.2h1.1M186.9 293.7h1.1M185.2 294.3h1.1M185.5 295.0h1.1M185.7 294.4h1.1M186.2 293.8h1.1M184.4 295.3h1.1M186.1 292.9h1.1M185.9 295.0h1.1M186.6 293.8h1.1M185.2 295.6h1.1M185.8 292.4h1.1M184.8 294.8h1.1M187.0 295.1h1.1M187.9 299.1h1.1M199.5 290.8h1.1M199.8 297.0h1.1M171.5 290.6h1.1M202.2 300.5h1.1M194.4 294.9h1.1M200.2 297.8h1.1M190.5 295.2h1.1M202.4 292.1h1.1M168.0 296.4h1.1M221.1 307.5h1.1M195.8 321.6h1.1M195.2 321.3h1.1M179.8 309.1h1.1M205.6 330.7h1.1M207.0 323.4h1.1M232.0 309.6h1.1M197.3 329.1h1.1M204.3 301.0h1.1M191.4 328.8h1.1M163.4 314.4h1.1M234.3 316.4h1.1M194.4 321.3h1.1M222.2 316.5h1.1M226.6 325.0h1.1M181.5 321.9h1.1M172.3 302.8h1.1M189.1 302.6h1.1M172.2 329.7h1.1M233.2 307.7h1.1M160.1 313.0h1.1M186.0 305.8h1.1M218.3 306.3h1.1M194.0 310.3h1.1M203.8 305.0h1.1M189.9 329.8h1.1M146.6 307.6h1.1M151.6 329.4h1.1M206.0 309.2h1.1M226.8 306.9h1.1M189.4 313.1h1.1M199.6 259.3h1.1M230.9 326.8h1.1M202.7 270.1h1.1M226.0 328.4h1.1M216.1 316.9h1.1M215.7 321.4h1.1M179.5 312.5h1.1" stroke="#000" stroke-width="1.1" fill="none"/>
<rect x="144.80" y="253.40" width="92.60" height="83.40" fill="none" stroke="#000" stroke-width="1.25"/>
<line x1="203.8" y1="253.4" x2="203.8" y2="336.8" stroke="#000" stroke-width="1.1"/>
<line x1="144.8" y1="299.5" x2="237.4" y2="299.5" stroke="#000" stroke-width="1.1"/>
<text x="148.2" y="265.5" font-size="10.2">0.3</text>
<text x="169.5" y="265.5" font-size="10.2">39.2</text>
<text x="146.6" y="279.3" font-size="10.2">43.2</text>
<text x="170.2" y="279.3" font-size="10.2">17.3.</text>
<line x1="146.8" y1="268.4" x2="190.6" y2="268.4" stroke="#000" stroke-width="1.0"/>
<line x1="168.7" y1="254.6" x2="168.7" y2="281.8" stroke="#000" stroke-width="1.0"/>
<path d="M67.9 428.9h1.1M65.6 428.9h1.1M57.2 418.0h1.1M66.3 419.8h1.1M72.7 421.4h1.1M50.7 416.0h1.1M57.7 412.3h1.1M63.7 417.9h1.1M77.0 420.2h1.1M59.0 420.7h1.1M60.5 418.4h1.1M71.2 418.8h1.1M72.1 412.6h1.1M78.1 429.4h1.1M60.0 419.7h1.1M64.6 425.8h1.1M68.8 428.9h1.1M56.7 424.8h1.1M71.0 410.9h1.1M60.8 417.9h1.1M77.4 424.0h1.1M66.0 418.5h1.1M73.8 424.4h1.1M71.9 427.7h1.1M70.8 415.9h1.1M54.5 420.5h1.1M71.1 429.1h1.1M66.5 428.2h1.1M72.3 421.0h1.1M71.9 418.1h1.1M71.9 423.4h1.1M66.9 407.7h1.1M64.8 420.8h1.1M56.2 421.5h1.1M67.8 420.4h1.1M63.8 422.9h1.1M73.4 420.4h1.1M49.4 425.4h1.1M59.5 428.4h1.1M67.4 418.2h1.1M71.1 420.9h1.1M69.7 423.3h1.1M69.2 419.6h1.1M81.3 416.6h1.1M76.0 420.9h1.1M65.9 421.2h1.1M57.5 419.2h1.1M70.0 428.4h1.1M78.5 428.7h1.1M63.0 417.3h1.1M69.2 428.5h1.1M68.8 421.3h1.1M64.0 415.1h1.1M79.6 412.6h1.1M65.4 417.3h1.1M55.4 417.0h1.1M59.2 404.7h1.1M68.6 410.5h1.1M69.2 426.1h1.1M74.6 418.2h1.1M66.7 417.1h1.1M64.6 419.7h1.1M77.0 420.4h1.1M68.0 426.7h1.1M55.5 424.6h1.1M70.2 417.5h1.1M51.6 420.5h1.1M70.8 426.9h1.1M63.5 410.2h1.1M80.5 424.3h1.1M58.3 410.8h1.1M63.3 428.6h1.1M72.8 418.9h1.1M76.8 411.5h1.1M63.5 415.8h1.1M61.7 427.4h1.1M65.5 428.5h1.1M86.4 408.3h1.1M68.4 410.1h1.1M72.2 413.5h1.1M73.5 423.5h1.1M73.4 410.6h1.1M71.2 423.0h1.1M60.2 415.6h1.1M65.9 421.5h1.1M72.0 408.1h1.1M59.9 420.7h1.1M66.2 413.5h1.1M67.0 423.4h1.1M82.2 422.4h1.1M72.8 422.5h1.1M62.8 410.4h1.1M61.7 416.9h1.1M68.0 419.9h1.1M59.8 422.4h1.1M72.0 419.3h1.1M67.1 416.5h1.1M70.1 419.0h1.1M75.6 423.6h1.1M70.1 418.9h1.1M65.0 422.2h1.1M70.2 415.5h1.1M69.2 426.0h1.1M71.2 410.5h1.1M74.4 420.1h1.1M60.6 428.6h1.1M68.7 415.9h1.1M49.8 424.1h1.1M81.7 421.4h1.1M73.1 414.9h1.1M67.9 425.7h1.1M72.1 420.8h1.1M50.4 428.4h1.1M79.4 415.2h1.1M76.5 417.6h1.1M82.6 425.7h1.1M66.0 411.2h1.1M58.0 422.8h1.1M67.7 409.5h1.1M68.6 411.4h1.1M71.1 419.3h1.1M86.9 423.6h1.1M66.2 419.4h1.1M76.2 424.0h1.1M65.3 399.5h1.1M65.3 422.7h1.1M46.6 427.4h1.1M48.1 420.1h1.1M74.2 413.3h1.1M54.5 415.5h1.1M53.2 417.8h1.1M78.5 414.0h1.1M55.9 405.9h1.1M76.4 416.1h1.1M57.1 428.1h1.1M62.9 419.2h1.1M72.5 423.9h1.1M65.4 419.5h1.1M63.7 418.6h1.1M72.7 422.5h1.1M63.3 409.9h1.1M65.2 425.3h1.1M74.6 428.7h1.1M61.1 429.2h1.1M71.0 417.3h1.1M68.9 415.0h1.1M54.6 429.2h1.1M66.9 428.9h1.1M53.9 428.5h1.1M75.1 414.1h1.1M60.1 421.2h1.1M67.5 417.5h1.1M78.2 427.4h1.1M78.0 416.6h1.1M72.1 410.5h1.1M70.1 419.8h1.1M61.9 417.8h1.1M75.1 422.7h1.1M67.3 405.8h1.1M59.3 418.1h1.1M70.7 411.7h1.1M71.6 424.5h1.1M56.0 407.3h1.1M63.9 416.6h1.1M64.2 429.1h1.1M68.4 419.3h1.1M61.6 420.9h1.1M56.2 425.6h1.1M57.3 422.0h1.1M69.0 420.6h1.1M66.3 419.6h1.1M65.4 408.5h1.1M73.2 425.3h1.1M65.8 416.6h1.1M76.9 423.4h1.1M70.8 422.4h1.1M84.5 423.5h1.1M64.7 423.2h1.1M63.5 414.0h1.1M68.1 425.7h1.1M65.7 419.7h1.1M65.3 426.0h1.1M82.1 410.7h1.1M70.0 422.9h1.1M68.1 414.5h1.1M76.1 416.6h1.1M64.5 427.4h1.1M68.9 427.0h1.1M60.5 425.0h1.1M69.1 425.4h1.1M73.9 421.4h1.1M77.3 416.2h1.1M64.7 420.1h1.1M78.1 428.4h1.1M57.5 429.3h1.1M77.4 425.2h1.1M72.1 429.1h1.1M54.6 427.7h1.1M69.4 409.5h1.1M61.5 428.6h1.1M62.2 415.6h1.1M63.1 418.9h1.1M67.8 417.6h1.1M73.1 429.2h1.1M69.3 416.2h1.1M65.0 426.0h1.1M64.8 412.6h1.1M89.1 429.4h1.1M50.9 421.3h1.1M82.9 415.8h1.1M57.2 429.2h1.1M69.6 422.1h1.1M73.3 429.3h1.1M68.5 414.1h1.1M64.6 420.2h1.1M48.1 417.3h1.1M74.3 418.4h1.1M60.5 420.2h1.1M46.0 429.1h1.1M67.7 416.6h1.1M64.3 414.0h1.1M64.8 428.2h1.1M53.8 425.3h1.1M74.5 412.8h1.1M71.5 425.4h1.1M56.9 429.2h1.1M67.2 413.4h1.1M60.0 413.7h1.1M82.6 419.5h1.1M71.0 409.0h1.1M46.0 417.1h1.1M66.0 411.2h1.1M61.5 421.2h1.1M70.8 428.6h1.1M53.3 420.5h1.1M81.8 424.9h1.1M52.9 409.8h1.1M61.7 407.3h1.1M68.5 424.4h1.1M63.3 410.7h1.1M68.9 418.5h1.1M65.0 422.5h1.1M63.4 424.4h1.1M57.1 417.9h1.1M73.7 421.0h1.1M76.3 421.0h1.1M76.3 419.0h1.1M70.7 419.8h1.1M61.4 418.7h1.1M64.5 427.3h1.1M79.0 419.6h1.1M62.7 426.0h1.1M60.2 419.8h1.1M66.7 426.4h1.1M67.1 421.1h1.1M64.1 411.1h1.1M74.6 418.9h1.1M70.9 414.9h1.1M75.8 423.8h1.1M65.4 419.7h1.1M62.9 424.5h1.1M67.8 415.7h1.1M60.1 417.2h1.1M63.1 414.2h1.1M66.8 417.5h1.1M66.0 427.8h1.1M79.8 413.9h1.1M79.9 417.1h1.1M68.7 417.4h1.1M64.2 415.4h1.1M88.9 426.9h1.1M63.6 427.8h1.1M56.4 424.2h1.1M70.7 419.3h1.1M64.5 416.5h1.1M56.7 420.8h1.1M79.9 422.8h1.1M65.2 428.3h1.1M65.4 428.0h1.1M67.9 428.3h1.1M80.5 411.1h1.1M64.2 402.9h1.1M73.3 424.1h1.1M67.2 422.8h1.1M65.0 420.1h1.1M74.9 421.8h1.1M64.3 425.0h1.1M67.3 428.6h1.1M80.3 428.4h1.1M61.4 428.7h1.1M63.2 419.4h1.1M61.4 416.4h1.1M72.6 417.4h1.1M73.7 428.5h1.1M67.5 428.9h1.1M68.3 429.2h1.1M83.7 429.4h1.1M75.4 416.9h1.1M83.4 419.3h1.1M67.3 426.4h1.1M79.4 422.3h1.1M77.9 410.9h1.1M70.4 418.8h1.1M67.8 417.6h1.1M74.5 425.4h1.1M64.6 416.2h1.1M75.3 424.1h1.1M69.9 412.9h1.1M63.3 418.7h1.1M67.2 423.1h1.1M55.6 423.5h1.1M72.5 424.1h1.1M83.0 414.9h1.1M73.2 411.1h1.1M68.1 422.2h1.1M77.7 422.1h1.1M72.0 407.1h1.1M56.9 425.0h1.1M66.6 428.3h1.1M71.0 426.5h1.1M75.2 426.4h1.1M66.8 417.4h1.1M71.0 427.4h1.1M61.5 415.4h1.1M68.9 410.7h1.1M55.7 417.0h1.1M69.3 416.8h1.1M65.4 421.9h1.1M71.7 421.7h1.1M61.0 412.4h1.1M72.3 427.3h1.1M61.7 411.0h1.1M72.4 429.1h1.1M69.5 417.8h1.1M58.1 425.8h1.1M58.5 423.7h1.1M71.9 426.0h1.1M68.6 423.3h1.1M66.9 420.5h1.1M68.4 418.9h1.1M43.8 422.4h1.1M68.4 427.0h1.1M66.1 425.8h1.1M87.8 412.9h1.1M63.4 426.6h1.1M55.1 414.5h1.1M67.4 420.2h1.1M75.3 412.9h1.1M65.1 427.9h1.1M70.9 414.7h1.1M65.9 419.3h1.1M57.1 429.4h1.1M67.2 426.6h1.1M77.3 427.8h1.1M60.0 426.5h1.1M65.1 425.2h1.1M74.0 422.8h1.1M68.5 416.1h1.1M60.9 429.1h1.1M73.1 421.3h1.1M73.7 412.4h1.1M48.6 423.3h1.1M69.4 424.5h1.1M79.8 407.9h1.1M70.2 409.7h1.1M59.5 424.2h1.1M76.1 411.8h1.1M48.5 406.5h1.1M85.6 418.3h1.1M68.2 406.4h1.1M59.4 414.8h1.1M64.5 422.3h1.1M75.6 419.0h1.1M62.5 422.4h1.1M63.7 421.1h1.1M73.8 415.9h1.1M57.9 418.6h1.1M57.5 426.8h1.1M73.1 414.2h1.1M76.9 409.6h1.1M71.5 419.0h1.1M72.7 420.7h1.1M56.2 424.4h1.1M74.9 420.7h1.1M55.1 429.1h1.1M66.0 422.8h1.1M66.9 426.7h1.1M66.4 422.2h1.1M51.0 414.5h1.1M58.0 424.4h1.1M71.6 423.4h1.1M61.6 429.1h1.1M75.7 415.1h1.1M71.9 418.9h1.1M64.2 422.8h1.1M61.2 415.7h1.1M69.8 406.6h1.1M53.8 420.2h1.1M68.4 428.4h1.1M67.0 425.5h1.1M51.7 418.8h1.1M63.1 406.3h1.1M70.0 425.1h1.1M54.7 425.8h1.1M76.7 422.0h1.1M71.7 409.9h1.1M70.9 415.6h1.1M55.3 421.3h1.1M76.1 413.3h1.1M75.9 419.9h1.1M73.4 423.0h1.1M68.6 417.9h1.1M73.5 418.0h1.1M74.9 416.6h1.1M58.2 429.0h1.1M69.4 422.5h1.1M58.5 429.4h1.1M50.4 419.4h1.1M69.7 417.0h1.1M71.1 426.4h1.1M63.8 420.8h1.1M68.1 417.8h1.1M76.4 422.5h1.1M52.3 410.7h1.1M71.9 418.3h1.1M68.8 424.7h1.1M67.0 420.8h1.1M73.2 427.0h1.1M71.4 405.8h1.1M67.2 417.5h1.1M76.3 427.1h1.1M65.4 429.1h1.1M73.7 416.3h1.1M69.5 415.3h1.1M68.4 421.4h1.1M52.8 428.2h1.1M74.9 412.7h1.1M70.5 421.4h1.1M67.1 426.8h1.1M58.1 423.0h1.1M75.6 421.3h1.1M65.7 416.0h1.1M72.6 405.3h1.1M74.4 400.3h1.1M63.0 419.9h1.1M61.2 428.9h1.1M77.3 424.3h1.1M74.8 423.4h1.1M73.3 424.7h1.1M64.9 428.8h1.1M59.4 413.0h1.1M63.2 415.9h1.1M77.0 422.7h1.1M60.3 428.8h1.1M76.7 417.9h1.1M69.5 428.4h1.1M47.5 424.3h1.1M69.7 424.4h1.1M68.3 411.0h1.1M66.1 423.8h1.1M73.3 426.1h1.1M65.2 421.0h1.1M75.1 412.4h1.1M69.2 416.6h1.1M72.5 428.8h1.1M64.2 410.2h1.1M59.3 421.1h1.1M79.7 410.1h1.1M73.0 428.8h1.1M65.8 415.3h1.1M64.7 426.1h1.1M69.4 419.4h1.1M57.9 429.3h1.1M72.0 424.0h1.1M68.5 428.6h1.1M57.1 427.0h1.1M66.6 401.0h1.1M73.2 418.4h1.1M77.2 419.6h1.1M67.8 417.0h1.1M67.9 402.3h1.1M59.5 427.5h1.1M60.3 425.7h1.1M67.2 409.7h1.1M76.7 423.3h1.1M66.9 414.6h1.1M67.0 416.1h1.1M64.0 418.3h1.1M67.8 418.3h1.1M66.1 417.4h1.1M65.7 421.1h1.1M60.9 422.6h1.1M65.0 426.5h1.1M75.9 426.9h1.1M80.9 421.0h1.1M67.8 415.0h1.1M64.0 416.3h1.1M70.1 420.2h1.1M72.3 420.9h1.1M73.6 424.4h1.1M70.1 411.6h1.1M63.3 410.4h1.1M61.3 414.5h1.1M63.6 422.9h1.1M68.1 420.3h1.1M58.6 428.9h1.1M58.8 425.4h1.1M60.1 429.0h1.1M74.7 419.2h1.1M64.6 428.1h1.1M68.2 419.5h1.1M78.4 408.6h1.1M73.5 409.6h1.1M56.2 428.5h1.1M67.1 414.6h1.1M61.9 428.5h1.1M70.7 428.6h1.1M72.0 424.6h1.1M68.6 415.4h1.1M69.7 423.6h1.1M67.3 419.4h1.1M59.3 422.4h1.1M72.6 419.5h1.1M76.3 416.7h1.1M59.1 418.9h1.1M57.3 418.5h1.1M55.6 424.7h1.1M65.3 420.6h1.1M70.0 418.4h1.1M63.0 422.5h1.1M63.7 426.2h1.1M76.6 426.7h1.1M73.6 423.1h1.1M71.0 411.3h1.1M65.7 410.2h1.1M47.8 425.3h1.1M61.4 415.1h1.1M67.1 414.0h1.1M58.7 424.9h1.1M53.7 416.2h1.1M52.0 415.7h1.1M70.3 410.1h1.1M61.1 426.6h1.1M61.4 422.9h1.1M79.5 427.9h1.1M60.8 403.5h1.1M63.5 416.1h1.1M78.2 429.1h1.1M75.0 424.9h1.1M57.2 418.7h1.1M70.9 428.6h1.1M82.3 413.3h1.1M67.4 408.5h1.1M70.5 425.5h1.1M55.4 420.9h1.1M55.8 417.3h1.1M69.5 429.4h1.1M73.4 420.8h1.1M67.0 417.4h1.1M68.8 417.0h1.1M73.0 417.2h1.1M75.9 429.4h1.1M82.3 425.0h1.1M77.2 406.5h1.1M75.5 417.5h1.1M65.6 413.5h1.1M66.4 427.6h1.1M58.3 422.9h1.1M78.9 412.6h1.1M66.3 421.6h1.1M59.5 411.0h1.1M66.6 413.4h1.1M62.6 419.7h1.1M67.7 415.9h1.1M56.9 428.6h1.1M75.0 410.7h1.1M64.0 410.7h1.1M80.0 421.3h1.1M46.2 406.4h1.1M74.6 420.0h1.1M61.2 421.5h1.1M52.2 421.8h1.1M77.5 426.2h1.1M72.8 419.1h1.1M77.5 413.2h1.1M61.2 416.0h1.1M54.3 415.2h1.1M81.3 425.1h1.1M65.5 410.6h1.1M62.9 423.6h1.1M69.3 409.7h1.1M67.7 427.4h1.1M64.8 413.1h1.1M66.5 407.2h1.1M74.9 428.9h1.1M70.1 419.9h1.1M67.9 416.9h1.1M68.1 416.4h1.1M68.4 416.9h1.1M66.8 425.3h1.1M70.5 411.6h1.1M63.4 418.8h1.1M61.0 424.4h1.1M71.0 426.9h1.1M62.0 415.7h1.1M60.4 419.7h1.1M50.8 427.0h1.1M64.5 421.5h1.1M71.5 412.9h1.1M70.2 417.2h1.1M64.9 417.5h1.1M73.8 424.1h1.1M66.8 427.4h1.1M64.5 428.6h1.1M61.8 428.4h1.1M58.4 420.0h1.1M52.1 424.5h1.1M67.1 429.4h1.1M64.7 418.8h1.1M58.9 420.8h1.1M78.0 429.3h1.1M83.3 420.7h1.1M73.4 413.8h1.1M71.3 409.3h1.1M74.2 415.4h1.1M73.8 421.3h1.1M70.7 424.7h1.1M78.4 418.6h1.1M70.4 423.0h1.1M65.1 429.3h1.1M57.3 428.3h1.1M54.6 406.7h1.1M66.1 416.8h1.1M67.2 423.5h1.1M69.1 411.8h1.1M64.4 421.8h1.1M68.4 423.3h1.1M80.4 409.8h1.1M64.7 420.9h1.1M64.3 416.8h1.1M73.6 421.5h1.1M73.3 420.6h1.1M73.8 421.5h1.1M61.7 412.9h1.1M60.8 419.8h1.1M68.6 429.0h1.1M74.5 422.3h1.1M63.5 428.5h1.1M69.5 428.9h1.1M52.5 416.2h1.1M64.5 420.6h1.1M66.8 421.8h1.1M58.4 421.5h1.1M58.9 428.5h1.1M72.4 429.3h1.1M72.3 425.9h1.1M71.6 424.6h1.1M70.0 428.7h1.1M70.1 424.9h1.1M60.7 421.5h1.1M59.7 408.2h1.1M56.3 412.0h1.1M64.6 425.3h1.1M89.4 429.3h1.1M63.6 425.9h1.1M65.5 423.2h1.1M82.0 422.5h1.1M76.2 429.1h1.1M63.0 421.0h1.1M66.9 411.3h1.1M61.5 407.5h1.1M69.6 428.4h1.1M66.2 415.4h1.1M59.2 422.7h1.1M80.0 419.6h1.1M52.8 421.6h1.1M67.0 419.3h1.1M68.4 429.3h1.1M69.4 429.2h1.1M65.4 420.7h1.1M61.9 418.7h1.1M66.9 428.4h1.1M65.4 407.0h1.1M86.8 416.6h1.1M69.0 420.0h1.1M74.1 419.3h1.1M65.3 418.4h1.1M59.5 428.5h1.1M66.8 422.8h1.1M53.2 415.1h1.1M74.0 423.6h1.1M83.4 425.5h1.1M69.5 407.5h1.1M77.3 420.4h1.1M60.0 420.3h1.1M70.1 420.2h1.1M61.3 415.5h1.1M73.3 422.4h1.1M70.5 419.0h1.1M64.5 417.1h1.1M74.0 421.9h1.1M66.1 429.1h1.1M52.1 429.0h1.1M56.7 423.4h1.1M61.5 406.2h1.1M57.3 415.7h1.1M63.7 427.6h1.1M67.5 421.2h1.1M58.5 419.2h1.1M52.7 429.1h1.1M76.4 423.4h1.1M67.4 423.7h1.1M69.8 425.8h1.1M68.8 416.2h1.1M55.1 416.0h1.1M58.6 424.9h1.1M53.4 420.8h1.1M60.4 419.7h1.1M60.5 408.9h1.1M74.1 420.6h1.1M67.7 429.3h1.1M68.6 416.3h1.1M77.5 429.0h1.1M63.7 428.7h1.1M68.0 410.4h1.1M62.4 422.2h1.1M65.4 415.1h1.1M71.9 422.4h1.1M49.8 424.4h1.1M68.9 416.5h1.1M72.8 423.2h1.1M78.3 410.4h1.1M65.5 412.5h1.1M63.6 417.4h1.1M72.9 415.3h1.1M69.5 426.0h1.1M62.4 411.9h1.1M69.9 420.2h1.1M65.1 416.8h1.1M67.4 428.5h1.1M64.4 426.2h1.1M52.2 422.2h1.1M65.5 419.2h1.1M74.2 419.5h1.1M70.7 412.1h1.1M71.9 422.4h1.1M68.0 427.5h1.1M70.7 424.3h1.1M68.7 429.1h1.1M66.5 411.3h1.1M69.4 429.0h1.1M61.6 422.2h1.1M58.0 412.9h1.1M64.3 414.4h1.1M66.1 410.1h1.1M71.7 409.9h1.1M54.3 420.4h1.1M68.7 416.9h1.1M72.6 423.2h1.1M65.9 418.2h1.1M70.9 419.0h1.1M65.8 415.9h1.1M64.5 421.6h1.1M76.8 413.3h1.1M60.4 424.0h1.1M61.5 428.7h1.1M71.3 418.3h1.1M64.5 419.6h1.1M62.5 417.5h1.1M76.7 424.2h1.1M68.6 418.7h1.1M77.7 427.9h1.1M75.5 411.2h1.1M66.6 420.1h1.1M75.6 415.3h1.1M71.0 420.6h1.1M66.9 426.7h1.1M60.1 416.4h1.1M66.6 425.5h1.1M69.1 428.6h1.1M63.8 422.2h1.1M74.7 424.0h1.1M70.9 419.8h1.1M68.7 421.8h1.1M68.7 417.1h1.1M67.6 423.6h1.1M56.5 417.6h1.1M78.3 413.4h1.1M69.1 427.5h1.1M65.9 422.6h1.1M73.9 425.2h1.1M69.2 418.9h1.1M55.6 427.1h1.1M62.9 414.3h1.1M63.8 412.8h1.1M64.1 414.9h1.1M58.5 423.9h1.1M77.0 421.3h1.1M58.2 421.9h1.1M75.5 416.5h1.1M62.5 418.9h1.1M61.8 425.9h1.1M71.4 413.1h1.1M62.3 420.8h1.1M75.0 423.8h1.1M67.8 427.9h1.1M70.6 423.7h1.1M79.0 410.6h1.1M63.0 416.2h1.1M60.0 415.1h1.1M67.1 428.0h1.1M53.8 416.7h1.1M66.6 421.8h1.1M66.3 413.7h1.1M71.7 408.3h1.1M70.6 412.4h1.1M51.7 421.3h1.1M62.3 413.1h1.1M71.3 426.0h1.1M79.1 424.9h1.1M63.3 418.7h1.1M59.6 408.0h1.1M60.9 424.4h1.1M73.9 414.7h1.1M77.1 404.0h1.1M54.0 429.3h1.1M66.9 423.8h1.1M64.6 426.8h1.1M77.2 419.8h1.1M70.0 416.6h1.1M66.2 424.9h1.1M70.8 426.5h1.1M54.7 426.2h1.1M69.1 413.7h1.1M77.4 428.5h1.1M61.6 420.7h1.1M52.9 413.3h1.1M71.2 417.3h1.1M56.3 420.2h1.1M67.4 420.0h1.1M77.6 415.6h1.1M75.0 423.6h1.1M60.0 421.3h1.1M75.0 427.9h1.1M57.4 416.7h1.1M62.9 426.1h1.1M66.4 412.8h1.1M61.6 424.4h1.1M74.2 420.9h1.1M55.8 425.7h1.1M79.9 425.5h1.1M66.4 426.8h1.1M55.6 423.1h1.1M63.3 416.7h1.1M67.0 429.0h1.1M53.6 426.6h1.1M57.3 427.6h1.1M53.0 418.6h1.1M60.9 428.3h1.1M82.4 413.6h1.1M69.6 424.2h1.1M59.9 426.4h1.1M65.0 426.5h1.1M68.7 424.1h1.1M57.7 428.9h1.1M65.3 419.4h1.1M64.5 425.8h1.1M75.3 423.0h1.1M68.1 412.5h1.1M62.2 419.6h1.1M60.5 422.2h1.1M76.5 408.5h1.1M54.7 419.7h1.1M59.3 422.5h1.1M74.5 415.6h1.1M63.1 423.0h1.1M58.7 418.1h1.1M62.8 428.3h1.1M71.3 413.8h1.1M72.1 420.5h1.1M71.8 418.6h1.1M59.9 414.1h1.1M54.3 419.6h1.1M65.2 428.9h1.1M60.8 414.1h1.1M67.9 414.2h1.1M73.3 418.2h1.1M66.5 412.9h1.1M63.6 410.5h1.1M66.2 428.2h1.1M76.5 416.6h1.1M62.8 413.8h1.1M68.4 415.5h1.1M66.6 423.2h1.1M58.8 423.3h1.1M72.3 417.1h1.1M64.7 426.5h1.1M63.2 414.1h1.1M58.7 415.8h1.1M66.2 417.3h1.1M68.8 429.4h1.1M66.2 414.9h1.1M60.2 420.2h1.1M68.3 424.4h1.1M76.5 415.6h1.1M53.2 416.8h1.1M64.3 429.1h1.1M70.2 429.0h1.1M64.0 417.1h1.1M70.4 416.3h1.1M50.4 413.1h1.1M73.6 414.9h1.1M57.2 412.7h1.1M71.6 417.0h1.1M61.5 417.1h1.1M67.1 410.6h1.1M59.9 402.8h1.1M71.3 417.7h1.1M75.9 408.1h1.1M64.8 422.0h1.1M71.9 422.9h1.1M55.5 422.5h1.1M78.5 426.8h1.1M56.5 429.0h1.1M78.4 413.0h1.1M84.5 419.4h1.1M72.8 424.9h1.1M80.2 416.1h1.1M57.6 421.3h1.1M65.5 414.8h1.1M65.7 418.6h1.1M48.3 417.5h1.1M69.2 413.0h1.1M63.2 414.6h1.1M64.7 424.9h1.1M67.9 409.8h1.1M60.4 420.4h1.1M75.0 428.2h1.1M77.0 429.4h1.1M57.4 428.8h1.1M58.5 428.6h1.1M70.2 420.3h1.1M69.2 422.8h1.1M56.4 415.6h1.1M64.4 427.0h1.1M78.4 411.4h1.1M46.5 425.5h1.1M68.1 428.9h1.1M62.0 421.9h1.1M63.7 409.2h1.1M55.4 418.5h1.1M75.9 429.3h1.1M58.1 424.3h1.1M63.2 416.9h1.1M54.5 423.4h1.1M84.5 420.6h1.1M74.6 408.5h1.1M74.3 421.2h1.1M68.9 420.9h1.1M70.4 423.0h1.1M66.0 412.5h1.1M77.4 428.6h1.1M66.3 414.9h1.1M75.2 407.1h1.1M71.1 413.2h1.1M63.4 426.7h1.1M64.7 422.1h1.1M63.2 419.6h1.1M70.1 420.1h1.1M56.0 428.4h1.1M67.0 417.1h1.1M64.9 405.6h1.1M66.5 420.4h1.1M65.5 428.7h1.1M68.6 428.7h1.1M67.2 428.1h1.1M67.2 423.0h1.1M55.3 415.3h1.1M70.9 418.6h1.1M72.4 419.7h1.1M64.8 415.3h1.1M66.2 421.6h1.1M77.5 421.7h1.1M68.0 417.7h1.1M71.0 416.2h1.1M61.6 422.1h1.1M58.2 413.8h1.1M68.1 418.7h1.1M66.2 417.2h1.1M84.2 421.5h1.1M84.0 428.5h1.1M68.6 421.5h1.1M69.8 428.3h1.1M73.9 419.6h1.1M76.0 415.1h1.1M75.0 417.9h1.1M62.0 417.3h1.1M75.2 427.3h1.1M66.4 420.1h1.1M73.0 408.1h1.1M60.6 411.8h1.1M66.2 425.2h1.1M69.6 417.4h1.1M60.9 428.0h1.1M59.0 427.7h1.1M77.1 414.6h1.1M75.9 419.4h1.1M57.5 412.0h1.1M79.7 420.8h1.1M64.1 411.0h1.1M72.2 427.6h1.1M72.8 428.8h1.1M59.7 422.3h1.1M71.3 411.5h1.1M59.3 402.3h1.1M57.3 426.3h1.1M69.0 419.1h1.1M62.1 418.3h1.1M56.4 417.6h1.1M64.9 422.1h1.1M67.7 414.2h1.1M71.9 417.6h1.1M59.7 424.3h1.1M65.8 417.2h1.1M63.2 411.2h1.1M71.8 425.0h1.1M76.5 419.6h1.1M77.4 428.9h1.1M66.0 422.2h1.1M50.7 420.6h1.1M69.7 414.2h1.1M62.4 416.2h1.1M83.8 420.9h1.1M59.9 415.4h1.1M70.3 408.4h1.1M60.8 420.1h1.1M74.2 417.7h1.1M69.7 427.4h1.1M74.4 428.3h1.1M72.8 417.4h1.1M72.6 421.6h1.1M82.7 422.4h1.1M69.6 412.1h1.1M84.0 413.2h1.1M64.3 417.0h1.1M66.6 420.4h1.1M66.6 429.1h1.1M74.1 406.7h1.1M53.8 422.3h1.1M64.5 416.4h1.1M58.8 415.2h1.1M69.1 421.9h1.1M64.2 405.1h1.1M76.5 415.8h1.1M76.4 428.3h1.1M78.4 417.0h1.1M58.9 420.0h1.1M65.3 422.1h1.1M70.6 419.7h1.1M55.9 425.8h1.1M78.0 421.8h1.1M66.2 411.5h1.1M71.9 412.7h1.1M64.5 414.8h1.1M70.3 417.7h1.1M56.6 411.7h1.1M77.0 421.8h1.1M70.0 417.1h1.1M67.8 422.3h1.1M62.9 420.4h1.1M75.8 418.8h1.1M76.4 423.5h1.1M67.8 415.6h1.1M57.2 416.2h1.1M64.9 426.5h1.1M56.5 422.1h1.1M66.0 418.8h1.1M74.5 417.9h1.1M67.9 423.6h1.1M63.7 422.0h1.1M64.9 415.7h1.1M65.7 413.6h1.1M75.3 419.7h1.1M85.0 417.6h1.1M67.9 417.0h1.1M62.4 420.3h1.1M53.8 420.1h1.1M62.7 428.0h1.1M53.5 420.3h1.1M57.4 424.3h1.1M59.2 428.9h1.1M77.6 411.4h1.1M63.7 426.6h1.1M60.7 428.6h1.1M72.1 417.5h1.1M78.2 417.9h1.1M68.2 415.7h1.1M78.0 428.2h1.1M71.3 422.1h1.1M66.5 418.2h1.1M69.8 416.6h1.1M59.5 426.1h1.1M67.3 412.6h1.1M68.6 428.3h1.1M67.4 428.5h1.1M51.3 428.3h1.1M64.1 423.5h1.1M66.2 428.6h1.1M62.8 424.4h1.1M68.5 417.4h1.1M71.1 399.3h1.1M58.8 418.3h1.1M71.8 418.6h1.1M69.6 415.3h1.1M67.6 411.4h1.1M72.7 412.7h1.1M71.5 413.5h1.1M68.2 407.1h1.1M60.8 427.8h1.1M60.5 420.8h1.1M72.6 423.7h1.1M76.9 428.2h1.1M61.5 429.2h1.1M70.9 421.2h1.1M57.1 421.7h1.1M86.0 428.5h1.1M61.9 428.5h1.1M59.1 429.2h1.1M74.7 415.5h1.1M63.6 417.9h1.1M79.9 418.9h1.1M65.2 428.3h1.1M60.6 428.3h1.1M73.9 423.1h1.1M55.0 413.9h1.1M63.6 422.2h1.1M65.4 419.8h1.1M69.3 419.6h1.1M66.7 416.9h1.1M60.4 416.6h1.1M60.7 422.8h1.1M66.7 424.0h1.1M71.4 427.7h1.1M66.7 407.0h1.1M67.7 424.9h1.1M75.1 420.7h1.1M56.8 425.0h1.1M74.5 421.1h1.1M57.3 421.5h1.1M71.5 425.7h1.1M68.2 428.1h1.1M73.3 421.2h1.1M79.8 413.0h1.1M68.6 423.1h1.1M72.9 425.5h1.1M73.9 405.6h1.1M61.0 419.7h1.1M74.0 426.5h1.1M62.2 423.0h1.1M59.8 421.1h1.1M61.9 429.2h1.1M57.4 423.7h1.1M72.9 414.1h1.1M62.1 427.1h1.1M63.5 413.0h1.1M68.9 429.3h1.1M66.4 421.2h1.1M64.5 415.6h1.1M57.2 416.6h1.1M52.9 420.2h1.1M66.7 424.0h1.1M75.6 421.5h1.1M63.6 426.8h1.1M75.9 422.8h1.1M69.8 419.4h1.1M59.1 423.2h1.1M64.0 422.3h1.1M70.2 418.7h1.1M60.1 424.8h1.1M65.4 418.7h1.1M69.7 414.0h1.1M61.6 419.0h1.1M66.3 426.7h1.1M66.2 412.6h1.1M69.1 419.2h1.1M71.1 428.2h1.1M64.3 417.7h1.1M73.2 422.6h1.1M68.4 426.8h1.1M73.6 419.2h1.1M58.7 425.2h1.1M66.9 426.5h1.1M72.4 428.5h1.1M60.3 423.3h1.1M63.8 421.8h1.1M55.5 418.6h1.1M62.7 411.6h1.1M68.8 413.3h1.1M68.6 411.0h1.1M61.3 424.1h1.1M64.3 414.0h1.1M77.4 425.7h1.1M67.6 429.3h1.1M77.9 426.1h1.1M69.5 415.1h1.1M68.2 404.3h1.1M61.2 416.5h1.1M65.1 425.5h1.1M73.9 428.4h1.1M59.6 422.5h1.1M62.2 418.5h1.1M85.0 418.6h1.1M52.2 428.7h1.1M60.0 418.9h1.1M77.4 407.7h1.1M49.0 420.0h1.1M73.3 424.7h1.1M58.3 428.4h1.1M63.0 424.6h1.1M63.5 419.8h1.1M67.3 419.5h1.1M69.0 416.3h1.1M73.1 411.7h1.1M52.9 414.0h1.1M64.3 426.0h1.1M73.8 416.8h1.1M81.6 420.2h1.1M56.1 423.3h1.1M61.9 417.0h1.1M79.6 418.5h1.1M79.8 429.2h1.1M79.4 423.6h1.1M64.6 424.0h1.1M63.6 428.3h1.1M73.7 426.7h1.1M77.9 421.7h1.1M56.5 411.3h1.1M59.7 428.6h1.1M51.8 418.7h1.1M59.4 424.8h1.1M59.9 429.2h1.1M77.1 422.8h1.1M64.7 413.5h1.1M67.0 415.7h1.1M72.0 412.3h1.1M55.1 420.7h1.1M70.1 424.3h1.1M68.4 408.5h1.1M79.2 418.6h1.1M73.4 421.3h1.1M62.9 423.2h1.1M58.9 425.3h1.1M68.3 428.3h1.1M65.9 417.0h1.1M73.2 414.9h1.1M69.8 404.9h1.1M77.5 409.2h1.1M79.1 417.4h1.1M75.3 425.7h1.1M52.7 420.3h1.1M71.0 429.2h1.1M65.6 426.3h1.1M63.3 423.0h1.1M66.1 429.2h1.1M83.5 423.3h1.1M55.1 423.3h1.1M69.4 415.9h1.1M55.8 411.6h1.1M55.0 419.6h1.1M70.2 427.7h1.1M76.0 418.3h1.1M58.0 415.9h1.1M67.1 426.5h1.1M74.7 418.9h1.1M71.8 419.5h1.1M75.7 421.9h1.1M63.4 424.1h1.1M64.2 428.3h1.1M58.6 429.3h1.1M64.4 424.5h1.1M61.7 416.0h1.1M72.2 423.3h1.1M63.7 418.2h1.1M75.9 428.4h1.1M67.9 425.1h1.1M67.1 429.1h1.1M66.5 424.5h1.1M63.1 413.8h1.1M56.9 419.2h1.1M63.4 420.1h1.1M65.1 429.3h1.1M67.8 428.5h1.1M78.9 408.7h1.1M60.2 414.8h1.1M69.2 428.3h1.1M72.5 415.1h1.1M79.2 412.9h1.1M69.5 418.3h1.1M81.4 420.4h1.1M66.2 414.0h1.1M51.6 428.9h1.1M72.1 424.5h1.1M76.9 428.5h1.1M76.9 416.1h1.1M46.8 429.2h1.1M69.7 410.7h1.1M70.2 412.5h1.1M69.0 413.6h1.1M63.6 414.2h1.1M74.5 418.4h1.1M62.6 421.3h1.1M67.9 415.5h1.1M66.5 421.3h1.1M82.9 410.1h1.1M61.5 419.3h1.1M58.0 419.7h1.1M68.9 423.2h1.1M68.7 426.0h1.1M77.8 404.8h1.1M60.8 427.3h1.1M57.8 415.6h1.1M60.2 423.1h1.1M62.7 417.6h1.1M72.9 421.3h1.1M70.6 415.7h1.1M65.7 418.9h1.1M76.4 416.7h1.1M54.1 423.9h1.1M71.4 411.6h1.1M69.7 428.6h1.1M63.5 421.4h1.1M70.2 415.4h1.1M56.2 427.0h1.1M83.8 429.2h1.1M74.2 426.5h1.1M74.1 404.4h1.1M71.7 428.5h1.1M70.9 418.8h1.1M65.1 420.0h1.1M70.0 419.7h1.1M86.5 407.6h1.1M59.0 425.5h1.1M58.5 414.4h1.1M53.0 423.4h1.1M62.8 429.0h1.1M65.1 425.6h1.1M74.2 428.2h1.1M71.5 428.2h1.1M61.4 422.2h1.1M66.5 418.2h1.1M73.4 403.2h1.1M72.6 420.8h1.1M75.0 413.9h1.1M75.4 415.0h1.1M73.5 428.8h1.1M58.0 412.9h1.1M52.7 428.7h1.1M82.5 405.9h1.1M70.7 410.4h1.1M63.6 416.2h1.1M65.6 415.2h1.1M54.2 429.3h1.1M84.1 422.2h1.1M61.9 410.2h1.1M70.5 413.6h1.1M67.7 416.5h1.1M69.3 425.0h1.1M67.0 425.6h1.1M77.0 421.7h1.1M43.4 395.8h1.1M42.3 414.3h1.1M57.4 404.8h1.1M64.2 418.2h1.1M70.6 415.8h1.1M54.1 415.6h1.1M68.5 414.2h1.1M63.5 426.1h1.1M75.1 424.5h1.1M73.1 416.6h1.1M52.4 415.8h1.1M67.7 429.3h1.1M42.4 428.7h1.1M65.8 425.0h1.1M46.1 422.7h1.1M72.5 424.2h1.1M76.0 428.6h1.1M79.1 412.2h1.1M65.4 412.0h1.1M65.1 417.9h1.1M41.5 414.5h1.1M72.3 407.9h1.1M44.9 412.8h1.1M84.5 411.8h1.1M82.9 409.1h1.1M64.6 407.3h1.1M60.4 423.4h1.1M65.6 410.7h1.1M73.9 429.2h1.1M71.5 421.5h1.1M45.5 421.5h1.1M78.7 414.1h1.1M77.3 412.5h1.1M68.0 426.2h1.1M62.5 426.6h1.1M48.2 415.2h1.1M69.4 406.8h1.1M49.4 415.1h1.1M54.7 420.7h1.1M79.8 420.3h1.1M50.6 421.5h1.1M65.9 429.0h1.1M60.6 423.3h1.1M60.8 412.4h1.1M59.7 404.3h1.1M72.5 416.4h1.1M77.4 394.6h1.1M67.3 426.6h1.1M79.9 421.0h1.1M49.2 421.6h1.1M60.6 413.5h1.1M61.1 404.3h1.1M67.7 418.1h1.1M62.5 428.2h1.1M57.8 412.7h1.1M92.6 428.2h1.1M48.5 419.9h1.1M66.7 426.6h1.1M68.1 415.5h1.1M68.0 409.0h1.1M80.7 422.1h1.1M57.6 428.4h1.1M74.4 416.8h1.1M69.6 398.3h1.1M70.4 419.8h1.1M63.9 419.8h1.1M62.9 393.3h1.1M64.7 417.9h1.1M85.9 414.1h1.1M60.5 417.4h1.1M69.0 409.0h1.1M71.4 421.4h1.1M77.6 415.6h1.1M62.1 426.7h1.1M63.8 420.4h1.1M67.0 414.0h1.1M69.4 425.9h1.1M48.7 414.8h1.1M85.8 415.6h1.1M42.3 413.9h1.1M77.6 428.3h1.1M52.2 428.5h1.1M84.0 428.8h1.1M41.6 416.2h1.1M70.0 428.3h1.1M72.8 427.5h1.1M51.5 426.8h1.1M59.4 388.6h1.1M67.7 427.5h1.1M93.1 428.7h1.1M91.6 417.7h1.1M57.8 427.9h1.1M62.7 425.0h1.1M41.6 408.7h1.1M42.1 414.1h1.1M57.7 423.7h1.1M69.7 415.7h1.1M64.5 401.1h1.1M91.1 413.6h1.1M80.0 418.0h1.1M45.2 410.4h1.1M61.1 426.9h1.1M79.3 407.2h1.1M43.5 423.6h1.1M91.2 417.0h1.1M48.1 420.1h1.1M83.4 411.7h1.1M74.4 428.9h1.1M48.2 419.9h1.1M74.3 414.1h1.1M65.3 414.1h1.1M83.9 418.3h1.1M92.9 425.8h1.1M63.4 411.2h1.1M74.8 422.2h1.1M69.7 415.1h1.1M96.7 410.6h1.1M54.4 428.3h1.1M42.2 412.1h1.1M69.7 414.4h1.1M42.7 405.6h1.1M63.1 428.6h1.1M42.3 402.6h1.1M44.8 428.7h1.1M56.8 424.9h1.1M53.1 423.4h1.1M89.2 422.7h1.1M47.6 422.4h1.1M67.3 412.1h1.1M49.4 426.3h1.1M44.3 411.0h1.1M69.3 428.4h1.1M68.6 420.8h1.1M57.9 423.6h1.1M59.0 398.7h1.1M79.7 422.7h1.1M75.2 428.4h1.1M74.4 404.3h1.1M84.6 428.5h1.1M45.8 424.2h1.1M67.7 426.4h1.1M44.5 410.1h1.1M66.4 405.3h1.1M70.2 407.6h1.1M74.0 417.7h1.1M53.5 426.9h1.1M75.3 415.7h1.1M78.9 413.3h1.1M77.3 424.4h1.1M75.8 413.7h1.1M68.4 417.2h1.1M58.1 424.7h1.1M41.8 418.7h1.1M81.3 411.1h1.1M59.8 428.6h1.1M72.5 425.1h1.1M70.8 406.4h1.1M79.9 408.2h1.1M57.1 422.6h1.1M64.5 414.9h1.1M80.9 413.9h1.1M58.0 421.8h1.1M47.3 423.1h1.1M61.1 420.5h1.1M64.7 414.0h1.1M46.1 421.1h1.1M104.5 422.3h1.1M57.6 426.1h1.1M87.4 422.2h1.1M87.4 409.5h1.1M90.5 415.9h1.1M79.3 411.8h1.1M82.1 414.0h1.1M69.9 427.0h1.1M79.3 411.7h1.1M51.1 422.4h1.1M63.2 424.0h1.1M52.4 418.0h1.1M76.9 420.9h1.1M76.1 411.7h1.1M66.9 403.1h1.1M52.8 421.4h1.1M48.1 420.4h1.1M70.7 428.3h1.1M53.6 412.2h1.1M45.7 428.7h1.1M70.8 429.2h1.1M79.4 422.0h1.1M60.0 413.9h1.1M71.5 428.6h1.1M51.1 414.4h1.1M41.8 428.2h1.1M70.8 407.8h1.1M95.7 423.2h1.1M41.8 421.6h1.1M65.3 408.1h1.1M71.5 424.6h1.1M41.3 407.6h1.1M78.8 413.5h1.1M70.9 413.1h1.1M75.3 422.7h1.1M69.2 425.8h1.1M75.8 428.6h1.1M65.7 411.1h1.1M54.7 415.4h1.1M44.1 428.1h1.1M81.1 420.1h1.1M93.6 402.2h1.1M69.1 419.2h1.1M96.0 422.6h1.1M51.0 408.3h1.1M66.8 405.0h1.1M72.3 409.1h1.1M46.7 409.7h1.1M58.8 428.4h1.1M72.9 422.2h1.1M63.0 421.8h1.1M67.9 412.5h1.1M62.4 411.7h1.1M62.1 422.5h1.1M41.9 429.3h1.1M48.5 423.3h1.1M81.0 420.7h1.1M73.4 424.4h1.1M69.1 424.1h1.1M55.2 427.1h1.1M54.6 425.6h1.1M79.5 415.3h1.1M92.5 403.3h1.1M67.4 424.8h1.1M80.7 421.0h1.1M69.7 415.5h1.1M48.3 404.7h1.1M62.1 411.2h1.1M65.5 412.2h1.1M68.4 426.4h1.1M80.6 407.5h1.1M79.7 403.6h1.1M73.1 424.7h1.1M86.0 426.1h1.1M79.9 424.8h1.1M64.8 404.4h1.1M63.7 411.7h1.1M60.7 428.8h1.1M79.4 424.8h1.1M64.9 415.0h1.1M69.3 429.2h1.1M53.4 417.2h1.1M57.6 414.7h1.1M42.6 416.6h1.1M59.3 399.3h1.1M72.3 411.6h1.1M66.2 427.7h1.1M43.2 420.4h1.1M71.4 410.2h1.1M62.7 416.6h1.1M62.0 401.7h1.1M69.2 421.5h1.1M65.9 406.6h1.1M74.8 412.3h1.1M49.2 428.2h1.1M75.5 422.7h1.1M93.7 417.2h1.1M54.4 410.5h1.1M77.5 428.2h1.1M76.1 420.0h1.1M67.3 429.1h1.1M88.5 427.8h1.1M52.9 414.6h1.1M97.9 420.1h1.1M83.2 410.9h1.1M55.5 413.3h1.1M63.2 428.2h1.1M74.8 418.7h1.1M68.6 428.6h1.1M56.6 429.0h1.1M87.6 413.7h1.1M55.3 422.4h1.1M75.6 419.0h1.1M51.8 422.9h1.1M48.1 412.8h1.1M50.0 422.4h1.1M68.4 429.1h1.1M51.8 426.3h1.1M47.1 413.8h1.1M46.2 428.9h1.1M53.4 429.1h1.1M53.3 418.8h1.1M48.9 419.2h1.1M62.9 415.4h1.1M71.6 420.9h1.1M80.6 428.3h1.1M77.0 413.2h1.1M56.5 406.6h1.1M83.3 429.4h1.1M79.1 429.0h1.1M52.7 411.6h1.1M67.4 408.2h1.1M53.3 422.6h1.1M48.2 420.2h1.1M61.4 422.2h1.1M68.2 418.4h1.1M68.4 428.9h1.1M72.3 421.1h1.1M91.5 424.8h1.1M60.4 410.3h1.1M59.7 410.3h1.1M65.7 415.5h1.1M63.7 428.5h1.1M61.9 422.3h1.1M68.9 425.0h1.1M73.0 421.8h1.1M80.7 405.7h1.1M54.1 407.0h1.1M65.7 398.5h1.1M60.7 422.4h1.1M42.5 408.8h1.1M61.3 410.4h1.1M71.0 425.1h1.1M68.1 421.9h1.1M50.3 420.9h1.1M80.6 409.5h1.1M91.6 410.7h1.1M74.0 419.7h1.1M97.1 423.1h1.1M59.6 423.5h1.1M64.0 421.1h1.1M51.8 415.8h1.1M82.8 420.7h1.1M81.1 420.8h1.1M51.9 418.7h1.1M49.5 429.2h1.1M67.3 419.3h1.1M69.6 416.9h1.1M71.7 417.5h1.1M66.6 412.1h1.1M55.1 429.0h1.1M64.2 415.3h1.1M74.5 429.3h1.1M72.5 414.5h1.1M74.3 420.6h1.1M95.2 422.9h1.1M84.3 419.8h1.1M95.4 420.4h1.1M55.9 427.5h1.1M58.4 428.3h1.1M64.7 415.4h1.1M76.9 428.2h1.1M78.8 402.6h1.1M59.2 425.5h1.1M42.9 419.9h1.1M57.2 415.8h1.1M69.2 426.7h1.1M81.1 417.7h1.1M75.9 413.5h1.1M72.0 417.1h1.1M84.4 416.5h1.1M92.5 415.3h1.1M55.0 425.9h1.1M83.6 415.3h1.1M50.0 429.1h1.1M89.9 412.8h1.1M85.2 420.3h1.1M96.0 397.3h1.1M99.8 407.5h1.1M88.3 423.2h1.1M101.7 407.5h1.1M83.6 412.2h1.1M101.0 406.0h1.1M79.8 407.4h1.1M91.0 416.5h1.1M95.0 404.6h1.1M74.2 399.3h1.1M77.9 407.0h1.1M85.5 397.1h1.1M88.2 415.1h1.1M85.1 400.8h1.1M83.1 417.3h1.1M92.4 407.2h1.1M75.6 400.8h1.1M92.1 420.8h1.1M75.6 404.4h1.1M82.7 412.8h1.1M78.8 409.8h1.1M84.0 417.5h1.1M72.4 425.0h1.1M84.4 406.8h1.1M93.7 406.0h1.1M84.1 417.0h1.1M91.4 402.9h1.1M84.9 394.6h1.1M88.6 419.9h1.1M92.0 423.1h1.1M76.2 400.4h1.1M82.7 411.0h1.1M87.4 414.0h1.1M98.1 417.3h1.1M81.2 405.3h1.1M79.5 406.9h1.1M93.9 408.3h1.1M89.1 407.2h1.1M82.7 410.5h1.1M78.7 389.9h1.1M73.8 419.9h1.1M100.7 419.8h1.1M87.9 419.8h1.1M99.3 409.4h1.1M86.8 419.6h1.1M87.5 403.0h1.1M86.3 411.7h1.1M83.7 419.7h1.1M100.9 421.0h1.1M73.5 409.4h1.1M81.4 420.8h1.1M93.5 394.4h1.1M87.7 403.8h1.1M81.8 403.1h1.1M71.3 413.7h1.1M84.5 413.1h1.1M84.6 400.7h1.1M89.3 420.7h1.1M88.0 429.2h1.1M92.3 413.6h1.1M82.7 417.8h1.1M76.6 405.7h1.1M85.1 409.1h1.1M102.0 416.3h1.1M91.8 404.8h1.1M87.5 409.1h1.1M74.1 407.4h1.1M86.0 421.4h1.1M69.9 402.5h1.1M80.6 419.8h1.1M84.7 425.2h1.1M83.3 398.8h1.1M94.8 416.3h1.1M87.1 392.7h1.1M84.7 402.6h1.1M86.9 416.4h1.1M94.1 416.5h1.1M86.3 424.2h1.1M122.4 361.2h1.1M125.0 365.0h1.1M120.6 367.1h1.1M116.3 367.3h1.1M120.9 364.6h1.1M115.4 365.1h1.1M116.5 366.6h1.1M121.9 367.4h1.1M112.6 364.3h1.1M118.5 366.6h1.1M118.8 359.6h1.1M120.5 366.4h1.1M122.5 362.7h1.1M119.2 362.7h1.1M118.7 361.8h1.1M119.1 366.4h1.1M121.3 364.5h1.1M120.6 363.4h1.1M122.5 362.3h1.1M127.6 365.1h1.1M119.7 366.1h1.1M112.8 364.0h1.1M121.2 363.9h1.1M114.6 364.0h1.1M110.4 366.1h1.1M122.9 366.4h1.1M123.1 364.8h1.1M115.0 367.0h1.1M115.8 365.9h1.1M122.9 363.9h1.1M121.8 362.8h1.1M120.8 364.5h1.1M117.1 363.7h1.1M119.9 364.6h1.1M116.2 364.0h1.1M125.7 363.9h1.1M117.7 362.1h1.1M122.3 363.2h1.1M114.7 364.8h1.1M120.1 365.4h1.1M114.1 363.7h1.1M117.1 365.9h1.1M114.6 364.0h1.1M124.2 363.8h1.1M120.7 363.8h1.1M119.5 362.3h1.1M123.8 370.0h1.1M120.4 362.8h1.1M119.8 365.4h1.1M119.6 364.8h1.1M116.6 361.5h1.1M115.9 365.5h1.1M112.3 365.7h1.1M119.1 365.9h1.1M125.6 365.8h1.1M116.9 364.5h1.1M120.5 364.6h1.1M115.4 362.9h1.1M115.7 368.4h1.1M121.2 364.1h1.1M118.2 362.3h1.1M115.9 364.9h1.1M114.5 366.5h1.1M124.4 360.0h1.1M123.6 362.3h1.1M116.4 369.0h1.1M117.8 366.9h1.1M111.1 365.1h1.1M122.2 363.8h1.1M115.1 367.9h1.1M124.4 363.2h1.1M120.8 366.1h1.1M116.8 362.8h1.1M118.6 367.4h1.1M114.6 362.1h1.1M119.5 364.9h1.1M119.6 367.1h1.1M118.8 365.9h1.1M118.3 362.4h1.1M116.4 364.0h1.1M117.8 362.2h1.1M126.1 366.1h1.1M114.2 369.7h1.1M119.1 364.5h1.1M110.5 363.0h1.1M120.9 363.4h1.1M113.7 365.5h1.1M115.0 361.6h1.1M117.3 360.5h1.1M116.1 361.1h1.1M118.5 367.0h1.1M115.8 366.6h1.1M113.9 363.5h1.1M117.6 365.3h1.1M120.5 364.2h1.1M110.7 368.6h1.1M121.2 365.1h1.1M123.4 364.6h1.1M115.4 364.1h1.1M114.6 365.6h1.1M118.3 362.4h1.1M118.5 363.9h1.1M120.7 370.1h1.1M121.7 364.0h1.1M117.8 366.4h1.1M122.5 368.2h1.1M121.5 361.9h1.1M120.1 364.2h1.1M124.6 365.2h1.1M116.9 361.4h1.1M113.3 364.1h1.1M116.0 363.9h1.1M122.0 365.5h1.1M116.0 365.3h1.1M111.2 365.2h1.1M116.4 364.4h1.1M123.3 367.3h1.1M119.1 364.6h1.1M115.3 361.6h1.1M112.9 366.0h1.1M116.2 362.8h1.1M116.9 366.1h1.1M118.8 363.5h1.1M115.6 361.5h1.1M117.9 362.4h1.1M119.7 367.5h1.1M119.9 368.1h1.1M113.1 361.3h1.1M112.8 362.5h1.1M127.1 363.5h1.1M115.8 362.1h1.1M123.1 361.3h1.1M114.7 362.6h1.1M113.9 361.6h1.1M118.1 366.0h1.1M117.5 366.2h1.1M120.7 361.2h1.1M115.0 365.3h1.1M122.6 363.5h1.1M118.7 362.3h1.1M118.8 364.4h1.1M116.8 366.4h1.1M115.5 367.2h1.1M119.8 365.6h1.1M120.0 363.5h1.1M122.2 367.5h1.1M118.4 363.2h1.1M117.7 361.2h1.1M114.8 365.7h1.1M119.3 364.6h1.1M115.8 362.2h1.1M118.2 366.2h1.1M119.8 367.1h1.1M115.6 364.0h1.1M120.7 364.3h1.1M114.1 366.1h1.1M121.8 364.2h1.1M119.1 364.5h1.1M112.6 366.3h1.1M121.4 363.7h1.1M117.0 366.1h1.1M110.2 363.0h1.1M124.5 363.2h1.1M127.9 362.0h1.1M120.1 365.3h1.1M115.0 363.8h1.1M120.3 360.3h1.1M120.5 365.3h1.1M116.4 363.3h1.1M119.0 363.0h1.1M114.1 362.4h1.1M120.3 368.2h1.1M117.0 366.2h1.1M115.1 364.9h1.1M112.6 368.9h1.1M114.5 363.9h1.1M120.3 363.7h1.1M112.3 368.3h1.1M110.0 363.2h1.1M119.6 364.0h1.1M120.1 356.4h1.1M114.2 361.0h1.1M115.1 363.2h1.1M118.5 362.9h1.1M124.4 360.2h1.1M115.8 367.2h1.1M115.0 364.0h1.1M111.8 361.6h1.1M123.0 369.8h1.1M119.3 364.8h1.1M118.8 366.7h1.1M115.4 364.4h1.1M116.0 368.0h1.1M123.3 367.0h1.1M124.1 365.3h1.1M120.4 368.3h1.1M123.0 362.5h1.1M120.2 366.8h1.1M119.6 363.6h1.1M123.0 359.3h1.1M120.4 370.0h1.1M124.0 362.3h1.1M113.6 365.6h1.1M111.5 360.2h1.1M120.6 360.7h1.1M118.6 362.6h1.1M118.2 365.7h1.1M116.4 368.0h1.1M125.4 366.6h1.1M119.7 367.9h1.1M116.7 368.1h1.1M115.4 367.5h1.1M110.0 363.9h1.1M116.7 366.4h1.1M121.5 365.5h1.1M123.3 368.3h1.1M122.7 359.0h1.1M120.9 366.4h1.1M116.0 362.8h1.1M115.4 364.1h1.1M119.7 369.0h1.1M117.5 362.6h1.1M116.5 364.7h1.1M122.4 363.7h1.1M114.3 366.3h1.1M119.5 361.5h1.1M116.7 366.4h1.1M122.6 365.6h1.1M120.4 365.6h1.1M114.8 363.2h1.1M118.4 364.6h1.1M117.0 368.7h1.1M114.6 362.7h1.1M119.6 358.8h1.1M117.7 369.8h1.1M113.8 362.6h1.1M117.0 365.9h1.1M118.4 361.7h1.1M122.8 363.2h1.1M114.0 360.2h1.1M119.2 362.3h1.1M118.2 364.3h1.1M118.4 365.0h1.1M113.0 367.7h1.1M115.3 364.6h1.1M116.8 363.6h1.1M117.1 361.9h1.1M116.5 364.0h1.1M116.0 367.1h1.1M118.2 365.5h1.1M111.3 363.9h1.1M118.1 366.1h1.1M125.4 362.4h1.1M116.5 364.2h1.1M116.3 363.0h1.1M116.5 364.8h1.1M114.5 364.1h1.1M120.7 365.4h1.1M109.5 366.1h1.1M118.0 365.1h1.1M114.7 366.8h1.1M118.9 364.0h1.1M113.6 363.9h1.1M122.8 365.1h1.1M122.6 369.1h1.1M113.2 366.5h1.1M118.1 365.9h1.1M119.2 359.1h1.1M115.1 367.1h1.1M121.1 366.5h1.1M116.7 361.9h1.1M120.9 364.1h1.1M121.0 364.0h1.1M117.7 365.8h1.1M128.6 366.2h1.1M119.0 364.9h1.1M121.3 362.3h1.1M111.9 362.1h1.1M117.9 364.8h1.1M115.7 365.0h1.1M113.7 361.3h1.1M121.5 366.5h1.1M116.6 366.5h1.1M113.3 362.1h1.1M119.6 363.8h1.1M117.5 364.3h1.1M116.3 366.8h1.1M117.6 363.3h1.1M117.3 362.2h1.1M116.9 363.9h1.1M122.9 363.9h1.1M112.7 365.0h1.1M119.8 369.7h1.1M121.6 362.0h1.1M117.5 368.7h1.1M120.5 363.4h1.1M118.0 361.9h1.1M122.1 366.5h1.1M116.3 365.3h1.1M115.1 362.5h1.1M125.5 365.5h1.1M123.3 367.0h1.1M121.8 368.6h1.1M124.1 364.0h1.1M113.4 362.8h1.1M115.3 364.7h1.1M120.1 361.8h1.1M114.5 364.0h1.1M122.5 362.6h1.1M120.8 366.8h1.1M121.6 361.8h1.1M119.4 364.1h1.1M115.1 363.9h1.1M118.7 365.1h1.1M116.9 367.0h1.1M119.3 365.0h1.1M116.8 362.3h1.1M119.6 367.1h1.1M118.0 361.6h1.1M118.5 364.7h1.1M118.1 364.4h1.1M118.0 362.3h1.1M114.8 366.3h1.1M119.9 365.2h1.1M115.8 365.2h1.1M116.3 362.8h1.1M121.7 363.8h1.1M115.8 363.0h1.1M121.3 363.4h1.1M109.8 368.0h1.1M111.8 364.8h1.1M122.4 361.9h1.1M108.3 361.4h1.1M118.5 364.5h1.1M117.8 361.1h1.1M127.5 362.1h1.1M123.4 365.5h1.1M109.4 368.3h1.1M122.3 361.8h1.1M121.8 366.1h1.1M123.2 367.0h1.1M118.0 363.8h1.1M117.6 367.0h1.1M111.5 367.5h1.1M116.1 362.5h1.1M114.2 363.4h1.1M118.4 364.5h1.1M109.8 364.9h1.1M113.7 363.9h1.1M115.4 365.5h1.1M124.8 363.8h1.1M115.0 366.6h1.1M117.3 361.5h1.1M120.8 362.7h1.1M120.4 367.2h1.1M114.9 365.2h1.1M112.4 363.4h1.1M116.1 364.0h1.1M120.0 361.7h1.1M117.7 364.8h1.1M119.7 365.6h1.1M116.1 364.8h1.1M117.5 362.7h1.1M114.5 363.7h1.1M122.9 364.1h1.1M113.5 367.9h1.1M116.9 361.1h1.1M115.5 367.6h1.1M113.9 361.7h1.1M121.5 366.7h1.1M122.7 364.3h1.1M119.8 366.1h1.1M117.5 360.5h1.1M116.9 370.4h1.1M113.4 361.6h1.1M119.5 363.6h1.1M123.6 363.3h1.1M117.5 363.5h1.1M123.9 365.2h1.1M116.7 366.7h1.1M117.3 359.9h1.1M112.6 364.3h1.1M116.4 360.6h1.1M119.4 364.2h1.1M112.9 365.7h1.1M123.5 368.7h1.1M119.2 362.1h1.1M119.3 365.6h1.1M112.7 365.7h1.1M116.3 362.1h1.1M123.5 362.1h1.1M118.0 365.4h1.1M124.8 364.1h1.1M112.1 363.1h1.1M121.2 366.0h1.1M118.4 364.0h1.1M117.3 363.3h1.1M118.3 360.7h1.1M123.1 368.8h1.1M114.6 364.5h1.1M121.5 367.3h1.1M123.6 357.8h1.1M119.2 361.5h1.1M120.1 363.8h1.1M119.7 363.2h1.1M118.1 362.8h1.1M110.8 363.8h1.1M115.5 363.7h1.1M120.3 368.0h1.1M124.3 359.6h1.1M121.9 366.7h1.1M115.7 365.7h1.1M120.1 363.2h1.1M119.2 370.1h1.1M122.4 361.2h1.1M118.5 369.2h1.1M118.7 360.4h1.1M120.9 364.0h1.1M119.2 362.3h1.1M120.3 363.8h1.1M118.4 364.9h1.1M120.3 365.4h1.1M113.4 366.1h1.1M117.7 363.7h1.1M126.8 362.4h1.1M113.3 368.2h1.1M122.5 362.5h1.1M123.7 364.5h1.1M117.2 361.6h1.1M119.2 366.0h1.1M122.7 364.0h1.1M121.7 363.7h1.1M118.4 361.7h1.1M121.0 363.2h1.1M115.9 361.7h1.1M112.9 364.3h1.1M120.7 366.0h1.1M113.6 362.3h1.1M114.8 367.5h1.1M115.2 362.0h1.1M123.2 364.2h1.1M120.8 363.2h1.1M127.6 365.5h1.1M117.6 366.3h1.1M118.1 363.7h1.1M115.6 365.3h1.1M116.0 365.5h1.1M117.8 361.1h1.1M113.6 360.6h1.1M113.9 364.3h1.1M120.7 362.8h1.1M120.3 360.6h1.1M118.8 366.3h1.1M116.5 364.2h1.1M114.9 365.1h1.1M116.4 365.7h1.1M110.8 365.1h1.1M122.6 363.2h1.1M109.3 365.3h1.1M114.7 360.3h1.1M111.8 369.0h1.1M122.3 365.2h1.1M114.8 362.2h1.1M121.2 366.8h1.1M116.0 366.9h1.1M121.2 365.3h1.1M116.1 366.4h1.1M119.8 366.1h1.1M117.3 363.3h1.1M118.5 362.0h1.1M115.6 363.6h1.1M122.2 365.4h1.1M122.7 365.7h1.1M122.9 361.1h1.1M122.5 365.6h1.1M120.3 364.3h1.1M121.9 366.4h1.1M117.6 361.5h1.1M116.9 364.1h1.1M116.6 369.6h1.1M125.8 365.9h1.1M120.2 366.3h1.1M118.8 364.4h1.1M121.8 367.6h1.1M122.6 364.4h1.1M128.8 369.3h1.1M119.3 366.4h1.1M122.3 367.7h1.1M126.4 365.4h1.1M129.9 365.9h1.1M123.2 371.4h1.1M109.9 369.0h1.1M120.1 365.0h1.1M125.3 365.6h1.1M119.4 369.7h1.1M113.3 364.9h1.1M108.0 366.0h1.1M127.2 367.2h1.1M123.7 361.9h1.1M122.4 363.7h1.1M130.0 364.2h1.1M127.2 371.0h1.1M125.5 368.7h1.1M119.9 367.3h1.1M122.0 364.0h1.1M127.4 369.1h1.1M119.1 368.5h1.1M120.0 368.3h1.1M112.5 363.4h1.1M130.5 368.1h1.1M127.9 365.4h1.1M127.8 365.3h1.1M117.8 367.7h1.1M119.1 362.5h1.1M116.6 366.8h1.1M119.8 367.6h1.1M122.4 366.5h1.1M116.3 367.4h1.1M120.2 367.3h1.1M127.5 370.3h1.1M124.7 363.9h1.1M116.3 368.3h1.1M129.4 367.0h1.1M121.4 365.2h1.1M121.4 362.0h1.1M127.4 363.3h1.1M127.8 364.7h1.1M121.8 368.9h1.1M123.3 363.7h1.1M124.9 364.0h1.1M119.3 372.8h1.1M129.9 369.2h1.1M117.4 369.5h1.1M120.8 368.2h1.1M117.5 370.5h1.1M116.9 364.6h1.1M109.4 364.8h1.1M123.6 366.3h1.1M120.9 365.3h1.1M116.0 370.7h1.1M122.4 367.6h1.1M123.3 365.0h1.1M119.8 365.6h1.1M124.8 367.6h1.1M118.4 370.1h1.1M116.9 365.0h1.1M125.9 366.6h1.1M123.6 367.1h1.1M129.3 365.2h1.1M125.5 369.5h1.1M114.5 375.8h1.1M116.4 373.3h1.1M114.1 386.7h1.1M109.8 370.9h1.1M115.5 368.2h1.1M113.6 374.8h1.1M115.5 372.2h1.1M116.3 370.9h1.1M109.2 377.9h1.1M114.7 379.9h1.1M114.5 390.7h1.1M118.0 372.0h1.1M114.5 367.7h1.1M119.0 372.9h1.1M116.2 370.6h1.1M110.5 389.2h1.1M111.2 377.1h1.1M112.7 389.3h1.1M117.6 371.5h1.1M112.0 384.0h1.1M113.6 384.5h1.1M119.2 374.6h1.1M108.7 368.1h1.1M120.9 371.7h1.1M113.8 367.5h1.1M111.7 379.0h1.1M111.4 367.5h1.1M114.4 377.9h1.1M105.8 375.2h1.1M111.8 367.3h1.1M114.3 366.4h1.1M117.0 366.2h1.1M114.7 383.3h1.1M115.0 368.5h1.1M107.3 369.0h1.1M123.2 366.7h1.1M112.9 372.9h1.1M114.8 371.7h1.1M112.6 381.9h1.1M110.1 381.7h1.1M115.6 371.6h1.1M115.1 380.7h1.1M113.4 384.9h1.1M110.8 373.4h1.1M113.7 366.4h1.1M115.8 370.7h1.1M109.6 383.9h1.1M111.6 387.1h1.1M116.1 382.5h1.1M114.0 383.1h1.1M113.3 379.7h1.1M114.5 375.8h1.1M113.1 388.6h1.1M108.5 384.3h1.1M109.6 366.6h1.1M117.8 382.4h1.1M111.9 375.6h1.1M116.1 372.4h1.1M110.7 372.1h1.1M116.2 367.9h1.1M112.1 368.2h1.1M111.9 375.6h1.1M108.3 376.4h1.1M124.8 370.8h1.1M113.6 376.7h1.1M119.7 370.9h1.1M117.9 373.8h1.1M115.9 374.6h1.1M114.9 379.2h1.1M114.1 371.3h1.1M107.8 369.6h1.1M115.5 389.5h1.1M117.6 382.5h1.1M113.4 379.2h1.1M114.9 367.6h1.1M112.5 377.4h1.1M111.7 369.4h1.1M114.2 387.7h1.1M115.2 376.5h1.1M112.5 376.0h1.1M113.7 376.6h1.1M119.0 366.1h1.1M112.7 367.8h1.1M118.9 378.2h1.1M116.3 382.2h1.1M115.2 389.4h1.1M117.5 367.6h1.1M118.7 374.8h1.1M116.4 387.5h1.1M111.6 374.5h1.1M116.6 374.3h1.1M114.9 375.4h1.1M114.0 383.8h1.1M113.4 385.4h1.1M114.2 389.4h1.1M112.8 388.3h1.1M121.0 367.7h1.1M115.1 381.5h1.1M113.5 384.4h1.1M115.2 366.3h1.1M114.9 380.1h1.1M112.1 383.8h1.1M110.2 372.7h1.1M115.8 381.4h1.1M117.6 380.2h1.1M117.7 384.4h1.1M112.1 383.4h1.1M111.8 369.6h1.1M115.9 391.8h1.1M114.3 380.4h1.1M112.3 383.5h1.1M115.6 372.0h1.1M116.8 367.9h1.1M111.6 392.0h1.1M120.4 369.0h1.1M114.4 377.2h1.1M119.3 367.1h1.1M117.1 367.4h1.1M115.4 379.7h1.1M121.3 380.1h1.1M119.0 366.4h1.1M111.1 369.0h1.1M111.9 372.6h1.1M108.8 373.2h1.1M120.5 385.3h1.1M112.1 379.3h1.1M118.1 385.7h1.1M116.2 386.8h1.1M117.0 371.9h1.1M112.5 386.2h1.1M110.7 371.5h1.1M113.7 367.3h1.1M113.1 366.8h1.1M117.3 379.9h1.1M115.4 390.6h1.1M114.1 382.0h1.1M116.9 367.3h1.1M114.8 388.3h1.1M111.0 382.1h1.1M114.3 379.5h1.1M107.4 367.1h1.1M116.6 366.2h1.1M117.8 382.1h1.1M117.3 368.3h1.1M119.0 366.7h1.1M115.1 391.0h1.1M112.5 367.7h1.1M116.2 372.3h1.1M107.3 369.1h1.1M121.6 367.7h1.1M115.2 386.1h1.1M111.6 381.5h1.1M115.9 377.3h1.1M114.5 383.6h1.1M110.5 385.7h1.1M107.3 366.4h1.1M114.8 379.1h1.1M113.7 376.8h1.1M113.3 385.6h1.1M112.2 385.6h1.1M114.5 389.0h1.1M116.4 385.7h1.1M107.0 383.5h1.1M117.2 391.2h1.1M113.9 378.6h1.1M116.5 366.1h1.1M113.8 373.0h1.1M115.9 369.2h1.1M114.3 387.2h1.1M111.9 367.1h1.1M117.6 389.6h1.1M111.9 381.2h1.1M114.2 381.3h1.1M120.2 366.0h1.1M115.8 371.3h1.1M115.9 382.6h1.1M112.7 374.3h1.1M119.4 379.9h1.1M116.2 381.0h1.1M113.8 374.5h1.1M114.8 366.6h1.1M109.2 366.2h1.1M120.8 371.8h1.1M117.2 378.9h1.1M112.7 369.7h1.1M108.8 387.6h1.1M118.3 372.9h1.1M115.7 370.0h1.1M112.0 382.0h1.1M121.2 370.4h1.1M117.1 388.2h1.1M113.4 366.2h1.1M115.4 384.6h1.1M113.4 382.7h1.1M114.1 366.9h1.1M118.1 367.9h1.1M118.2 380.0h1.1M114.0 389.9h1.1M117.2 370.1h1.1M116.0 385.6h1.1M111.2 371.4h1.1M119.8 379.0h1.1M116.4 373.1h1.1M113.9 368.7h1.1M110.3 379.2h1.1M114.6 385.5h1.1M116.8 381.3h1.1M120.4 369.4h1.1M114.3 367.0h1.1M117.9 376.0h1.1M113.0 367.3h1.1M112.5 391.6h1.1M117.8 375.3h1.1M110.0 378.9h1.1M120.2 380.6h1.1M116.8 390.8h1.1M115.8 389.2h1.1M116.4 371.2h1.1M115.3 368.3h1.1M116.2 378.3h1.1M111.9 387.5h1.1M118.5 387.3h1.1M116.4 377.9h1.1M113.1 379.1h1.1M123.4 380.0h1.1M115.5 370.0h1.1M115.8 376.3h1.1M111.3 367.4h1.1M116.0 391.6h1.1M112.2 371.4h1.1M110.7 422.2h1.1M113.8 422.3h1.1M112.3 423.5h1.1M110.5 416.1h1.1M110.6 389.1h1.1M112.4 422.5h1.1M105.7 419.8h1.1M109.9 401.8h1.1M109.6 400.3h1.1M110.1 427.8h1.1M112.6 415.1h1.1M110.9 399.9h1.1M108.6 416.1h1.1M111.7 415.5h1.1M110.0 414.2h1.1M110.8 424.2h1.1M103.5 423.3h1.1M113.1 413.1h1.1M111.6 417.9h1.1M115.2 419.6h1.1M106.6 410.3h1.1M108.9 415.0h1.1M110.0 425.5h1.1M115.5 412.4h1.1M111.2 414.0h1.1M109.2 414.3h1.1M116.7 401.4h1.1M108.8 404.0h1.1M116.3 409.7h1.1M109.2 408.0h1.1M112.8 411.0h1.1M116.2 403.4h1.1M108.9 402.2h1.1M109.7 413.9h1.1M107.8 400.8h1.1M110.7 412.2h1.1M110.2 423.6h1.1M104.0 426.2h1.1M111.1 421.4h1.1M110.8 406.0h1.1M108.2 411.8h1.1M111.0 404.3h1.1M107.3 416.1h1.1M114.2 399.5h1.1M113.8 386.4h1.1M111.5 416.9h1.1M105.3 407.4h1.1M111.4 422.3h1.1M106.4 412.0h1.1M109.3 400.4h1.1M108.1 422.6h1.1M111.9 409.3h1.1M115.0 405.2h1.1M108.7 419.6h1.1M118.1 416.5h1.1M111.5 422.9h1.1M112.9 401.7h1.1M111.7 427.9h1.1M111.1 420.3h1.1M112.3 398.9h1.1M114.3 418.9h1.1M110.9 419.5h1.1M111.7 412.7h1.1M107.3 418.4h1.1M108.0 419.1h1.1M110.4 411.9h1.1M109.7 421.6h1.1M106.6 402.4h1.1M112.0 406.7h1.1M105.8 415.4h1.1M109.2 422.2h1.1M113.4 408.0h1.1M108.4 402.3h1.1M107.3 420.4h1.1M115.3 413.8h1.1M105.6 416.9h1.1M112.2 421.8h1.1M108.5 419.7h1.1M111.3 415.4h1.1M110.0 413.3h1.1M113.1 408.0h1.1M113.3 419.0h1.1M109.6 413.7h1.1M114.2 407.6h1.1M108.3 405.1h1.1M113.1 412.1h1.1M109.4 424.0h1.1M113.6 411.4h1.1M113.0 423.2h1.1M109.2 426.8h1.1M111.3 414.8h1.1M113.9 411.9h1.1M110.9 412.9h1.1M103.9 403.2h1.1M110.9 419.5h1.1M112.4 420.7h1.1M111.1 412.3h1.1M109.6 429.8h1.1M114.4 411.2h1.1M111.3 397.1h1.1M117.4 415.4h1.1M106.9 412.5h1.1M109.1 401.4h1.1M110.8 407.7h1.1M114.0 404.4h1.1M108.8 415.4h1.1M116.0 392.7h1.1M111.7 422.8h1.1M109.4 428.6h1.1M110.3 403.7h1.1M112.6 428.4h1.1M111.5 412.0h1.1M110.4 418.0h1.1M111.5 399.6h1.1M109.9 404.8h1.1M108.6 413.5h1.1M108.0 411.0h1.1M116.3 417.5h1.1M111.5 405.9h1.1M112.0 417.5h1.1M111.1 420.5h1.1M113.3 403.0h1.1M108.3 426.0h1.1M109.0 419.3h1.1M111.6 426.2h1.1M116.3 396.0h1.1M114.6 411.1h1.1M107.6 412.5h1.1M105.5 416.6h1.1M114.1 426.5h1.1M108.7 403.2h1.1M112.6 424.0h1.1M112.5 412.0h1.1M109.8 420.7h1.1M115.7 420.0h1.1M109.4 395.0h1.1M115.8 423.4h1.1M113.4 396.8h1.1M109.1 407.3h1.1M111.7 411.2h1.1M110.3 410.5h1.1M109.5 420.1h1.1M113.1 410.0h1.1M111.5 392.6h1.1M111.8 421.8h1.1M109.8 403.0h1.1M108.3 422.3h1.1M107.2 407.0h1.1M112.7 406.8h1.1M111.9 415.2h1.1M109.6 427.8h1.1M114.1 427.6h1.1M112.1 405.7h1.1M108.5 416.0h1.1M106.3 407.2h1.1M109.2 411.2h1.1M113.8 425.5h1.1M109.0 407.0h1.1M109.3 425.1h1.1M110.5 420.0h1.1M103.8 427.1h1.1M112.2 417.1h1.1M111.1 405.8h1.1M110.0 410.2h1.1M110.9 418.1h1.1M112.2 420.7h1.1M107.2 417.0h1.1M113.8 420.6h1.1M113.8 423.6h1.1M114.0 407.9h1.1M109.1 422.9h1.1M111.5 412.7h1.1M107.1 407.1h1.1M109.6 412.3h1.1M112.5 410.0h1.1M111.7 416.6h1.1M116.0 416.6h1.1M107.9 422.7h1.1M112.8 410.3h1.1M109.8 418.2h1.1M117.3 410.6h1.1M111.8 412.8h1.1M115.5 405.9h1.1M107.8 422.2h1.1M110.1 403.9h1.1M115.9 401.4h1.1M111.5 410.4h1.1M109.3 406.1h1.1M116.6 404.7h1.1M108.0 408.6h1.1M109.9 419.4h1.1M117.2 425.0h1.1M113.5 425.9h1.1M111.9 413.0h1.1M109.2 428.3h1.1M112.3 411.1h1.1M106.2 410.7h1.1M111.4 413.3h1.1M113.4 406.8h1.1M115.0 408.5h1.1M111.0 407.5h1.1M110.3 409.0h1.1M103.5 407.4h1.1M112.3 414.7h1.1M109.7 407.8h1.1M112.7 422.6h1.1M114.4 419.6h1.1M110.6 407.3h1.1M108.8 424.0h1.1M106.1 418.2h1.1M112.6 413.7h1.1M113.8 411.2h1.1M109.3 413.6h1.1M111.1 413.9h1.1M104.7 420.8h1.1M108.7 403.4h1.1M111.7 406.3h1.1M110.7 413.8h1.1M113.7 415.2h1.1M113.8 407.1h1.1M112.8 419.4h1.1M109.8 420.1h1.1M110.6 414.6h1.1M110.2 425.1h1.1M109.1 416.3h1.1M109.2 416.4h1.1M107.1 424.3h1.1M106.4 407.4h1.1M115.0 406.0h1.1M108.8 426.0h1.1M108.8 411.2h1.1M113.1 401.8h1.1M108.9 403.8h1.1M111.0 415.1h1.1M111.3 396.5h1.1M110.6 419.2h1.1M110.4 421.7h1.1M110.2 423.7h1.1M107.3 417.9h1.1M109.9 411.8h1.1M115.0 427.7h1.1M112.0 426.3h1.1M109.5 426.9h1.1M108.7 400.8h1.1M108.5 415.9h1.1M112.2 420.1h1.1M109.3 409.4h1.1M113.1 407.6h1.1M113.9 406.5h1.1M109.4 424.9h1.1M108.8 416.2h1.1M107.3 428.7h1.1M111.0 415.3h1.1M111.7 407.7h1.1M110.7 419.7h1.1M107.8 418.8h1.1M108.2 406.8h1.1M109.5 423.6h1.1M109.8 427.9h1.1M111.3 409.9h1.1M110.6 416.6h1.1M111.8 406.7h1.1M108.0 412.8h1.1M111.6 422.9h1.1M111.3 426.5h1.1M109.0 426.9h1.1M109.8 425.9h1.1M109.4 402.4h1.1M111.0 422.2h1.1M111.3 402.4h1.1M108.2 426.0h1.1M117.3 399.6h1.1M110.0 411.1h1.1M110.4 406.1h1.1M112.8 403.4h1.1M107.0 422.2h1.1M109.5 425.7h1.1M113.0 423.6h1.1M108.9 420.1h1.1M110.5 417.6h1.1M109.4 408.8h1.1M109.6 408.0h1.1M110.3 408.0h1.1M110.5 408.2h1.1M110.1 407.9h1.1M111.7 417.8h1.1M109.0 409.4h1.1M111.8 418.2h1.1M111.4 416.4h1.1M111.3 413.6h1.1M106.2 417.4h1.1M109.1 387.5h1.1M109.0 425.1h1.1M114.4 422.6h1.1M106.7 417.3h1.1M114.1 426.2h1.1M104.4 419.0h1.1M111.7 405.7h1.1M108.7 421.1h1.1M106.7 406.6h1.1M114.0 417.3h1.1M103.5 423.5h1.1M113.1 414.0h1.1M111.0 408.5h1.1M110.7 428.0h1.1M107.8 413.5h1.1M112.7 420.3h1.1M113.3 423.6h1.1M111.5 421.0h1.1M111.7 424.6h1.1M108.7 426.6h1.1M111.7 417.7h1.1M109.6 412.0h1.1M110.2 411.8h1.1M112.0 407.2h1.1M112.0 428.6h1.1M109.2 399.8h1.1M112.2 421.7h1.1M111.0 413.5h1.1M112.0 403.4h1.1M112.5 395.4h1.1M114.5 401.2h1.1M118.0 417.8h1.1M118.8 414.4h1.1M106.8 405.8h1.1M122.4 415.6h1.1M121.0 426.7h1.1M109.8 418.5h1.1M119.4 419.0h1.1M114.1 425.8h1.1M113.1 393.7h1.1M121.7 419.9h1.1M115.9 424.7h1.1M115.2 403.7h1.1M113.0 403.1h1.1M103.9 408.5h1.1M112.6 424.6h1.1M120.8 408.1h1.1M103.3 422.3h1.1M112.1 410.9h1.1M100.4 407.3h1.1M109.1 422.9h1.1M117.3 422.3h1.1M116.6 418.2h1.1M122.9 421.9h1.1M105.9 393.7h1.1M109.2 422.9h1.1M116.0 406.4h1.1M122.8 420.2h1.1M118.0 408.1h1.1M106.3 422.4h1.1M114.5 427.8h1.1M116.5 423.6h1.1M122.9 413.6h1.1M109.7 402.0h1.1M99.4 414.2h1.1M117.1 398.2h1.1M124.5 428.6h1.1M116.6 427.1h1.1M114.2 409.2h1.1M116.8 420.6h1.1M118.3 421.0h1.1M107.9 421.7h1.1M114.0 414.3h1.1M110.0 402.7h1.1M107.8 408.9h1.1M120.8 409.8h1.1M108.9 423.1h1.1M111.1 413.3h1.1M111.7 390.7h1.1M113.4 408.7h1.1M99.8 393.4h1.1M114.8 409.0h1.1M112.1 409.2h1.1M111.1 428.3h1.1M112.8 408.7h1.1M112.5 412.9h1.1M117.6 421.4h1.1M119.0 409.3h1.1M110.8 411.6h1.1M109.4 427.4h1.1M111.9 410.1h1.1M110.8 423.3h1.1M121.8 413.8h1.1M113.0 405.6h1.1M97.7 423.7h1.1M106.7 408.1h1.1M111.3 416.6h1.1M115.8 391.9h1.1M109.9 393.9h1.1M107.5 414.5h1.1M112.1 415.7h1.1M111.5 413.2h1.1M113.5 415.2h1.1M119.6 418.4h1.1M116.3 400.7h1.1M109.3 421.1h1.1M108.3 424.5h1.1M110.8 422.9h1.1M114.2 414.6h1.1M114.9 406.4h1.1M117.0 407.3h1.1M106.6 416.6h1.1M119.5 420.3h1.1M112.7 408.7h1.1M113.4 404.0h1.1M125.3 412.2h1.1M112.4 425.8h1.1M108.5 422.0h1.1M107.0 421.6h1.1M92.5 389.9h1.1M82.6 403.4h1.1M83.6 406.4h1.1M89.7 392.0h1.1M82.4 388.3h1.1M91.7 389.3h1.1M79.9 390.3h1.1M92.0 395.8h1.1M92.1 389.5h1.1M87.5 392.1h1.1M96.1 385.6h1.1M90.7 398.7h1.1M86.0 410.7h1.1M80.1 388.5h1.1M84.9 386.8h1.1M89.6 399.9h1.1M88.5 395.1h1.1M92.1 385.3h1.1M93.5 398.6h1.1M80.7 408.9h1.1M89.7 396.9h1.1M89.6 384.2h1.1M84.4 401.7h1.1M86.7 388.4h1.1M83.2 388.2h1.1M88.4 391.9h1.1M91.4 387.4h1.1M91.8 385.1h1.1M82.5 394.1h1.1M94.0 394.2h1.1M87.8 390.0h1.1M85.2 384.2h1.1M82.6 385.5h1.1M86.3 392.2h1.1M92.1 389.7h1.1M80.7 382.1h1.1M95.0 383.9h1.1M88.8 397.3h1.1M78.0 390.3h1.1M87.5 397.4h1.1M87.3 395.8h1.1M86.9 387.8h1.1M91.3 396.8h1.1M81.1 388.8h1.1M92.4 395.5h1.1M87.0 401.2h1.1M69.7 403.8h1.1M89.5 393.7h1.1M80.3 397.8h1.1M96.8 387.0h1.1M84.2 389.8h1.1M80.3 387.5h1.1M88.1 383.3h1.1M90.3 392.8h1.1M91.9 403.5h1.1M87.9 404.7h1.1M84.3 397.2h1.1M95.4 404.1h1.1M86.7 383.0h1.1M84.9 391.1h1.1M85.9 400.3h1.1M85.5 387.1h1.1M91.5 394.4h1.1M81.0 388.6h1.1M88.9 380.3h1.1M87.8 387.3h1.1M92.5 389.8h1.1M90.6 389.3h1.1M85.9 397.3h1.1M90.8 393.2h1.1M88.7 389.4h1.1M89.4 388.4h1.1M88.9 388.3h1.1M101.0 392.7h1.1M90.2 400.0h1.1M80.8 397.1h1.1M91.8 395.7h1.1M85.3 381.6h1.1M85.4 399.6h1.1M89.5 393.2h1.1M84.0 379.2h1.1M96.1 391.7h1.1M88.1 392.0h1.1M93.9 394.8h1.1M90.8 392.5h1.1M86.1 389.7h1.1M43.5 404.2h1.1M49.6 411.7h1.1M111.7 421.0h1.1M69.2 406.7h1.1M89.9 413.8h1.1M47.5 426.1h1.1M113.5 420.4h1.1M48.2 414.3h1.1M53.1 426.6h1.1M57.0 399.3h1.1M87.2 412.3h1.1M80.8 420.0h1.1M91.4 409.9h1.1M120.3 402.9h1.1M88.3 398.3h1.1M112.4 402.7h1.1M92.0 419.2h1.1M47.9 398.9h1.1M86.2 416.1h1.1M58.2 407.2h1.1M126.3 417.3h1.1M56.2 416.2h1.1M64.7 397.1h1.1M41.3 422.4h1.1M128.1 403.8h1.1M107.0 410.3h1.1M55.0 425.9h1.1M121.3 352.8h1.1M62.2 407.2h1.1M43.3 420.4h1.1M126.0 384.8h1.1M107.9 402.6h1.1" stroke="#000" stroke-width="1.1" fill="none"/>
<rect x="40.80" y="348.20" width="92.20" height="82.80" fill="none" stroke="#000" stroke-width="1.25"/>
<line x1="99.1" y1="348.2" x2="99.1" y2="431.0" stroke="#000" stroke-width="1.1"/>
<line x1="40.8" y1="394.0" x2="133.0" y2="394.0" stroke="#000" stroke-width="1.1"/>
<text x="44.2" y="360.3" font-size="10.2">0.7</text>
<text x="65.5" y="360.3" font-size="10.2">40.6</text>
<text x="42.6" y="374.1" font-size="10.2">46.9</text>
<text x="66.2" y="374.1" font-size="10.2">11.8</text>
<line x1="42.8" y1="363.2" x2="86.6" y2="363.2" stroke="#000" stroke-width="1.0"/>
<line x1="64.7" y1="349.4" x2="64.7" y2="376.6" stroke="#000" stroke-width="1.0"/>
<path d="M167.1 424.4h1.1M169.4 410.2h1.1M158.2 428.5h1.1M165.5 413.2h1.1M165.2 428.2h1.1M179.5 417.5h1.1M170.5 412.4h1.1M158.9 424.6h1.1M154.4 418.3h1.1M155.8 429.1h1.1M204.6 411.5h1.1M152.1 426.2h1.1M156.7 416.1h1.1M171.3 420.9h1.1M179.5 413.3h1.1M159.8 423.4h1.1M153.3 416.4h1.1M153.1 429.4h1.1M158.4 418.6h1.1M166.0 421.2h1.1M169.6 417.7h1.1M165.2 417.5h1.1M174.7 426.4h1.1M168.7 419.5h1.1M152.9 427.9h1.1M167.5 406.3h1.1M155.8 407.7h1.1M169.3 420.4h1.1M159.1 416.7h1.1M159.5 409.4h1.1M166.8 413.6h1.1M164.0 425.1h1.1M171.7 411.5h1.1M170.5 426.9h1.1M163.0 416.0h1.1M156.0 416.9h1.1M163.8 425.0h1.1M180.1 429.1h1.1M163.2 428.2h1.1M178.0 414.6h1.1M146.1 423.1h1.1M174.4 422.5h1.1M174.8 425.5h1.1M176.2 418.1h1.1M145.6 409.5h1.1M165.6 412.2h1.1M163.3 413.7h1.1M175.8 421.2h1.1M161.0 425.6h1.1M166.8 420.2h1.1M190.5 424.5h1.1M176.8 425.6h1.1M172.7 420.6h1.1M170.8 406.0h1.1M166.7 418.0h1.1M200.6 423.7h1.1M154.4 420.7h1.1M176.0 416.5h1.1M169.2 423.6h1.1M158.8 422.5h1.1M145.3 428.8h1.1M159.2 416.7h1.1M169.6 416.0h1.1M177.6 419.7h1.1M172.7 428.8h1.1M179.7 413.5h1.1M170.2 413.6h1.1M175.4 413.7h1.1M177.3 416.8h1.1M172.1 406.4h1.1M146.9 423.6h1.1M172.8 403.3h1.1M175.1 428.6h1.1M171.0 429.0h1.1M165.1 417.3h1.1M154.5 413.3h1.1M175.4 415.5h1.1M145.3 422.9h1.1M180.3 416.6h1.1M176.4 416.7h1.1M159.0 407.4h1.1M157.2 421.2h1.1M145.6 429.2h1.1M194.7 426.2h1.1M172.3 423.1h1.1M167.1 429.2h1.1M187.1 401.4h1.1M186.5 418.9h1.1M179.0 418.9h1.1M161.4 427.8h1.1M179.9 404.0h1.1M151.5 428.8h1.1M174.1 423.1h1.1M175.6 421.2h1.1M180.9 424.6h1.1M165.2 419.2h1.1M149.2 423.7h1.1M166.0 400.6h1.1M169.2 420.4h1.1M171.6 421.7h1.1M152.0 419.9h1.1M181.8 427.7h1.1M153.4 417.1h1.1M178.2 418.2h1.1M165.5 427.8h1.1M171.5 425.5h1.1M160.9 409.8h1.1M165.8 414.6h1.1M155.7 415.7h1.1M146.6 409.7h1.1M184.4 414.4h1.1M177.3 420.5h1.1M174.3 429.1h1.1M154.4 423.3h1.1M152.2 423.4h1.1M183.8 423.4h1.1M156.5 421.6h1.1M158.0 420.2h1.1M174.8 425.4h1.1M172.0 424.6h1.1M157.6 428.5h1.1M171.2 416.1h1.1M166.9 416.3h1.1M147.8 420.4h1.1M172.5 423.9h1.1M165.5 412.7h1.1M164.6 418.4h1.1M151.2 419.3h1.1M171.9 419.4h1.1M172.2 421.5h1.1M168.9 415.3h1.1M168.3 425.3h1.1M168.1 420.4h1.1M153.8 422.5h1.1M176.5 418.6h1.1M173.5 413.2h1.1M162.9 416.0h1.1M157.8 411.7h1.1M152.0 426.6h1.1M152.9 419.9h1.1M174.9 428.6h1.1M161.2 414.1h1.1M170.2 421.7h1.1M160.7 425.0h1.1M181.7 407.9h1.1M168.4 413.2h1.1M175.0 412.8h1.1M156.0 411.3h1.1M172.1 428.5h1.1M162.6 424.3h1.1M188.6 429.1h1.1M147.0 427.2h1.1M158.5 418.3h1.1M166.5 410.6h1.1M181.8 417.7h1.1M165.9 427.6h1.1M160.3 413.3h1.1M188.8 418.6h1.1M174.2 425.2h1.1M145.9 404.7h1.1M191.3 426.5h1.1M164.7 417.8h1.1M172.9 417.5h1.1M156.3 425.9h1.1M165.3 420.5h1.1M175.7 407.1h1.1M175.2 422.8h1.1M152.7 409.3h1.1M175.1 419.9h1.1M171.1 427.2h1.1M164.9 417.8h1.1M176.4 424.0h1.1M165.0 417.6h1.1M158.1 425.1h1.1M156.8 412.2h1.1M177.8 412.7h1.1M178.8 410.8h1.1M167.1 416.9h1.1M170.2 417.3h1.1M164.7 421.0h1.1M173.8 409.1h1.1M168.6 417.8h1.1M178.3 421.0h1.1M188.1 418.9h1.1M193.9 422.2h1.1M160.2 417.1h1.1M174.4 411.5h1.1M187.8 426.4h1.1M180.3 425.2h1.1M166.4 406.6h1.1M170.6 422.0h1.1M164.2 414.4h1.1M177.1 419.1h1.1M154.0 419.8h1.1M180.0 424.7h1.1M167.9 419.2h1.1M178.2 418.2h1.1M168.0 414.2h1.1M183.9 426.2h1.1M175.9 425.1h1.1M157.8 421.1h1.1M160.0 416.2h1.1M164.0 417.5h1.1M161.2 428.2h1.1M156.6 415.8h1.1M154.0 410.4h1.1M159.2 424.8h1.1M173.7 416.9h1.1M184.0 416.4h1.1M175.2 426.7h1.1M173.2 429.1h1.1M174.4 406.8h1.1M162.0 418.9h1.1M158.0 415.9h1.1M166.9 423.7h1.1M159.2 413.5h1.1M167.3 409.8h1.1M176.9 409.1h1.1M161.5 415.5h1.1M182.9 421.4h1.1M165.4 415.3h1.1M177.8 405.7h1.1M172.0 414.3h1.1M164.8 417.4h1.1M186.8 410.0h1.1M168.8 422.4h1.1M173.8 416.3h1.1M170.7 426.5h1.1M165.9 417.9h1.1M153.8 417.5h1.1M161.5 415.7h1.1M146.6 402.5h1.1M169.1 418.1h1.1M181.7 411.9h1.1M175.4 411.3h1.1M156.8 416.1h1.1M185.4 421.2h1.1M170.0 411.2h1.1M179.0 414.6h1.1M154.3 409.6h1.1M154.1 416.6h1.1M152.0 425.3h1.1M162.5 419.4h1.1M162.2 425.4h1.1M185.6 417.8h1.1M181.0 423.2h1.1M173.0 428.2h1.1M150.1 421.0h1.1M163.4 407.9h1.1M179.5 420.9h1.1M164.3 414.1h1.1M156.0 428.7h1.1M168.6 424.7h1.1M154.1 418.0h1.1M153.6 417.4h1.1M146.5 422.5h1.1M163.4 426.2h1.1M146.8 418.7h1.1M193.9 418.7h1.1M174.7 424.7h1.1M178.0 428.5h1.1M170.7 424.5h1.1M160.1 417.7h1.1M176.2 421.2h1.1M175.5 413.0h1.1M176.5 419.2h1.1M165.7 420.8h1.1M174.6 420.4h1.1M167.9 409.7h1.1M169.9 403.4h1.1M168.0 415.9h1.1M177.6 425.4h1.1M177.6 428.2h1.1M159.4 417.6h1.1M160.6 429.0h1.1M177.2 423.5h1.1M187.0 416.0h1.1M176.8 424.2h1.1M178.6 408.9h1.1M170.7 416.3h1.1M168.7 425.8h1.1M175.2 414.2h1.1M157.4 418.3h1.1M166.5 415.9h1.1M168.1 425.8h1.1M158.5 416.8h1.1M166.0 421.4h1.1M172.7 422.7h1.1M172.7 419.8h1.1M194.3 427.6h1.1M188.2 413.4h1.1M160.4 424.7h1.1M149.4 420.7h1.1M156.5 413.4h1.1M164.8 417.0h1.1M156.3 413.1h1.1M154.8 427.2h1.1M168.2 410.0h1.1M175.4 418.2h1.1M179.8 423.8h1.1M174.9 417.6h1.1M145.4 417.0h1.1M166.3 425.0h1.1M174.7 410.2h1.1M155.9 428.4h1.1M157.4 412.0h1.1M168.0 427.1h1.1M176.3 429.1h1.1M164.5 417.6h1.1M160.9 420.8h1.1M170.9 424.1h1.1M154.2 415.2h1.1M178.4 417.3h1.1M167.8 423.1h1.1M184.1 429.2h1.1M154.3 413.7h1.1M176.4 428.8h1.1M149.8 422.6h1.1M169.8 420.9h1.1M146.3 409.8h1.1M169.3 428.6h1.1M172.0 422.4h1.1M177.3 410.9h1.1M174.5 416.1h1.1M157.3 418.7h1.1M170.8 417.0h1.1M185.6 417.1h1.1M168.7 426.8h1.1M183.0 416.7h1.1M180.0 419.3h1.1M146.6 410.3h1.1M177.4 424.0h1.1M165.9 418.0h1.1M173.2 422.0h1.1M167.9 418.6h1.1M179.1 420.6h1.1M146.6 423.6h1.1M170.2 421.4h1.1M162.1 411.8h1.1M176.7 424.5h1.1M162.1 425.7h1.1M170.8 413.5h1.1M147.7 407.2h1.1M162.2 413.9h1.1M154.6 416.2h1.1M160.5 413.8h1.1M178.0 428.1h1.1M171.2 418.1h1.1M173.2 416.0h1.1M165.2 418.7h1.1M154.8 423.3h1.1M178.2 427.4h1.1M175.7 411.7h1.1M173.5 418.0h1.1M180.1 414.6h1.1M165.8 428.6h1.1M167.1 408.2h1.1M156.7 419.2h1.1M173.9 429.2h1.1M175.6 421.8h1.1M156.5 416.8h1.1M170.7 415.7h1.1M149.7 420.8h1.1M150.6 409.4h1.1M172.1 428.5h1.1M169.0 412.7h1.1M165.5 428.3h1.1M171.7 429.1h1.1M171.9 428.3h1.1M154.1 420.9h1.1M165.4 416.4h1.1M159.7 416.3h1.1M163.3 420.1h1.1M175.6 420.8h1.1M165.6 413.5h1.1M176.2 413.5h1.1M178.5 423.7h1.1M168.9 425.9h1.1M159.6 412.6h1.1M168.9 426.9h1.1M161.5 424.2h1.1M188.0 417.6h1.1M150.8 425.4h1.1M169.1 414.6h1.1M177.9 425.8h1.1M180.6 424.5h1.1M176.6 423.5h1.1M154.8 413.4h1.1M181.0 415.7h1.1M156.2 427.8h1.1M168.4 417.2h1.1M171.1 422.8h1.1M170.4 428.6h1.1M165.0 417.6h1.1M164.9 426.1h1.1M163.2 422.4h1.1M146.3 411.5h1.1M192.8 416.2h1.1M177.4 416.2h1.1M167.9 413.7h1.1M159.0 424.4h1.1M173.1 423.7h1.1M145.3 419.1h1.1M145.6 418.4h1.1M167.6 427.1h1.1M158.7 426.5h1.1M160.6 428.3h1.1M188.9 419.2h1.1M167.8 415.8h1.1M168.8 418.0h1.1M166.0 420.0h1.1M163.0 421.8h1.1M174.8 427.6h1.1M162.0 411.7h1.1M177.7 416.9h1.1M179.3 406.5h1.1M161.0 406.4h1.1M163.9 413.5h1.1M177.4 424.1h1.1M165.4 418.3h1.1M180.0 412.7h1.1M196.3 415.9h1.1M160.5 408.9h1.1M186.9 423.5h1.1M172.2 417.0h1.1M169.9 415.0h1.1M174.4 405.4h1.1M172.1 415.6h1.1M157.3 418.2h1.1M157.1 409.0h1.1M175.2 418.7h1.1M177.9 426.2h1.1M178.1 429.3h1.1M152.0 425.7h1.1M145.8 419.5h1.1M153.5 416.5h1.1M167.5 427.2h1.1M159.3 416.2h1.1M172.3 418.4h1.1M168.8 422.9h1.1M168.3 420.4h1.1M179.8 416.3h1.1M161.5 418.1h1.1M157.6 428.9h1.1M176.0 425.7h1.1M168.1 422.4h1.1M160.9 414.3h1.1M160.2 426.8h1.1M147.7 414.2h1.1M167.6 412.4h1.1M163.4 417.2h1.1M172.0 420.3h1.1M152.3 420.4h1.1M188.1 424.5h1.1M173.4 421.6h1.1M184.2 413.5h1.1M146.4 402.3h1.1M150.3 421.3h1.1M154.0 418.8h1.1M162.6 429.2h1.1M166.3 410.1h1.1M168.3 413.0h1.1M149.4 412.9h1.1M164.4 417.8h1.1M174.8 413.8h1.1M166.6 424.4h1.1M171.4 418.5h1.1M169.5 424.9h1.1M174.3 411.8h1.1M174.3 428.4h1.1M178.1 422.3h1.1M162.4 418.5h1.1M175.4 419.5h1.1M162.6 408.7h1.1M157.6 420.9h1.1M168.2 421.9h1.1M171.1 417.1h1.1M186.3 416.1h1.1M168.6 413.6h1.1M178.3 408.3h1.1M166.3 429.0h1.1M178.2 429.2h1.1M159.2 424.1h1.1M181.4 424.2h1.1M146.5 426.1h1.1M174.1 419.4h1.1M160.1 428.6h1.1M169.5 422.1h1.1M154.7 404.4h1.1M153.2 418.1h1.1M160.5 412.9h1.1M157.2 423.1h1.1M159.7 424.3h1.1M173.3 399.8h1.1M157.3 415.3h1.1M168.2 425.8h1.1M178.6 420.0h1.1M170.6 425.4h1.1M181.7 410.7h1.1M183.8 414.4h1.1M159.7 411.5h1.1M145.5 422.3h1.1M174.2 422.5h1.1M170.9 427.3h1.1M170.5 424.1h1.1M161.1 424.4h1.1M172.5 414.7h1.1M154.7 420.9h1.1M169.6 406.2h1.1M169.3 419.7h1.1M155.6 428.1h1.1M147.6 418.3h1.1M166.8 416.1h1.1M183.7 422.6h1.1M178.8 424.7h1.1M181.6 406.7h1.1M157.2 419.6h1.1M177.1 424.8h1.1M165.2 417.9h1.1M168.2 415.4h1.1M198.2 410.7h1.1M167.5 420.5h1.1M189.1 411.1h1.1M157.8 428.4h1.1M196.6 424.9h1.1M166.9 415.9h1.1M182.6 408.3h1.1M181.2 418.9h1.1M172.3 416.4h1.1M190.1 411.8h1.1M193.1 415.7h1.1M158.9 424.4h1.1M189.5 407.4h1.1M165.4 420.2h1.1M146.6 425.7h1.1M207.0 423.7h1.1M185.9 413.0h1.1M202.5 413.6h1.1M163.9 413.8h1.1M193.8 413.3h1.1M149.9 422.6h1.1M158.1 413.3h1.1M151.5 424.0h1.1M162.7 411.4h1.1M164.6 410.3h1.1M197.0 400.7h1.1M175.5 411.8h1.1M178.3 411.8h1.1M159.4 415.5h1.1M152.0 414.6h1.1M183.5 407.3h1.1M168.1 428.3h1.1M186.8 418.9h1.1M191.5 424.5h1.1M168.0 419.5h1.1M180.3 416.5h1.1M165.4 401.1h1.1M199.0 426.2h1.1M184.6 408.5h1.1M146.2 401.0h1.1M153.4 428.7h1.1M163.0 428.7h1.1M162.8 410.9h1.1M188.0 422.2h1.1M172.6 417.0h1.1M166.4 422.3h1.1M166.9 426.8h1.1M189.6 416.5h1.1M184.0 426.0h1.1M172.6 416.8h1.1M189.9 418.6h1.1M165.1 422.2h1.1M154.4 421.3h1.1M186.2 412.2h1.1M170.2 409.5h1.1M152.1 406.0h1.1M159.2 423.7h1.1M166.4 412.8h1.1M167.1 399.6h1.1M178.1 418.3h1.1M172.0 423.5h1.1M187.4 409.4h1.1M204.6 398.0h1.1M156.7 401.0h1.1M184.9 417.6h1.1M171.0 416.2h1.1M156.2 415.0h1.1M150.3 414.7h1.1M161.3 420.1h1.1M152.7 428.9h1.1M170.6 416.2h1.1M164.5 408.7h1.1M146.3 419.5h1.1M171.2 418.7h1.1M192.3 410.7h1.1M163.1 423.3h1.1M146.0 419.8h1.1M146.2 412.5h1.1M166.3 418.6h1.1M166.3 418.4h1.1M162.3 410.2h1.1M165.8 400.9h1.1M192.2 414.7h1.1M149.2 417.2h1.1M162.8 406.0h1.1M170.3 420.5h1.1M185.0 402.8h1.1M179.0 429.0h1.1M198.8 423.3h1.1M146.4 411.6h1.1M146.5 416.8h1.1M174.5 420.3h1.1M158.4 412.4h1.1M205.8 407.6h1.1M190.1 417.4h1.1M166.2 428.7h1.1M202.4 421.7h1.1M196.6 399.2h1.1M184.6 411.3h1.1M190.9 400.7h1.1M146.9 416.4h1.1M174.0 421.8h1.1M196.4 410.1h1.1M185.4 412.6h1.1M172.9 415.7h1.1M157.3 419.8h1.1M162.6 428.7h1.1M155.2 405.9h1.1M193.1 428.7h1.1M161.2 404.7h1.1M154.3 403.3h1.1M169.6 409.5h1.1M184.8 420.3h1.1M182.0 411.4h1.1M164.4 405.8h1.1M188.5 411.9h1.1M145.5 405.8h1.1M182.4 429.0h1.1M145.8 419.7h1.1M179.2 424.2h1.1M160.3 419.8h1.1M157.1 412.9h1.1M169.7 418.2h1.1M162.6 411.4h1.1M149.4 415.5h1.1M197.0 395.2h1.1M178.2 405.1h1.1M159.7 412.1h1.1M149.0 399.4h1.1M169.7 426.0h1.1M152.8 407.7h1.1M180.4 422.3h1.1M155.2 401.5h1.1M185.1 402.9h1.1M156.4 402.7h1.1M164.3 423.8h1.1M175.0 415.0h1.1M150.5 419.6h1.1M165.7 419.7h1.1M181.8 401.5h1.1M192.9 420.0h1.1M149.3 427.4h1.1M190.1 419.4h1.1M185.1 410.6h1.1M189.7 428.7h1.1M151.2 425.3h1.1M178.3 424.3h1.1M184.0 421.0h1.1M145.3 418.6h1.1M166.7 417.1h1.1M175.6 429.3h1.1M150.3 405.2h1.1M182.0 429.0h1.1M146.0 425.2h1.1M159.5 410.1h1.1M184.5 426.6h1.1M166.9 414.6h1.1M173.2 410.6h1.1M186.8 407.8h1.1M187.9 415.9h1.1M176.6 428.4h1.1M170.5 426.5h1.1M182.2 410.7h1.1M155.3 408.8h1.1M181.0 425.2h1.1M164.2 423.5h1.1M145.4 399.1h1.1M166.4 424.3h1.1M170.4 409.7h1.1M190.4 414.8h1.1M152.2 410.8h1.1M187.1 428.5h1.1M173.4 413.6h1.1M200.7 402.8h1.1M145.7 412.1h1.1M175.6 419.0h1.1M208.1 421.8h1.1M178.3 429.4h1.1M172.5 428.5h1.1M161.6 421.9h1.1M196.8 427.1h1.1M157.6 417.6h1.1M147.5 413.5h1.1M184.6 429.2h1.1M159.7 412.2h1.1M174.5 401.9h1.1M182.0 421.7h1.1M178.7 410.3h1.1M146.5 407.8h1.1M154.9 409.9h1.1M158.8 413.3h1.1M160.7 415.5h1.1M158.1 428.5h1.1M176.1 405.8h1.1M179.0 405.0h1.1M181.8 425.8h1.1M191.2 402.2h1.1M189.6 428.3h1.1M167.6 423.6h1.1M181.4 415.5h1.1M145.6 420.6h1.1M158.4 415.1h1.1M165.2 417.6h1.1M158.7 423.5h1.1M157.4 424.8h1.1M193.0 427.4h1.1M167.3 416.6h1.1M179.2 419.9h1.1M183.9 408.0h1.1M150.3 400.8h1.1M174.8 406.5h1.1M146.6 409.6h1.1M167.9 408.8h1.1M178.1 421.0h1.1M190.5 420.0h1.1M166.4 413.8h1.1M166.5 399.8h1.1M147.6 428.4h1.1M174.8 407.2h1.1M192.8 428.9h1.1M174.7 428.5h1.1M160.7 413.8h1.1M181.3 427.2h1.1M193.2 419.6h1.1M154.9 414.7h1.1M146.7 424.8h1.1M176.1 426.5h1.1M155.0 416.8h1.1M161.8 416.4h1.1M171.9 387.0h1.1M176.2 414.4h1.1M167.8 412.1h1.1M168.2 399.3h1.1M165.8 428.6h1.1M183.7 406.1h1.1M167.6 408.5h1.1M188.8 412.1h1.1M173.4 428.7h1.1M196.0 409.6h1.1M151.0 416.3h1.1M169.2 413.3h1.1M180.2 429.1h1.1M153.3 416.0h1.1M145.3 419.0h1.1M187.4 422.4h1.1M172.8 417.9h1.1M175.4 413.9h1.1M156.3 429.4h1.1M152.1 406.8h1.1M173.5 418.7h1.1M201.3 420.0h1.1M178.4 420.6h1.1M151.9 415.0h1.1M169.7 413.1h1.1M183.7 423.1h1.1M169.4 408.3h1.1M145.9 423.5h1.1M145.4 414.9h1.1M192.0 411.1h1.1M210.2 420.2h1.1M187.7 408.2h1.1M145.5 415.6h1.1M175.4 423.7h1.1M168.6 409.7h1.1M201.2 415.2h1.1M180.0 420.8h1.1M173.2 413.0h1.1M149.7 422.4h1.1M163.0 422.7h1.1M169.2 407.2h1.1M155.8 421.6h1.1M145.9 402.9h1.1M184.8 428.7h1.1M197.3 415.7h1.1M170.0 429.2h1.1M192.8 429.0h1.1M192.7 415.2h1.1M195.2 416.1h1.1M202.2 419.4h1.1M151.0 428.3h1.1M188.0 417.2h1.1M174.7 414.1h1.1M170.4 412.1h1.1M163.1 420.2h1.1M183.4 417.5h1.1M150.4 414.9h1.1M193.3 413.1h1.1M154.6 401.3h1.1M187.1 424.7h1.1M182.4 416.9h1.1M159.9 429.1h1.1M160.7 418.9h1.1M184.0 420.0h1.1M158.3 428.5h1.1M208.3 413.3h1.1M163.3 414.1h1.1M162.5 424.6h1.1M169.7 417.8h1.1M165.9 422.9h1.1M154.9 424.6h1.1M173.7 425.5h1.1M181.9 398.6h1.1M164.2 415.9h1.1M204.7 395.5h1.1M152.1 415.6h1.1M212.5 415.7h1.1M185.6 422.4h1.1M176.4 405.7h1.1M146.8 424.7h1.1M155.0 403.8h1.1M156.1 417.1h1.1M196.0 428.5h1.1M193.4 419.7h1.1M178.6 410.4h1.1M191.8 426.9h1.1M178.3 416.7h1.1M181.7 411.2h1.1M162.6 420.9h1.1M183.5 428.8h1.1M204.7 414.4h1.1M173.9 408.7h1.1M172.6 405.3h1.1M171.8 428.9h1.1M152.0 404.6h1.1M168.5 416.0h1.1M156.2 414.0h1.1M167.5 402.3h1.1M176.9 420.9h1.1M224.8 422.6h1.1M161.0 407.3h1.1M146.7 418.7h1.1M232.3 419.2h1.1M170.8 426.0h1.1M172.0 429.2h1.1M177.9 426.6h1.1M167.2 420.0h1.1M163.5 401.1h1.1M160.6 398.0h1.1M167.2 420.3h1.1M200.3 417.9h1.1M189.8 422.0h1.1M166.0 414.5h1.1M198.4 405.3h1.1M170.6 426.9h1.1M176.4 421.2h1.1M181.1 428.9h1.1M153.0 416.4h1.1M145.7 396.3h1.1M166.6 406.5h1.1M183.0 417.6h1.1M150.5 419.3h1.1M165.1 424.0h1.1M192.1 407.7h1.1M147.8 419.7h1.1M168.7 428.8h1.1M207.5 405.4h1.1M166.2 404.2h1.1M171.7 427.5h1.1M171.9 399.8h1.1M195.9 416.9h1.1M146.3 410.1h1.1M171.8 411.3h1.1M194.8 419.5h1.1M171.9 429.0h1.1M160.0 419.4h1.1M161.7 413.7h1.1M165.2 428.3h1.1M176.4 416.6h1.1M146.5 409.8h1.1M167.2 421.6h1.1M207.7 395.6h1.1M146.4 398.9h1.1M178.7 413.2h1.1M146.4 412.1h1.1M146.7 420.7h1.1M156.2 414.5h1.1M172.3 413.5h1.1M180.3 410.2h1.1M197.9 407.7h1.1M179.4 424.9h1.1M184.3 412.3h1.1M149.7 412.6h1.1M151.0 427.8h1.1M146.7 419.2h1.1M164.0 411.7h1.1M196.6 418.5h1.1M162.3 413.3h1.1M171.3 428.2h1.1M172.4 423.8h1.1M160.4 412.6h1.1M157.2 408.5h1.1M170.6 418.5h1.1M173.5 423.8h1.1M155.8 420.6h1.1M189.8 402.9h1.1M166.2 428.4h1.1M166.3 408.2h1.1M176.4 414.0h1.1M172.8 415.8h1.1M174.6 408.4h1.1M173.6 427.9h1.1M188.7 408.9h1.1M146.1 429.0h1.1M159.7 429.1h1.1M182.1 416.3h1.1M165.9 427.0h1.1M207.5 419.1h1.1M161.7 422.2h1.1M163.1 409.8h1.1M146.6 427.0h1.1M176.9 416.9h1.1M193.2 420.0h1.1M149.9 417.4h1.1M159.2 422.6h1.1M169.6 407.4h1.1M150.8 422.4h1.1M175.5 409.1h1.1M166.5 426.0h1.1M178.7 428.2h1.1M154.6 416.1h1.1M218.9 363.4h1.1M224.5 365.2h1.1M226.6 364.2h1.1M214.8 363.2h1.1M225.0 360.0h1.1M223.3 363.2h1.1M216.6 365.7h1.1M224.5 367.0h1.1M224.4 367.8h1.1M223.7 361.3h1.1M214.0 364.3h1.1M219.7 366.0h1.1M228.9 365.0h1.1M219.0 367.1h1.1M225.9 365.7h1.1M226.2 364.4h1.1M218.8 365.4h1.1M219.8 367.3h1.1M219.1 362.9h1.1M226.1 359.8h1.1M212.2 361.2h1.1M210.4 364.8h1.1M224.5 363.3h1.1M222.8 364.8h1.1M216.4 363.3h1.1M224.7 364.7h1.1M225.6 363.9h1.1M216.5 358.3h1.1M218.9 357.8h1.1M214.8 364.4h1.1M220.5 362.7h1.1M219.8 362.1h1.1M221.0 366.3h1.1M223.1 366.5h1.1M221.3 362.8h1.1M218.2 366.2h1.1M226.9 362.5h1.1M224.1 366.0h1.1M220.1 362.8h1.1M222.9 364.9h1.1M215.7 366.1h1.1M216.1 366.1h1.1M218.6 361.8h1.1M226.0 362.8h1.1M231.2 366.8h1.1M221.7 362.4h1.1M212.7 367.1h1.1M230.1 365.9h1.1M217.4 366.3h1.1M221.7 363.8h1.1M216.0 362.4h1.1M216.8 366.7h1.1M215.8 366.5h1.1M209.9 362.2h1.1M230.0 358.1h1.1M219.1 362.5h1.1M214.0 366.0h1.1M226.4 364.0h1.1M228.1 365.9h1.1M213.6 363.7h1.1M223.5 364.0h1.1M219.4 361.6h1.1M231.6 363.9h1.1M217.1 362.5h1.1M217.9 363.6h1.1M218.4 364.1h1.1M217.6 361.1h1.1M229.1 359.5h1.1M220.4 367.2h1.1M224.3 364.5h1.1M216.6 364.8h1.1M224.9 362.0h1.1M223.0 363.4h1.1M225.2 363.1h1.1M222.1 363.7h1.1M211.2 365.4h1.1M227.4 366.1h1.1M213.1 362.9h1.1M216.7 364.9h1.1M228.5 361.7h1.1M215.7 363.7h1.1M222.8 361.0h1.1M222.9 364.8h1.1M217.6 361.3h1.1M219.1 364.0h1.1M219.3 364.2h1.1M221.8 363.9h1.1M227.2 365.5h1.1M211.1 363.9h1.1M213.6 367.4h1.1M226.7 364.6h1.1M227.4 365.5h1.1M231.6 364.0h1.1M213.0 365.3h1.1M219.4 365.7h1.1M217.5 366.5h1.1M214.7 366.0h1.1M220.4 363.4h1.1M217.0 366.7h1.1M226.4 364.8h1.1M228.5 359.8h1.1M222.0 363.8h1.1M220.7 368.6h1.1M227.0 365.7h1.1M226.9 367.4h1.1M222.8 362.6h1.1M215.0 360.7h1.1M219.5 363.3h1.1M217.2 362.7h1.1M214.6 368.0h1.1M214.8 365.3h1.1M216.8 364.8h1.1M211.1 360.0h1.1M227.0 366.7h1.1M220.1 363.4h1.1M213.4 364.8h1.1M212.9 363.0h1.1M221.0 362.7h1.1M229.4 363.3h1.1M218.1 365.5h1.1M218.8 364.6h1.1M228.4 362.2h1.1M218.1 363.6h1.1M219.6 367.3h1.1M208.1 366.4h1.1M215.5 365.6h1.1M225.3 363.1h1.1M209.8 368.1h1.1M219.5 367.1h1.1M226.0 362.9h1.1M218.2 363.7h1.1M219.8 363.5h1.1M226.2 362.8h1.1M216.5 367.9h1.1M220.3 362.5h1.1M221.4 362.2h1.1M220.9 364.4h1.1M222.4 362.3h1.1M219.1 361.0h1.1M221.2 363.7h1.1M220.0 365.9h1.1M223.0 361.7h1.1M224.7 363.7h1.1M228.3 367.8h1.1M216.1 363.9h1.1M220.0 364.5h1.1M213.5 362.3h1.1M216.1 366.7h1.1M226.1 366.4h1.1M222.9 361.8h1.1M213.8 363.8h1.1M221.6 362.5h1.1M217.4 366.2h1.1M226.0 363.5h1.1M217.6 363.0h1.1M223.0 360.4h1.1M216.2 362.4h1.1M217.3 362.9h1.1M218.2 370.8h1.1M214.7 365.8h1.1M222.6 366.0h1.1M231.8 363.1h1.1M215.6 361.8h1.1M209.6 357.3h1.1M220.6 362.3h1.1M220.5 365.8h1.1M216.2 362.2h1.1M218.7 367.8h1.1M220.4 368.0h1.1M219.1 363.1h1.1M224.8 365.1h1.1M223.4 363.1h1.1M212.9 361.0h1.1M218.6 360.3h1.1M224.3 362.4h1.1M218.8 363.2h1.1M213.7 363.3h1.1M230.3 361.1h1.1M213.8 365.3h1.1M222.6 361.1h1.1M209.6 358.9h1.1M218.1 362.9h1.1M215.6 365.8h1.1M223.0 361.0h1.1M221.6 361.7h1.1M219.0 359.6h1.1M213.9 368.2h1.1M220.3 363.8h1.1M220.2 364.3h1.1M217.6 365.7h1.1M221.8 361.8h1.1M212.0 364.5h1.1M219.0 365.7h1.1M220.9 366.2h1.1M219.0 361.1h1.1M225.9 365.6h1.1M224.0 363.6h1.1M222.3 367.0h1.1M224.1 367.3h1.1M214.8 361.8h1.1M229.2 362.1h1.1M216.5 366.7h1.1M231.0 363.9h1.1M221.0 362.1h1.1M225.1 363.2h1.1M222.5 359.6h1.1M226.5 364.4h1.1M222.8 365.0h1.1M222.3 361.8h1.1M229.8 362.8h1.1M221.1 364.7h1.1M221.3 364.3h1.1M224.1 363.1h1.1M216.6 364.0h1.1M224.6 366.1h1.1M219.0 366.6h1.1M228.4 366.2h1.1M222.9 365.5h1.1M213.3 363.9h1.1M220.7 361.6h1.1M223.5 366.4h1.1M222.0 362.8h1.1M217.4 363.7h1.1M225.1 363.9h1.1M219.0 361.4h1.1M216.0 363.9h1.1M223.2 361.9h1.1M221.4 369.0h1.1M228.7 362.8h1.1M211.8 364.3h1.1M211.6 362.7h1.1M228.1 363.3h1.1M219.4 366.3h1.1M219.1 362.5h1.1M216.5 361.5h1.1M221.7 364.8h1.1M220.2 364.5h1.1M223.7 360.6h1.1M225.0 364.1h1.1M216.2 364.4h1.1M224.8 366.2h1.1M224.5 363.4h1.1M218.7 365.0h1.1M217.3 364.5h1.1M218.9 367.1h1.1M229.8 366.2h1.1M224.3 364.2h1.1M211.9 367.4h1.1M224.0 368.9h1.1M221.8 361.2h1.1M221.6 369.0h1.1M226.2 367.2h1.1M222.8 362.6h1.1M217.2 368.0h1.1M218.4 364.3h1.1M220.1 362.8h1.1M218.0 359.1h1.1M216.4 360.1h1.1M226.1 362.7h1.1M225.3 361.5h1.1M217.3 363.1h1.1M221.8 360.1h1.1M224.9 363.8h1.1M211.0 362.6h1.1M227.6 365.3h1.1M221.7 364.1h1.1M222.4 365.2h1.1M220.6 370.0h1.1M225.5 365.2h1.1M212.8 365.3h1.1M219.5 364.9h1.1M225.6 361.7h1.1M223.1 362.5h1.1M224.0 362.4h1.1M217.0 367.1h1.1M225.7 362.2h1.1M226.2 362.0h1.1M216.7 364.9h1.1M227.6 362.7h1.1M221.9 366.0h1.1M226.4 364.5h1.1M222.8 362.6h1.1M227.6 365.1h1.1M220.2 363.2h1.1M220.1 364.6h1.1M223.8 363.5h1.1M219.8 362.9h1.1M221.7 364.6h1.1M220.7 363.2h1.1M217.5 361.3h1.1M215.9 362.4h1.1M231.4 367.5h1.1M220.7 363.5h1.1M219.4 363.7h1.1M225.5 362.7h1.1M214.9 365.2h1.1M217.1 364.5h1.1M217.4 365.5h1.1M217.6 364.7h1.1M222.9 363.6h1.1M214.5 365.6h1.1M217.2 362.8h1.1M222.3 360.1h1.1M219.7 363.5h1.1M229.8 362.2h1.1M208.5 362.0h1.1M222.5 363.2h1.1M220.5 361.6h1.1M219.9 358.7h1.1M216.6 364.2h1.1M216.0 361.5h1.1M226.2 362.8h1.1M218.1 364.2h1.1M224.9 362.9h1.1M216.8 362.5h1.1M221.1 365.8h1.1M219.9 367.0h1.1M223.2 363.3h1.1M221.3 364.5h1.1M217.9 361.8h1.1M218.7 362.3h1.1M216.7 366.9h1.1M223.2 365.1h1.1M226.0 360.5h1.1M222.9 364.5h1.1M225.9 364.5h1.1M217.9 364.9h1.1M216.9 362.6h1.1M217.0 362.2h1.1M225.8 364.5h1.1M226.1 363.5h1.1M224.4 366.6h1.1M208.6 360.3h1.1M223.5 366.5h1.1M217.5 360.8h1.1M221.0 364.5h1.1M220.8 361.1h1.1M219.9 360.6h1.1M222.4 365.4h1.1M224.1 362.7h1.1M219.7 368.4h1.1M214.1 364.3h1.1M213.3 365.8h1.1M225.5 363.5h1.1M205.3 365.4h1.1M209.4 362.1h1.1M214.0 363.3h1.1M226.8 369.1h1.1M219.6 361.7h1.1M225.8 364.1h1.1M224.3 367.2h1.1M205.8 361.1h1.1M215.4 360.5h1.1M214.6 365.8h1.1M224.9 366.9h1.1M225.1 364.2h1.1M226.1 362.4h1.1M218.2 364.2h1.1M211.0 362.2h1.1M223.6 363.2h1.1M218.8 363.1h1.1M234.9 367.9h1.1M227.0 360.9h1.1M220.9 363.9h1.1M219.7 362.1h1.1M223.1 364.7h1.1M218.4 362.7h1.1M228.3 365.5h1.1M223.5 363.0h1.1M222.8 365.7h1.1M221.1 361.9h1.1M215.6 364.2h1.1M221.0 364.1h1.1M229.0 362.4h1.1M216.9 364.7h1.1M219.6 366.7h1.1M215.2 361.7h1.1M215.3 366.5h1.1M223.3 364.8h1.1M224.6 362.7h1.1M220.7 366.4h1.1M224.3 364.0h1.1M227.4 364.2h1.1M221.4 365.8h1.1M219.1 364.5h1.1M217.5 365.5h1.1M214.9 363.9h1.1M222.5 369.5h1.1M223.3 364.1h1.1M228.1 360.2h1.1M224.1 360.2h1.1M224.7 363.1h1.1M222.3 365.5h1.1M219.5 366.3h1.1M219.5 364.6h1.1M215.7 362.4h1.1M229.4 364.9h1.1M218.6 362.1h1.1M222.9 362.4h1.1M221.8 359.4h1.1M216.1 362.3h1.1M222.0 364.6h1.1M226.9 364.7h1.1M226.4 360.8h1.1M232.9 365.3h1.1M223.5 367.2h1.1M222.3 359.5h1.1M225.0 367.5h1.1M215.0 363.8h1.1M213.9 364.1h1.1M219.0 362.2h1.1M217.9 365.0h1.1M220.9 363.9h1.1M224.0 364.6h1.1M219.6 365.1h1.1M217.9 364.4h1.1M218.2 361.2h1.1M211.1 364.0h1.1M222.8 365.8h1.1M216.0 360.4h1.1M209.8 362.0h1.1M223.0 360.0h1.1M231.7 359.4h1.1M228.6 367.3h1.1M226.7 365.2h1.1M216.2 367.1h1.1M217.1 367.7h1.1M208.1 363.2h1.1M212.6 363.3h1.1M222.8 369.3h1.1M218.6 366.1h1.1M223.7 366.2h1.1M223.6 363.1h1.1M214.6 363.0h1.1M213.0 359.3h1.1M230.6 365.4h1.1M218.0 362.9h1.1M220.2 367.1h1.1M221.1 364.8h1.1M214.3 358.3h1.1M221.5 364.7h1.1M214.4 363.4h1.1M219.5 364.3h1.1M219.8 361.7h1.1M231.6 364.6h1.1M216.5 366.6h1.1M213.2 365.9h1.1M217.1 358.5h1.1M224.6 368.5h1.1M223.0 362.4h1.1M220.0 359.1h1.1M214.7 361.7h1.1M217.0 363.1h1.1M214.7 364.8h1.1M223.2 364.9h1.1M224.2 365.9h1.1M226.2 365.6h1.1M226.3 367.0h1.1M214.4 366.8h1.1M228.2 363.4h1.1M224.6 362.6h1.1M227.6 366.5h1.1M222.2 362.6h1.1M224.2 363.7h1.1M220.6 359.5h1.1M220.9 366.8h1.1M228.1 366.4h1.1M218.9 364.4h1.1M215.0 362.7h1.1M220.0 363.0h1.1M217.6 366.3h1.1M220.7 362.4h1.1M227.3 363.5h1.1M228.0 364.1h1.1M208.0 364.2h1.1M215.4 363.6h1.1M216.4 364.0h1.1M219.6 366.2h1.1M231.4 363.2h1.1M218.6 363.3h1.1M218.0 369.0h1.1M219.2 363.3h1.1M217.4 389.9h1.1M217.2 373.9h1.1M219.1 386.5h1.1M220.6 374.2h1.1M221.8 371.8h1.1M218.1 377.9h1.1M219.8 364.3h1.1M226.6 367.0h1.1M218.5 363.0h1.1M208.2 369.1h1.1M213.5 368.4h1.1M218.2 370.8h1.1M218.4 380.3h1.1M217.9 371.5h1.1M218.8 374.5h1.1M217.7 391.7h1.1M221.4 369.4h1.1M220.6 363.7h1.1M221.6 369.4h1.1M218.8 371.3h1.1M221.3 379.6h1.1M216.5 385.6h1.1M222.0 366.5h1.1M222.2 384.8h1.1M218.4 372.4h1.1M217.5 386.8h1.1M216.6 367.7h1.1M218.5 387.4h1.1M221.0 386.9h1.1M220.7 366.6h1.1M209.9 372.9h1.1M215.2 373.1h1.1M213.0 364.4h1.1M220.4 363.0h1.1M218.6 389.9h1.1M213.0 368.0h1.1M212.2 371.1h1.1M225.2 366.4h1.1M219.3 385.1h1.1M217.2 391.1h1.1M215.7 387.7h1.1M212.1 373.6h1.1M215.4 364.8h1.1M219.5 390.7h1.1M217.4 376.0h1.1M216.7 370.6h1.1M219.0 387.0h1.1M218.9 369.9h1.1M208.8 368.3h1.1M217.3 384.0h1.1M215.2 381.0h1.1M218.7 375.2h1.1M218.8 386.7h1.1M214.4 363.9h1.1M207.2 369.6h1.1M222.5 365.8h1.1M216.5 363.4h1.1M217.8 377.2h1.1M217.6 367.9h1.1M214.1 367.7h1.1M217.0 381.0h1.1M220.3 384.9h1.1M220.0 364.4h1.1M216.2 388.4h1.1M219.0 366.5h1.1M220.7 366.7h1.1M211.0 365.8h1.1M215.9 365.0h1.1M222.0 373.6h1.1M217.0 389.4h1.1M220.4 383.3h1.1M218.3 387.4h1.1M220.8 370.8h1.1M213.4 363.3h1.1M221.4 366.6h1.1M220.1 385.4h1.1M224.5 374.6h1.1M218.8 363.0h1.1M217.0 388.6h1.1M215.1 369.9h1.1M214.5 368.0h1.1M219.5 392.4h1.1M222.2 367.1h1.1M212.8 378.9h1.1M215.4 388.7h1.1M212.0 364.5h1.1M217.7 371.6h1.1M208.7 366.2h1.1M215.9 378.3h1.1M218.6 374.4h1.1M222.7 374.9h1.1M220.9 376.9h1.1M218.3 380.0h1.1M219.0 375.7h1.1M217.2 392.7h1.1M217.2 380.0h1.1M219.8 363.3h1.1M219.6 365.8h1.1M215.8 389.9h1.1M215.4 371.3h1.1M215.8 363.9h1.1M215.4 366.2h1.1M224.1 363.6h1.1M214.5 370.4h1.1M228.8 366.5h1.1M217.2 375.9h1.1M220.4 371.5h1.1M213.8 369.7h1.1M219.4 391.8h1.1M217.6 392.1h1.1M223.7 386.9h1.1M217.5 368.8h1.1M218.8 385.0h1.1M220.6 367.4h1.1M214.7 368.6h1.1M223.3 378.9h1.1M219.4 363.1h1.1M216.9 384.3h1.1M223.9 367.3h1.1M217.1 378.3h1.1M219.2 368.0h1.1M217.5 386.0h1.1M215.5 376.3h1.1M220.7 363.2h1.1M215.0 374.1h1.1M218.9 366.2h1.1M216.2 377.1h1.1M219.1 366.8h1.1M224.9 365.6h1.1M219.3 365.8h1.1M217.3 380.5h1.1M219.6 366.5h1.1M216.7 382.1h1.1M223.3 364.0h1.1M215.1 390.9h1.1M220.3 366.6h1.1M218.6 390.5h1.1M221.3 388.8h1.1M222.9 378.8h1.1M221.4 384.3h1.1M217.6 380.5h1.1M217.3 368.6h1.1M219.0 369.4h1.1M226.0 364.7h1.1M219.4 367.6h1.1M219.4 387.9h1.1M225.6 363.3h1.1M220.2 368.5h1.1M221.0 368.4h1.1M223.4 364.4h1.1M218.1 372.2h1.1M218.1 372.5h1.1M225.7 364.8h1.1M220.1 363.2h1.1M219.5 365.8h1.1M217.9 372.5h1.1M211.7 381.4h1.1M214.3 372.2h1.1M218.1 388.2h1.1M219.8 392.8h1.1M212.6 372.1h1.1M215.8 388.0h1.1M220.1 389.6h1.1M218.5 390.4h1.1M218.6 370.4h1.1M219.9 386.6h1.1M216.7 376.5h1.1M220.0 367.8h1.1M216.9 367.3h1.1M218.3 375.5h1.1M218.2 377.6h1.1M215.1 383.5h1.1M219.7 365.5h1.1M215.9 369.8h1.1M222.7 377.8h1.1M220.9 385.4h1.1M217.4 381.8h1.1M220.6 366.0h1.1M216.2 366.7h1.1M216.5 376.5h1.1M221.3 383.8h1.1M214.0 369.3h1.1M221.9 382.2h1.1M216.3 363.9h1.1M217.7 375.4h1.1M218.4 368.3h1.1M213.4 387.1h1.1M219.1 387.0h1.1M216.1 373.5h1.1M217.8 379.5h1.1M213.5 365.0h1.1M217.5 381.1h1.1M223.3 381.5h1.1M216.1 386.5h1.1M211.9 365.0h1.1M220.2 371.9h1.1M216.4 363.0h1.1M217.1 363.2h1.1M218.6 365.5h1.1M220.8 371.5h1.1M216.2 382.9h1.1M215.9 370.7h1.1M214.1 373.1h1.1M224.6 371.2h1.1M215.6 382.9h1.1M217.1 377.4h1.1M214.7 384.2h1.1M219.2 368.2h1.1M218.5 380.3h1.1M219.8 390.2h1.1M216.8 381.0h1.1M216.2 376.8h1.1M219.4 368.5h1.1M224.3 364.8h1.1M216.0 363.2h1.1M215.2 369.7h1.1M221.4 378.8h1.1M213.9 364.6h1.1M212.7 383.5h1.1M215.4 364.3h1.1M221.1 370.0h1.1M219.7 373.1h1.1M214.9 372.7h1.1M220.8 390.2h1.1M212.8 376.9h1.1M219.6 378.2h1.1M218.2 378.1h1.1M221.8 381.0h1.1M213.2 364.6h1.1M216.0 376.7h1.1M224.2 381.2h1.1M216.3 390.3h1.1M220.2 386.2h1.1M221.8 381.9h1.1M215.2 375.2h1.1M219.4 370.7h1.1M220.2 371.5h1.1M223.7 377.1h1.1M213.9 391.8h1.1M217.9 391.1h1.1M212.2 364.2h1.1M217.7 389.4h1.1M218.5 371.9h1.1M215.3 370.1h1.1M215.9 371.5h1.1M216.3 365.4h1.1M222.7 363.2h1.1M222.1 387.0h1.1M214.4 368.8h1.1M219.2 376.4h1.1M223.3 367.0h1.1M218.8 391.5h1.1M217.4 386.1h1.1M217.0 371.8h1.1M223.0 374.2h1.1M217.9 381.7h1.1M218.2 373.5h1.1M217.2 392.2h1.1M217.4 390.8h1.1M216.3 387.1h1.1M218.5 363.0h1.1M221.4 385.9h1.1M215.3 368.0h1.1M213.3 384.8h1.1M220.3 374.7h1.1M211.4 373.1h1.1M216.1 367.0h1.1M219.7 391.2h1.1M216.2 363.0h1.1M216.4 365.6h1.1M212.5 370.6h1.1M221.3 367.6h1.1M220.7 380.8h1.1M219.4 369.0h1.1M214.3 365.0h1.1M217.7 368.2h1.1M218.9 368.0h1.1M215.6 380.6h1.1M220.3 381.2h1.1M213.5 380.6h1.1M214.0 374.8h1.1M227.5 363.9h1.1M221.8 364.2h1.1M219.5 388.4h1.1M216.5 390.3h1.1M209.5 367.0h1.1M216.1 376.0h1.1M220.5 388.3h1.1M216.5 365.3h1.1M218.1 364.5h1.1M217.3 369.8h1.1M218.2 386.3h1.1M218.7 363.1h1.1M215.1 370.2h1.1M220.8 385.4h1.1M219.2 365.2h1.1M218.1 382.9h1.1M216.6 384.9h1.1M219.7 365.1h1.1M220.1 371.7h1.1M217.9 390.2h1.1M221.7 375.5h1.1M218.8 387.0h1.1M222.0 365.0h1.1M218.2 390.6h1.1M213.8 370.1h1.1M216.4 377.2h1.1M220.3 380.8h1.1M220.5 363.7h1.1M218.8 392.9h1.1M214.3 365.3h1.1M219.9 373.4h1.1M217.6 380.8h1.1M210.3 366.3h1.1M216.6 391.8h1.1M213.5 369.3h1.1M224.5 376.5h1.1M219.1 370.7h1.1M214.7 379.6h1.1M216.3 367.7h1.1M219.8 381.6h1.1M225.3 373.5h1.1M218.8 389.5h1.1M218.5 363.6h1.1M221.8 374.5h1.1M221.1 364.9h1.1M211.5 364.3h1.1M214.0 381.2h1.1M208.1 363.6h1.1M215.9 366.2h1.1M220.0 389.9h1.1M213.8 377.7h1.1M219.9 369.9h1.1M219.9 363.7h1.1M218.1 388.6h1.1M216.1 387.5h1.1M217.8 375.4h1.1M217.7 390.6h1.1M215.6 367.9h1.1M220.8 373.3h1.1M217.8 379.9h1.1M222.9 373.5h1.1M219.1 366.8h1.1M216.7 377.0h1.1M218.7 367.6h1.1M216.0 379.5h1.1M214.6 372.0h1.1M215.6 372.7h1.1M218.5 382.4h1.1M217.1 363.7h1.1M218.6 374.7h1.1M213.8 381.4h1.1M213.4 369.6h1.1M217.3 364.2h1.1M221.7 379.9h1.1M219.0 372.6h1.1M221.4 373.9h1.1M214.3 377.7h1.1M216.1 373.6h1.1M212.9 367.4h1.1M222.5 372.4h1.1M225.5 372.5h1.1M220.8 376.6h1.1M215.7 371.7h1.1M214.1 363.5h1.1M218.8 376.1h1.1M216.1 380.9h1.1M217.8 387.9h1.1M219.7 382.7h1.1M225.3 372.0h1.1M213.4 364.1h1.1M216.4 377.7h1.1M215.8 380.5h1.1M227.0 363.9h1.1M218.3 363.2h1.1M216.6 377.1h1.1M216.0 365.6h1.1M220.8 375.0h1.1M214.3 364.8h1.1M213.9 367.5h1.1M217.8 392.6h1.1M218.4 391.3h1.1M212.6 371.8h1.1M216.6 386.0h1.1M223.7 381.5h1.1M216.3 392.2h1.1M217.0 376.3h1.1M220.7 379.4h1.1M217.6 381.9h1.1M217.1 368.0h1.1M218.4 371.5h1.1M214.6 381.7h1.1M216.9 390.8h1.1M212.2 368.1h1.1M221.0 382.2h1.1M213.8 368.3h1.1M216.4 390.0h1.1M221.5 370.4h1.1M220.8 373.3h1.1M215.9 388.7h1.1M222.5 387.0h1.1M220.0 390.7h1.1M220.2 366.6h1.1M214.0 379.1h1.1M221.3 365.6h1.1M216.0 373.4h1.1M222.2 363.2h1.1M227.3 368.4h1.1M219.2 390.5h1.1M223.7 372.6h1.1M222.1 380.1h1.1M218.4 373.7h1.1M216.8 368.4h1.1M216.4 367.9h1.1M217.0 363.9h1.1M217.5 388.8h1.1M218.9 392.1h1.1M228.0 363.1h1.1M218.4 380.4h1.1M212.8 378.2h1.1M221.3 365.9h1.1M212.3 369.8h1.1M215.9 370.7h1.1M224.7 364.0h1.1M215.6 384.4h1.1M218.4 372.5h1.1M215.6 370.9h1.1M222.1 364.4h1.1M214.0 367.8h1.1M216.7 363.3h1.1M215.3 373.7h1.1M219.2 363.5h1.1M220.1 372.9h1.1M216.2 363.4h1.1M213.1 366.0h1.1M220.1 372.5h1.1M215.6 384.0h1.1M215.3 392.4h1.1M216.0 417.4h1.1M221.2 418.5h1.1M215.2 412.6h1.1M217.6 398.0h1.1M214.0 405.6h1.1M215.7 408.6h1.1M217.8 400.4h1.1M218.3 417.4h1.1M214.9 405.0h1.1M219.1 388.6h1.1M215.0 421.9h1.1M214.1 398.0h1.1M216.7 426.3h1.1M217.4 407.5h1.1M216.4 412.1h1.1M219.0 410.2h1.1M214.4 421.6h1.1M217.1 410.6h1.1M223.5 413.8h1.1M219.2 418.9h1.1M218.7 410.9h1.1M220.5 424.3h1.1M217.7 403.6h1.1M214.4 415.6h1.1M216.0 408.5h1.1M217.4 421.0h1.1M218.0 407.6h1.1M215.2 413.0h1.1M213.6 415.7h1.1M216.0 413.9h1.1M215.4 413.0h1.1M215.5 429.6h1.1M217.4 420.0h1.1M215.5 423.8h1.1M219.1 399.1h1.1M219.0 422.6h1.1M221.7 373.0h1.1M217.3 426.8h1.1M218.6 402.9h1.1M216.4 394.5h1.1M220.9 418.2h1.1M216.7 407.9h1.1M216.9 398.1h1.1M217.3 404.9h1.1M218.4 404.3h1.1M215.5 410.9h1.1M218.6 417.9h1.1M216.8 409.4h1.1M218.6 420.3h1.1M222.4 410.3h1.1M213.9 407.0h1.1M217.8 405.4h1.1M222.2 394.2h1.1M214.8 421.3h1.1M214.0 415.8h1.1M216.7 411.6h1.1M212.4 427.7h1.1M212.4 406.9h1.1M216.4 407.0h1.1M220.0 411.9h1.1M215.8 402.7h1.1M217.4 426.8h1.1M217.3 402.1h1.1M215.0 400.8h1.1M213.3 406.5h1.1M216.6 414.2h1.1M215.2 410.9h1.1M216.1 416.2h1.1M219.6 403.3h1.1M218.4 427.3h1.1M216.4 417.2h1.1M219.1 413.2h1.1M220.7 412.3h1.1M217.9 426.4h1.1M215.1 414.2h1.1M215.6 407.5h1.1M214.9 408.4h1.1M218.1 415.8h1.1M221.5 410.4h1.1M217.1 414.5h1.1M215.7 413.9h1.1M214.9 419.6h1.1M222.4 411.5h1.1M214.5 414.8h1.1M220.2 400.6h1.1M221.5 392.9h1.1M216.1 425.4h1.1M216.0 414.6h1.1M218.4 402.4h1.1M218.8 405.0h1.1M215.7 415.3h1.1M217.4 412.7h1.1M216.7 410.3h1.1M215.4 424.3h1.1M219.9 413.5h1.1M216.2 416.0h1.1M216.6 400.4h1.1M216.1 392.1h1.1M220.7 411.7h1.1M219.9 418.3h1.1M217.9 416.6h1.1M215.8 395.8h1.1M217.0 409.6h1.1M213.3 399.3h1.1M216.6 413.8h1.1M216.7 412.0h1.1M214.3 409.5h1.1M218.3 420.7h1.1M221.7 411.6h1.1M219.4 404.7h1.1M217.3 411.3h1.1M217.3 420.7h1.1M214.2 411.7h1.1M218.3 414.8h1.1M214.3 407.6h1.1M217.6 421.7h1.1M217.1 423.7h1.1M217.6 419.2h1.1M216.7 414.4h1.1M219.4 417.6h1.1M214.6 412.9h1.1M219.8 421.8h1.1M217.9 400.1h1.1M218.8 427.3h1.1M218.0 406.9h1.1M214.5 415.5h1.1M216.4 409.2h1.1M220.6 408.6h1.1M214.7 394.0h1.1M220.5 404.7h1.1M216.6 411.1h1.1M221.2 409.7h1.1M216.6 402.1h1.1M219.6 394.3h1.1M220.1 409.9h1.1M215.4 406.0h1.1M217.9 390.2h1.1M211.8 422.6h1.1M217.0 401.2h1.1M222.0 422.5h1.1M218.0 428.6h1.1M215.2 397.4h1.1M217.3 417.1h1.1M217.0 403.9h1.1M223.0 413.4h1.1M218.7 408.7h1.1M219.2 415.0h1.1M221.0 405.0h1.1M218.6 425.6h1.1M214.5 401.0h1.1M217.0 409.9h1.1M217.0 403.0h1.1M216.8 396.2h1.1M218.0 398.4h1.1M215.4 387.0h1.1M213.6 407.6h1.1M216.7 407.4h1.1M219.0 425.1h1.1M219.3 407.7h1.1M219.3 411.3h1.1M218.0 407.5h1.1M219.7 408.6h1.1M221.3 429.6h1.1M216.9 426.1h1.1M216.5 428.0h1.1M215.0 411.7h1.1M213.2 421.4h1.1M219.0 411.0h1.1M218.5 400.5h1.1M216.4 401.0h1.1M220.8 415.4h1.1M215.4 395.0h1.1M217.0 414.1h1.1M215.0 398.7h1.1M217.4 414.0h1.1M226.0 406.1h1.1M220.0 399.4h1.1M217.6 406.6h1.1M215.8 424.2h1.1M217.3 409.3h1.1M221.6 412.2h1.1M215.6 426.4h1.1M213.4 424.7h1.1M215.4 404.9h1.1M217.7 405.5h1.1M215.0 414.5h1.1M215.6 415.7h1.1M218.0 417.2h1.1M214.9 400.5h1.1M217.0 421.7h1.1M216.4 414.7h1.1M218.4 427.6h1.1M217.8 404.7h1.1M216.2 400.8h1.1M214.6 408.2h1.1M219.9 403.1h1.1M216.7 402.8h1.1M220.4 399.4h1.1M219.1 402.2h1.1M218.6 418.2h1.1M211.7 406.8h1.1M216.6 402.8h1.1M214.3 397.2h1.1M217.2 415.1h1.1M218.4 422.3h1.1M217.9 424.8h1.1M217.7 410.4h1.1M219.6 420.7h1.1M216.0 418.4h1.1M219.8 401.3h1.1M214.7 422.5h1.1M214.8 412.2h1.1M222.6 412.7h1.1M216.2 408.3h1.1M216.1 411.3h1.1M213.3 415.8h1.1M215.3 419.4h1.1M223.5 412.2h1.1M217.7 424.3h1.1M218.5 410.4h1.1M225.7 421.2h1.1M220.9 403.7h1.1M217.7 410.2h1.1M216.3 408.3h1.1M217.7 417.7h1.1M215.9 419.4h1.1M216.2 403.1h1.1M218.2 409.2h1.1M223.6 409.4h1.1M212.8 422.0h1.1M217.2 408.3h1.1M212.3 412.0h1.1M221.8 414.8h1.1M218.0 426.0h1.1M217.3 417.3h1.1M218.6 390.3h1.1M213.6 421.6h1.1M220.9 417.2h1.1M217.0 402.2h1.1M219.7 396.9h1.1M223.1 416.8h1.1M216.2 419.7h1.1M216.4 391.4h1.1M217.1 408.5h1.1M216.4 406.7h1.1M215.7 413.4h1.1M216.7 403.6h1.1M211.4 396.6h1.1M214.7 411.4h1.1M216.9 396.8h1.1M220.4 412.1h1.1M217.2 406.2h1.1M215.6 409.9h1.1M212.3 398.3h1.1M214.5 393.2h1.1M215.9 402.6h1.1M217.9 392.9h1.1M214.1 415.5h1.1M216.1 404.5h1.1M220.2 418.0h1.1M219.0 417.9h1.1M218.9 424.7h1.1M218.6 414.0h1.1M217.6 421.7h1.1M215.8 422.2h1.1M217.1 400.6h1.1M222.4 417.4h1.1M214.6 410.0h1.1M214.9 393.7h1.1M216.2 408.3h1.1M217.3 415.2h1.1M223.6 405.7h1.1M216.5 406.0h1.1M215.6 399.0h1.1M212.8 414.6h1.1M215.3 408.5h1.1M218.7 412.5h1.1M219.6 410.7h1.1M218.1 406.3h1.1M213.0 402.2h1.1M216.5 401.3h1.1M221.9 416.9h1.1M218.8 416.0h1.1M221.5 403.1h1.1M216.9 405.2h1.1M214.1 415.9h1.1M215.6 415.6h1.1M218.6 425.3h1.1M216.3 394.4h1.1M217.4 403.8h1.1M214.2 422.3h1.1M218.9 409.4h1.1M216.1 402.6h1.1M219.9 405.0h1.1M214.3 419.5h1.1M221.4 422.7h1.1M218.1 408.5h1.1M219.0 417.8h1.1M217.8 408.8h1.1M212.6 410.9h1.1M218.0 420.7h1.1M215.0 403.3h1.1M217.6 395.8h1.1M217.6 414.8h1.1M216.6 421.7h1.1M217.4 400.1h1.1M220.7 427.8h1.1M222.0 411.9h1.1M215.8 402.4h1.1M222.4 408.0h1.1M218.0 382.1h1.1M214.9 412.5h1.1M212.2 416.1h1.1M214.7 414.2h1.1M217.9 404.4h1.1M215.9 410.8h1.1M215.4 412.1h1.1M218.1 425.1h1.1M220.8 415.0h1.1M214.1 413.3h1.1M215.7 418.4h1.1M216.5 404.9h1.1M214.7 423.6h1.1M216.5 415.6h1.1M217.5 408.5h1.1M218.2 414.0h1.1M216.5 396.3h1.1M218.1 417.4h1.1M214.7 412.9h1.1M218.7 408.2h1.1M219.6 404.5h1.1M221.3 416.0h1.1M217.2 395.7h1.1M214.3 395.9h1.1M214.5 415.6h1.1M218.4 412.2h1.1M212.1 425.4h1.1M214.2 411.0h1.1M216.4 412.3h1.1M221.4 426.8h1.1M219.6 407.7h1.1M217.8 415.1h1.1M222.5 397.1h1.1M214.5 411.0h1.1M221.1 398.2h1.1M219.7 414.8h1.1M213.7 413.2h1.1M215.2 409.9h1.1M217.6 400.9h1.1M218.0 404.5h1.1M215.9 413.4h1.1M216.6 402.9h1.1M220.0 422.5h1.1M215.0 424.2h1.1M217.8 402.9h1.1M218.9 411.6h1.1M213.5 416.2h1.1M221.1 414.3h1.1M217.1 410.8h1.1M213.2 412.5h1.1M218.3 419.1h1.1M215.8 420.6h1.1M214.5 404.7h1.1M217.1 410.5h1.1M214.8 417.8h1.1M214.2 404.3h1.1M219.4 406.8h1.1M217.3 420.9h1.1M218.3 423.3h1.1M218.9 407.4h1.1M215.4 399.1h1.1M217.3 414.0h1.1M216.4 405.2h1.1M215.2 401.0h1.1M220.3 421.7h1.1M219.1 396.2h1.1M213.6 404.4h1.1M217.5 406.3h1.1M220.0 422.8h1.1M220.4 413.4h1.1M216.9 391.5h1.1M223.5 418.2h1.1M210.8 395.7h1.1M216.5 409.8h1.1M216.6 417.2h1.1M216.0 402.3h1.1M223.6 414.7h1.1M214.1 382.6h1.1M216.0 409.8h1.1M215.9 396.4h1.1M217.5 406.0h1.1M216.1 417.5h1.1M215.2 418.0h1.1M218.0 406.0h1.1M219.0 407.7h1.1M215.6 420.2h1.1M214.1 405.7h1.1M217.3 410.3h1.1M218.0 418.4h1.1M213.4 418.3h1.1M217.0 405.9h1.1M216.9 419.8h1.1M214.6 414.3h1.1M217.4 423.6h1.1M216.5 398.4h1.1M217.6 409.3h1.1M214.0 425.4h1.1M214.3 410.8h1.1M220.0 411.2h1.1M219.5 429.4h1.1M219.3 410.5h1.1M216.8 396.5h1.1M211.7 404.6h1.1M213.9 408.8h1.1M214.8 423.9h1.1M216.6 423.9h1.1M218.8 422.6h1.1M214.8 425.8h1.1M217.6 398.7h1.1M220.0 412.6h1.1M217.7 411.7h1.1M218.0 424.5h1.1M217.5 410.7h1.1M220.5 423.9h1.1M218.4 427.6h1.1M219.4 401.9h1.1M215.1 408.9h1.1M215.3 410.9h1.1M217.4 399.0h1.1M219.5 402.5h1.1M214.0 415.3h1.1M218.2 416.5h1.1M219.3 400.1h1.1M216.4 407.9h1.1M211.6 419.3h1.1M219.0 406.5h1.1M220.9 415.9h1.1M217.4 417.8h1.1M216.8 423.8h1.1M210.5 420.0h1.1M220.0 397.1h1.1M218.5 423.0h1.1M212.7 422.5h1.1M213.7 416.6h1.1M215.1 406.6h1.1M215.1 423.0h1.1M219.1 421.8h1.1M218.2 415.6h1.1M217.8 424.4h1.1M218.5 419.4h1.1M222.1 395.1h1.1M217.0 417.5h1.1M214.8 418.5h1.1M214.2 410.4h1.1M220.0 410.7h1.1M214.6 398.7h1.1M215.5 417.5h1.1M217.3 423.8h1.1M219.9 416.8h1.1M216.9 419.1h1.1M219.4 420.3h1.1M215.0 411.6h1.1M213.5 402.7h1.1M220.1 415.8h1.1M216.6 417.8h1.1M218.4 400.9h1.1M220.9 411.4h1.1M217.2 412.3h1.1M213.8 413.3h1.1M216.0 428.6h1.1M217.9 413.5h1.1M215.2 418.3h1.1M216.5 405.2h1.1M215.0 402.5h1.1M216.4 419.8h1.1M216.5 418.6h1.1M215.5 415.9h1.1M215.7 427.9h1.1M221.9 417.1h1.1M215.5 428.0h1.1M217.9 405.3h1.1M220.5 415.1h1.1M218.7 407.8h1.1M215.7 410.5h1.1M221.1 427.2h1.1M218.1 418.6h1.1M221.9 408.5h1.1M220.2 403.0h1.1M218.9 405.9h1.1M216.3 413.9h1.1M217.8 410.2h1.1M215.4 407.8h1.1M215.2 426.4h1.1M214.3 413.4h1.1M215.9 399.6h1.1M219.4 419.9h1.1M214.8 401.9h1.1M219.9 411.4h1.1M214.1 414.0h1.1M213.0 411.4h1.1M213.7 415.2h1.1M212.4 402.8h1.1M215.6 404.1h1.1M216.1 420.8h1.1M215.8 409.7h1.1M216.2 413.0h1.1M216.5 399.9h1.1M212.9 418.2h1.1M219.3 392.3h1.1M215.0 410.6h1.1M216.5 396.5h1.1M215.6 423.0h1.1M223.1 413.9h1.1M216.9 419.2h1.1M220.4 400.2h1.1M216.3 422.3h1.1M218.7 420.3h1.1M219.6 428.9h1.1M219.2 413.4h1.1M214.5 410.1h1.1M216.1 408.8h1.1M217.4 424.5h1.1M215.1 417.8h1.1M215.7 419.9h1.1M218.8 396.7h1.1M220.9 414.6h1.1M217.2 429.6h1.1M211.6 398.5h1.1M213.7 412.6h1.1M218.5 426.0h1.1M212.2 400.1h1.1M220.1 427.6h1.1M221.2 422.8h1.1M215.3 417.6h1.1M217.3 414.4h1.1M216.9 405.9h1.1M214.2 383.4h1.1M211.3 409.7h1.1M215.5 414.1h1.1M216.7 421.7h1.1M214.2 391.7h1.1M219.8 408.4h1.1M216.7 390.5h1.1M218.7 424.8h1.1M216.8 401.7h1.1M220.0 416.1h1.1M216.5 407.4h1.1M214.2 410.3h1.1M219.1 405.8h1.1M215.8 407.6h1.1M215.0 404.4h1.1M218.0 419.6h1.1M217.7 416.4h1.1M218.9 412.7h1.1M216.3 404.7h1.1M220.5 400.3h1.1M217.4 419.8h1.1M219.0 416.6h1.1M218.8 419.6h1.1M216.9 412.2h1.1M219.1 422.4h1.1M220.2 416.2h1.1M217.3 404.2h1.1M220.1 400.7h1.1M217.3 419.2h1.1M216.9 407.6h1.1M219.4 385.4h1.1M218.7 418.8h1.1M216.2 403.9h1.1M217.0 407.1h1.1M214.9 405.2h1.1M218.3 414.4h1.1M220.5 425.4h1.1M218.9 408.6h1.1M218.2 421.3h1.1M212.4 391.1h1.1M221.7 404.4h1.1M216.8 422.5h1.1M217.9 413.2h1.1M219.1 412.1h1.1M216.0 404.1h1.1M213.8 409.8h1.1M215.0 399.2h1.1M219.4 399.1h1.1M218.4 422.6h1.1M218.0 400.9h1.1M213.5 413.1h1.1M218.3 423.7h1.1M211.6 419.1h1.1M222.7 402.2h1.1M221.6 402.5h1.1M215.7 416.6h1.1M214.8 403.9h1.1M211.0 407.1h1.1M223.9 426.6h1.1M217.3 414.0h1.1M216.8 405.6h1.1M220.1 406.4h1.1M216.8 403.8h1.1M221.0 427.3h1.1M212.5 405.0h1.1M217.3 408.4h1.1M215.9 420.0h1.1M216.0 408.1h1.1M219.8 399.9h1.1M217.6 407.1h1.1M219.4 404.5h1.1M217.1 412.5h1.1M215.8 427.3h1.1M218.0 423.8h1.1M215.8 421.3h1.1M216.4 403.9h1.1M216.9 421.2h1.1M221.3 420.1h1.1M214.3 395.7h1.1M215.4 405.7h1.1M214.2 417.5h1.1M216.8 402.8h1.1M217.4 411.4h1.1M213.0 411.6h1.1M218.4 406.2h1.1M218.3 415.0h1.1M215.4 400.2h1.1M216.4 393.4h1.1M218.9 401.7h1.1M220.2 408.5h1.1M213.9 416.2h1.1M210.8 406.3h1.1M223.3 404.7h1.1M220.6 418.4h1.1M216.4 409.4h1.1M216.0 413.3h1.1M218.9 416.9h1.1M211.7 397.7h1.1M216.6 409.3h1.1M219.0 396.6h1.1M218.6 425.8h1.1M217.7 397.1h1.1M219.8 401.8h1.1M218.1 415.2h1.1M218.8 420.7h1.1M219.4 413.2h1.1M210.1 419.8h1.1M215.9 422.9h1.1M221.8 401.1h1.1M219.2 410.0h1.1M218.8 417.8h1.1M218.1 422.9h1.1M217.2 425.1h1.1M221.0 402.4h1.1M219.2 412.4h1.1M210.4 396.6h1.1M217.9 413.1h1.1M213.8 427.6h1.1M217.9 402.8h1.1M217.9 424.3h1.1M219.4 417.2h1.1M212.9 408.9h1.1M216.4 393.7h1.1M217.5 402.2h1.1M211.0 410.1h1.1M218.8 421.9h1.1M213.7 402.8h1.1M217.9 426.8h1.1M214.6 409.2h1.1M221.3 404.6h1.1M217.1 404.1h1.1M216.7 407.6h1.1M220.5 399.0h1.1M219.3 412.6h1.1M216.7 401.4h1.1M213.4 407.2h1.1M218.6 404.8h1.1M215.4 406.9h1.1M221.5 423.3h1.1M224.4 410.6h1.1M216.1 407.7h1.1M214.5 395.1h1.1M223.7 403.9h1.1M217.0 399.9h1.1M218.4 413.3h1.1M216.6 388.1h1.1M216.8 399.2h1.1M216.0 391.3h1.1M214.1 408.7h1.1M218.2 413.1h1.1M214.0 420.0h1.1M217.2 397.8h1.1M215.6 412.2h1.1M217.1 394.3h1.1M214.7 423.0h1.1M213.8 417.3h1.1M213.5 418.6h1.1M217.0 422.5h1.1M216.0 423.2h1.1M214.5 397.1h1.1M217.8 401.1h1.1M218.6 404.8h1.1M215.9 410.3h1.1M216.4 406.0h1.1M220.7 416.6h1.1M217.3 406.5h1.1M220.9 422.3h1.1M214.0 402.4h1.1M220.5 405.6h1.1M219.7 406.9h1.1M218.8 409.9h1.1M216.9 416.1h1.1M217.4 404.8h1.1M216.5 419.8h1.1M216.9 397.6h1.1M213.9 420.8h1.1M219.2 399.9h1.1M220.3 397.2h1.1M215.4 423.4h1.1M220.3 413.3h1.1M211.8 421.2h1.1M217.4 396.2h1.1M221.4 423.4h1.1M216.9 415.7h1.1M219.1 402.6h1.1M222.4 411.9h1.1M217.0 403.3h1.1M218.0 423.2h1.1M215.6 417.4h1.1M219.2 387.6h1.1M212.3 414.1h1.1M223.7 427.0h1.1M214.5 426.4h1.1M217.7 413.2h1.1M215.7 415.6h1.1M217.7 416.8h1.1M214.6 399.6h1.1M217.9 429.4h1.1M222.7 416.6h1.1M220.5 405.1h1.1M215.3 423.9h1.1M218.1 410.1h1.1M212.7 395.6h1.1M220.8 405.5h1.1M221.5 409.3h1.1M216.4 394.0h1.1M220.3 415.5h1.1M220.1 420.0h1.1M217.7 419.3h1.1M219.4 428.3h1.1M219.6 405.2h1.1M217.8 418.5h1.1M216.6 418.2h1.1M213.0 407.9h1.1M221.0 407.6h1.1M216.2 384.9h1.1M219.0 418.4h1.1M217.2 395.5h1.1M220.1 414.5h1.1M215.5 412.9h1.1M217.6 417.9h1.1M217.3 400.2h1.1M217.1 414.9h1.1M217.2 407.3h1.1M224.4 412.8h1.1M216.0 399.8h1.1M216.5 418.8h1.1M210.7 401.8h1.1M212.8 396.2h1.1M223.9 411.1h1.1M220.5 413.5h1.1M219.0 418.5h1.1M220.1 397.6h1.1M233.9 413.5h1.1M234.1 412.0h1.1M210.1 410.2h1.1M217.7 408.9h1.1M217.2 410.7h1.1M219.3 410.0h1.1M226.9 411.5h1.1M226.0 411.8h1.1M221.1 401.3h1.1M220.8 410.8h1.1M215.1 398.7h1.1M222.5 394.8h1.1M219.3 425.7h1.1M217.1 396.5h1.1M208.3 423.7h1.1M220.2 408.2h1.1M221.3 406.6h1.1M222.0 416.6h1.1M226.7 421.6h1.1M212.2 394.5h1.1M220.1 409.3h1.1M211.7 413.9h1.1M231.6 398.0h1.1M221.9 413.4h1.1M217.9 414.3h1.1M229.0 410.5h1.1M209.7 410.7h1.1M210.5 399.1h1.1M215.3 424.3h1.1M218.2 399.2h1.1M222.5 396.7h1.1M221.0 413.0h1.1M216.8 424.2h1.1M208.1 421.7h1.1M231.9 422.0h1.1M224.9 402.7h1.1M220.3 400.7h1.1M215.9 417.5h1.1M218.8 399.8h1.1M222.2 411.0h1.1M207.7 412.6h1.1M222.8 423.7h1.1M218.5 395.4h1.1M233.9 423.2h1.1M215.8 410.2h1.1M219.1 425.4h1.1M208.7 411.5h1.1M222.3 400.4h1.1M217.0 410.0h1.1M211.4 399.1h1.1M232.2 420.1h1.1M213.7 408.3h1.1M216.5 394.5h1.1M208.3 423.2h1.1M227.9 408.5h1.1M214.8 429.1h1.1M222.9 414.6h1.1M219.0 413.6h1.1M220.8 413.9h1.1M218.2 409.8h1.1M227.0 411.8h1.1M229.6 401.9h1.1M220.6 423.5h1.1M224.7 387.3h1.1M215.2 412.4h1.1M223.3 400.5h1.1M227.2 421.2h1.1M216.7 411.5h1.1M212.9 396.7h1.1M210.5 426.8h1.1M216.2 410.7h1.1M210.8 404.2h1.1M222.8 407.3h1.1M221.7 408.7h1.1M212.5 404.3h1.1M218.7 420.6h1.1M223.2 409.0h1.1M215.7 422.5h1.1M218.0 412.5h1.1M210.4 426.7h1.1M219.0 403.8h1.1M209.1 385.0h1.1M227.1 417.1h1.1M219.8 417.7h1.1M221.2 403.3h1.1M228.3 411.2h1.1M209.8 409.0h1.1M215.4 414.6h1.1M222.2 413.1h1.1M207.9 392.3h1.1M225.1 415.6h1.1M219.2 405.2h1.1M215.5 417.1h1.1M216.0 410.8h1.1M219.3 423.0h1.1M221.1 401.1h1.1M217.3 403.7h1.1M218.0 398.0h1.1M224.3 420.4h1.1M213.6 418.3h1.1M219.2 411.5h1.1M217.5 409.0h1.1M232.3 395.2h1.1M220.4 403.5h1.1M212.0 413.8h1.1M222.0 405.0h1.1M223.1 411.4h1.1M218.9 400.6h1.1M219.6 401.3h1.1M216.0 404.5h1.1M227.0 418.2h1.1M221.1 410.9h1.1M216.1 401.2h1.1M222.2 407.0h1.1M229.0 424.4h1.1M217.2 418.2h1.1M209.6 420.0h1.1M220.6 396.9h1.1M224.5 405.1h1.1M206.9 401.9h1.1M223.4 410.0h1.1M192.9 382.0h1.1M194.9 391.4h1.1M194.1 395.7h1.1M184.8 386.8h1.1M190.9 394.6h1.1M199.6 396.4h1.1M189.2 387.2h1.1M193.7 398.5h1.1M191.4 384.2h1.1M199.7 388.5h1.1M188.6 383.3h1.1M197.5 395.8h1.1M189.5 392.2h1.1M177.4 385.3h1.1M194.1 394.9h1.1M185.0 391.3h1.1M190.1 380.2h1.1M199.6 388.3h1.1M184.5 404.9h1.1M197.3 386.3h1.1M197.2 396.7h1.1M189.5 390.0h1.1M184.5 388.2h1.1M187.9 386.7h1.1M200.8 397.7h1.1M183.4 392.6h1.1M189.4 389.8h1.1M186.7 398.1h1.1M192.1 393.3h1.1M189.1 395.9h1.1M194.4 400.7h1.1M191.2 389.9h1.1M198.9 388.1h1.1M191.0 395.7h1.1M195.3 407.7h1.1M201.8 396.5h1.1M195.2 397.6h1.1M187.2 385.1h1.1M192.0 395.6h1.1M199.8 389.2h1.1M201.0 395.2h1.1M186.7 389.2h1.1M197.7 390.3h1.1M192.3 384.5h1.1M193.8 394.6h1.1M178.0 393.7h1.1M198.2 394.0h1.1M194.4 385.4h1.1M192.4 390.8h1.1M190.7 410.8h1.1M187.9 383.4h1.1M192.8 386.8h1.1M189.6 393.3h1.1M195.3 405.4h1.1M190.4 391.1h1.1M187.4 392.3h1.1M189.4 389.8h1.1M187.9 395.6h1.1M190.0 384.0h1.1M194.8 397.5h1.1M191.9 388.4h1.1M187.7 386.1h1.1M188.5 392.7h1.1M190.4 385.7h1.1M195.7 391.2h1.1M193.7 388.0h1.1M202.7 393.4h1.1M179.5 391.7h1.1M186.3 392.8h1.1M193.3 393.1h1.1M178.7 384.6h1.1M187.7 394.0h1.1M184.1 397.2h1.1M183.7 383.1h1.1M201.1 392.4h1.1M185.3 392.1h1.1M183.9 394.3h1.1M201.3 391.2h1.1M183.9 390.4h1.1M194.5 390.8h1.1M195.2 381.6h1.1M179.0 391.3h1.1M186.2 393.9h1.1M199.2 388.0h1.1M189.1 394.7h1.1M204.3 395.3h1.1M189.3 400.1h1.1M190.9 401.8h1.1M186.7 384.1h1.1M188.8 379.3h1.1M203.1 403.7h1.1M189.6 402.4h1.1M194.7 408.1h1.1M189.1 414.1h1.1M189.3 410.8h1.1M199.1 401.1h1.1M196.8 400.4h1.1M199.1 401.2h1.1M196.7 407.5h1.1M188.7 418.1h1.1M195.4 411.0h1.1M194.1 396.5h1.1M188.8 407.5h1.1M200.7 401.0h1.1M187.7 402.2h1.1M202.8 424.1h1.1M196.5 401.0h1.1M196.4 402.4h1.1M205.3 410.6h1.1M204.4 412.4h1.1M190.9 406.7h1.1M193.4 407.5h1.1M201.3 384.1h1.1M203.5 399.3h1.1M192.3 393.8h1.1M190.8 418.5h1.1M202.0 405.7h1.1M199.2 396.9h1.1M190.7 406.8h1.1M197.3 405.2h1.1M206.2 419.6h1.1M192.0 407.5h1.1M195.8 407.8h1.1M187.9 396.4h1.1M194.0 398.7h1.1M198.1 404.3h1.1M194.1 402.7h1.1M188.3 414.5h1.1M201.4 390.7h1.1M190.4 413.0h1.1M196.0 415.0h1.1M202.6 399.5h1.1M190.6 392.3h1.1M198.2 405.8h1.1M199.1 405.8h1.1M193.3 396.3h1.1M192.9 416.3h1.1M191.5 400.4h1.1M193.3 404.9h1.1M185.6 386.3h1.1M200.9 417.2h1.1M199.0 404.1h1.1M197.5 399.2h1.1M192.2 413.0h1.1M195.9 402.9h1.1M192.1 413.8h1.1M194.3 410.7h1.1M200.0 400.1h1.1M188.4 416.7h1.1M192.8 406.5h1.1M189.2 412.8h1.1M211.7 401.5h1.1M183.0 418.9h1.1M145.8 410.9h1.1M186.1 426.1h1.1M235.2 420.6h1.1M199.7 425.0h1.1M209.4 398.7h1.1M191.6 397.7h1.1M161.6 421.1h1.1M229.2 399.7h1.1M208.3 420.6h1.1M232.4 417.9h1.1M211.7 416.2h1.1M232.9 398.6h1.1M183.0 407.4h1.1M234.2 427.0h1.1M172.7 401.7h1.1M196.3 404.2h1.1M233.5 419.0h1.1M215.8 407.3h1.1M193.7 415.1h1.1M211.6 412.8h1.1M182.3 402.1h1.1M166.0 420.9h1.1M204.8 416.6h1.1M225.3 400.8h1.1M223.0 408.0h1.1M179.3 427.9h1.1M177.4 404.4h1.1M231.7 407.8h1.1M188.0 400.8h1.1M193.0 411.4h1.1M228.4 425.6h1.1M223.5 417.2h1.1M206.3 398.7h1.1M155.5 401.7h1.1M221.5 380.4h1.1" stroke="#000" stroke-width="1.1" fill="none"/>
<rect x="144.80" y="348.20" width="92.60" height="82.80" fill="none" stroke="#000" stroke-width="1.25"/>
<line x1="203.5" y1="348.2" x2="203.5" y2="431.0" stroke="#000" stroke-width="1.1"/>
<line x1="144.8" y1="393.8" x2="237.4" y2="393.8" stroke="#000" stroke-width="1.1"/>
<text x="148.2" y="360.3" font-size="10.2">1.2</text>
<text x="169.5" y="360.3" font-size="10.2">42.2</text>
<text x="146.6" y="374.1" font-size="10.2">23.8</text>
<text x="170.2" y="374.1" font-size="10.2">32.9</text>
<line x1="146.8" y1="363.2" x2="190.6" y2="363.2" stroke="#000" stroke-width="1.0"/>
<line x1="168.7" y1="349.4" x2="168.7" y2="376.6" stroke="#000" stroke-width="1.0"/>
<line x1="335.0" y1="276.75" x2="335.0" y2="387.35" stroke="#000" stroke-width="1.5"/>
<line x1="334.3" y1="386.65" x2="439.8" y2="386.65" stroke="#000" stroke-width="1.5"/>
<line x1="331.6" y1="386.65" x2="335.0" y2="386.65" stroke="#000" stroke-width="1.2"/>
<text x="329.8" y="390.55" font-size="10.7" text-anchor="end">0</text>
<line x1="331.6" y1="359.32" x2="335.0" y2="359.32" stroke="#000" stroke-width="1.2"/>
<text x="329.8" y="363.22" font-size="10.7" text-anchor="end">25</text>
<line x1="331.6" y1="332.0" x2="335.0" y2="332.0" stroke="#000" stroke-width="1.2"/>
<text x="329.8" y="335.9" font-size="10.7" text-anchor="end">50</text>
<line x1="331.6" y1="304.67" x2="335.0" y2="304.67" stroke="#000" stroke-width="1.2"/>
<text x="329.8" y="308.57" font-size="10.7" text-anchor="end">75</text>
<line x1="331.6" y1="277.35" x2="335.0" y2="277.35" stroke="#000" stroke-width="1.2"/>
<text x="329.8" y="281.25" font-size="10.7" text-anchor="end">100</text>
<text x="304.0" y="326.8" font-size="11.2" text-anchor="middle" transform="rotate(-90 304.0 326.8)">PBMC CLL (%)</text>
<rect x="339.30" y="277.35" width="17.80" height="109.30" fill="#e3e3e3" stroke="#000" stroke-width="1.3"/>
<rect x="339.30" y="313.86" width="17.80" height="27.00" fill="#fff" stroke="#000" stroke-width="1.2"/>
<rect x="339.30" y="340.85" width="17.80" height="45.80" fill="#000" stroke="#000" stroke-width="1.2"/>
<rect x="365.90" y="277.35" width="17.80" height="109.30" fill="#e3e3e3" stroke="#000" stroke-width="1.3"/>
<rect x="365.90" y="312.33" width="17.80" height="15.52" fill="#fff" stroke="#000" stroke-width="1.2"/>
<rect x="365.90" y="327.85" width="17.80" height="58.80" fill="#000" stroke="#000" stroke-width="1.2"/>
<rect x="392.90" y="277.35" width="17.80" height="109.30" fill="#e3e3e3" stroke="#000" stroke-width="1.3"/>
<rect x="392.90" y="315.39" width="17.80" height="17.71" fill="#fff" stroke="#000" stroke-width="1.2"/>
<rect x="392.90" y="333.09" width="17.80" height="53.56" fill="#000" stroke="#000" stroke-width="1.2"/>
<rect x="419.30" y="277.35" width="17.80" height="109.30" fill="#e3e3e3" stroke="#000" stroke-width="1.3"/>
<rect x="419.30" y="308.28" width="17.80" height="14.54" fill="#fff" stroke="#000" stroke-width="1.2"/>
<rect x="419.30" y="322.82" width="17.80" height="63.83" fill="#000" stroke="#000" stroke-width="1.2"/>
<rect x="452.10" y="288.60" width="8.20" height="8.20" fill="#e8e8e8" stroke="#000" stroke-width="1.3"/>
<rect x="452.10" y="325.50" width="8.20" height="8.20" fill="#fff" stroke="#000" stroke-width="1.3"/>
<rect x="452.10" y="353.80" width="8.20" height="8.20" fill="#000" stroke="#000" stroke-width="1.3"/>
<text y="296.2" font-size="10.8"><tspan x="466.5" textLength="13.2" lengthAdjust="spacingAndGlyphs">AV</tspan><tspan x="480.3" dy="-3.9" font-size="8.6" font-weight="bold">+</tspan><tspan x="484.6" dy="3.9">/</tspan><tspan x="492.6">PI</tspan><tspan x="503.6" dy="-3.9" font-size="8.6" font-weight="bold">+</tspan><tspan x="512.6" dy="3.9">&amp;</tspan></text>
<text y="306.1" font-size="10.8"><tspan x="466.5" textLength="13.2" lengthAdjust="spacingAndGlyphs">AV</tspan><tspan x="480.7" dy="-5.0" font-size="8.6" font-weight="bold">-</tspan><tspan x="484.6" dy="5.0">/</tspan><tspan x="492.6">PI</tspan><tspan x="503.6" dy="-3.9" font-size="8.6" font-weight="bold">+</tspan></text>
<text y="333.1" font-size="10.8"><tspan x="466.5" textLength="13.2" lengthAdjust="spacingAndGlyphs">AV</tspan><tspan x="480.3" dy="-3.9" font-size="8.6" font-weight="bold">+</tspan><tspan x="484.6" dy="3.9">/</tspan><tspan x="492.6">PI</tspan><tspan x="504.0" dy="-5.0" font-size="8.6" font-weight="bold">-</tspan></text>
<text y="361.6" font-size="10.8"><tspan x="466.5" textLength="13.2" lengthAdjust="spacingAndGlyphs">AV</tspan><tspan x="480.7" dy="-5.0" font-size="8.6" font-weight="bold">-</tspan><tspan x="484.6" dy="5.0">/</tspan><tspan x="492.6">PI</tspan><tspan x="504.0" dy="-5.0" font-size="8.6" font-weight="bold">-</tspan></text>
<text x="347.4" y="397.6" font-size="10.8" text-anchor="middle" font-weight="bold">+</text>
<text x="374.9" y="397.6" font-size="10.8" text-anchor="middle" font-weight="bold">+</text>
<text x="402.0" y="397.0" font-size="10.8" text-anchor="middle" font-weight="bold">-</text>
<text x="428.6" y="397.0" font-size="10.8" text-anchor="middle" font-weight="bold">-</text>
<text x="443.2" y="397.0" font-size="7.85" font-weight="bold">PMA / Ionomycin</text>
<text x="347.4" y="411.5" font-size="10.8" text-anchor="middle" font-weight="bold">+</text>
<text x="374.9" y="410.9" font-size="10.8" text-anchor="middle" font-weight="bold">-</text>
<text x="402.0" y="411.5" font-size="10.8" text-anchor="middle" font-weight="bold">+</text>
<text x="428.6" y="410.9" font-size="10.8" text-anchor="middle" font-weight="bold">-</text>
<text x="443.2" y="410.9" font-size="7.85" font-weight="bold">pcDNA3.1-Flag</text>
<text x="347.4" y="424.9" font-size="10.8" text-anchor="middle" font-weight="bold">-</text>
<text x="374.9" y="425.5" font-size="10.8" text-anchor="middle" font-weight="bold">+</text>
<text x="402.0" y="424.9" font-size="10.8" text-anchor="middle" font-weight="bold">-</text>
<text x="428.6" y="425.5" font-size="10.8" text-anchor="middle" font-weight="bold">+</text>
<text x="443.2" y="424.9" font-size="7.85" font-weight="bold">pcDNA3.1-Flag-Aio-1</text>
</svg>
</body></html>
